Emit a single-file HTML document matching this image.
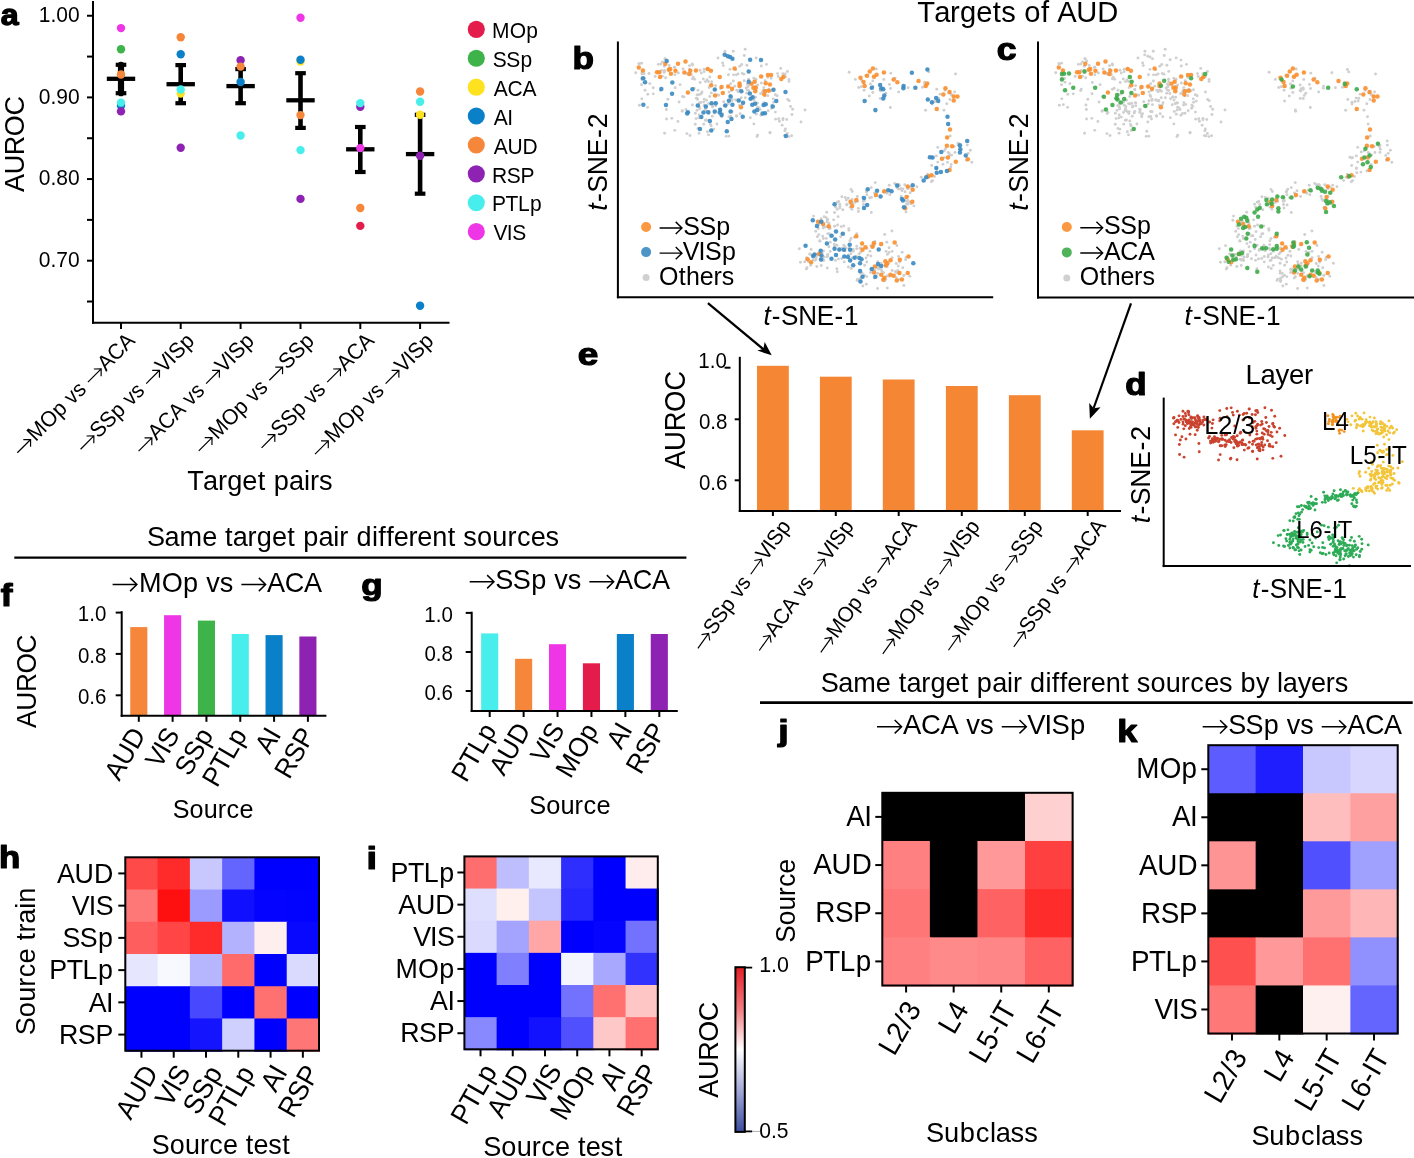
<!DOCTYPE html>
<html><head><meta charset="utf-8"><style>
html,body{margin:0;padding:0;background:#fff;}
svg{display:block;will-change:transform;}
text{font-family:"Liberation Sans",sans-serif;fill:#000;font-kerning:none;font-feature-settings:"kern" 0;}
</style></head><body>
<svg width="1414" height="1158" viewBox="0 0 1414 1158">
<rect width="1414" height="1158" fill="#fff"/>
<text transform="translate(0.70,25.16) scale(1.071,1)" font-size="30.12" font-weight="bold" stroke="#000" stroke-width="1.26" stroke-linejoin="round">a</text>
<line x1="93.00" y1="1.00" x2="93.00" y2="323.80" stroke="#000" stroke-width="2" stroke-linecap="butt"/>
<line x1="92.00" y1="322.80" x2="449.50" y2="322.80" stroke="#000" stroke-width="2" stroke-linecap="butt"/>
<line x1="87.00" y1="15.75" x2="93.00" y2="15.75" stroke="#000" stroke-width="2" stroke-linecap="butt"/>
<line x1="87.00" y1="56.58" x2="93.00" y2="56.58" stroke="#000" stroke-width="2" stroke-linecap="butt"/>
<line x1="87.00" y1="97.40" x2="93.00" y2="97.40" stroke="#000" stroke-width="2" stroke-linecap="butt"/>
<line x1="87.00" y1="138.23" x2="93.00" y2="138.23" stroke="#000" stroke-width="2" stroke-linecap="butt"/>
<line x1="87.00" y1="179.05" x2="93.00" y2="179.05" stroke="#000" stroke-width="2" stroke-linecap="butt"/>
<line x1="87.00" y1="219.88" x2="93.00" y2="219.88" stroke="#000" stroke-width="2" stroke-linecap="butt"/>
<line x1="87.00" y1="260.70" x2="93.00" y2="260.70" stroke="#000" stroke-width="2" stroke-linecap="butt"/>
<line x1="87.00" y1="301.52" x2="93.00" y2="301.52" stroke="#000" stroke-width="2" stroke-linecap="butt"/>
<g transform="translate(79.62,22.00) scale(1,1.04)">
<text y="0" font-size="21.00" fill="#000"><tspan x="-40.87">1</tspan><tspan x="-29.19">.</tspan><tspan x="-23.35">0</tspan><tspan x="-11.68">0</tspan></text>
</g>
<g transform="translate(79.62,103.65) scale(1,1.04)">
<text y="0" font-size="21.00" fill="#000"><tspan x="-40.87">0</tspan><tspan x="-29.19">.</tspan><tspan x="-23.35">9</tspan><tspan x="-11.68">0</tspan></text>
</g>
<g transform="translate(79.62,185.30) scale(1,1.04)">
<text y="0" font-size="21.00" fill="#000"><tspan x="-40.87">0</tspan><tspan x="-29.19">.</tspan><tspan x="-23.35">8</tspan><tspan x="-11.68">0</tspan></text>
</g>
<g transform="translate(79.62,266.95) scale(1,1.04)">
<text y="0" font-size="21.00" fill="#000"><tspan x="-40.87">0</tspan><tspan x="-29.19">.</tspan><tspan x="-23.35">7</tspan><tspan x="-11.68">0</tspan></text>
</g>
<g transform="translate(24.00,191.80) rotate(-90) scale(1,1.04)">
<text y="0" font-size="26.95" fill="#000"><tspan x="-0.26">A</tspan><tspan x="17.46">U</tspan><tspan x="36.68">R</tspan><tspan x="55.65">O</tspan><tspan x="76.36">C</tspan></text>
</g>
<line x1="121.00" y1="322.80" x2="121.00" y2="329.00" stroke="#000" stroke-width="2" stroke-linecap="butt"/>
<g transform="translate(136.00,342.00) rotate(-45) scale(1,1.04)">
<text y="0" font-size="21.00" fill="#000"><tspan x="-141.80">M</tspan><tspan x="-124.12">O</tspan><tspan x="-107.60">p</tspan><tspan x="-89.69">v</tspan><tspan x="-79.19">s</tspan><tspan x="-42.58">A</tspan><tspan x="-28.77">C</tspan><tspan x="-13.81">A</tspan></text>
<path d="M-162.25,-5.38H-143.45M-148.70,-10.29L-143.45,-5.38L-148.70,-0.42M-62.43,-5.38H-43.64M-48.89,-10.29L-43.64,-5.38L-48.89,-0.42" fill="none" stroke="#000" stroke-width="1.16" stroke-linejoin="miter"/>
</g>
<line x1="180.70" y1="322.80" x2="180.70" y2="329.00" stroke="#000" stroke-width="2" stroke-linecap="butt"/>
<g transform="translate(195.70,342.00) rotate(-45) scale(1,1.04)">
<text y="0" font-size="21.00" fill="#000"><tspan x="-137.35">S</tspan><tspan x="-123.74">S</tspan><tspan x="-109.55">p</tspan><tspan x="-91.64">v</tspan><tspan x="-81.14">s</tspan><tspan x="-44.92">V</tspan><tspan x="-31.70">I</tspan><tspan x="-26.26">S</tspan><tspan x="-12.07">p</tspan></text>
<path d="M-157.21,-5.38H-138.41M-143.66,-10.29L-138.41,-5.38L-143.66,-0.42M-64.39,-5.38H-45.59M-50.84,-10.29L-45.59,-5.38L-50.84,-0.42" fill="none" stroke="#000" stroke-width="1.16" stroke-linejoin="miter"/>
</g>
<line x1="240.60" y1="322.80" x2="240.60" y2="329.00" stroke="#000" stroke-width="2" stroke-linecap="butt"/>
<g transform="translate(255.60,342.00) rotate(-45) scale(1,1.04)">
<text y="0" font-size="21.00" fill="#000"><tspan x="-140.06">A</tspan><tspan x="-126.25">C</tspan><tspan x="-111.29">A</tspan><tspan x="-91.64">v</tspan><tspan x="-81.14">s</tspan><tspan x="-44.92">V</tspan><tspan x="-31.70">I</tspan><tspan x="-26.26">S</tspan><tspan x="-12.07">p</tspan></text>
<path d="M-159.92,-5.38H-141.12M-146.37,-10.29L-141.12,-5.38L-146.37,-0.42M-64.39,-5.38H-45.59M-50.84,-10.29L-45.59,-5.38L-50.84,-0.42" fill="none" stroke="#000" stroke-width="1.16" stroke-linejoin="miter"/>
</g>
<line x1="300.50" y1="322.80" x2="300.50" y2="329.00" stroke="#000" stroke-width="2" stroke-linecap="butt"/>
<g transform="translate(315.50,342.00) rotate(-45) scale(1,1.04)">
<text y="0" font-size="21.00" fill="#000"><tspan x="-139.09">M</tspan><tspan x="-121.41">O</tspan><tspan x="-104.89">p</tspan><tspan x="-86.98">v</tspan><tspan x="-76.48">s</tspan><tspan x="-39.87">S</tspan><tspan x="-26.26">S</tspan><tspan x="-12.07">p</tspan></text>
<path d="M-159.54,-5.38H-140.74M-145.99,-10.29L-140.74,-5.38L-145.99,-0.42M-59.72,-5.38H-40.93M-46.18,-10.29L-40.93,-5.38L-46.18,-0.42" fill="none" stroke="#000" stroke-width="1.16" stroke-linejoin="miter"/>
</g>
<line x1="360.30" y1="322.80" x2="360.30" y2="329.00" stroke="#000" stroke-width="2" stroke-linecap="butt"/>
<g transform="translate(375.30,342.00) rotate(-45) scale(1,1.04)">
<text y="0" font-size="21.00" fill="#000"><tspan x="-135.40">S</tspan><tspan x="-121.79">S</tspan><tspan x="-107.60">p</tspan><tspan x="-89.69">v</tspan><tspan x="-79.19">s</tspan><tspan x="-42.58">A</tspan><tspan x="-28.77">C</tspan><tspan x="-13.81">A</tspan></text>
<path d="M-155.25,-5.38H-136.46M-141.71,-10.29L-136.46,-5.38L-141.71,-0.42M-62.43,-5.38H-43.64M-48.89,-10.29L-43.64,-5.38L-48.89,-0.42" fill="none" stroke="#000" stroke-width="1.16" stroke-linejoin="miter"/>
</g>
<line x1="420.10" y1="322.80" x2="420.10" y2="329.00" stroke="#000" stroke-width="2" stroke-linecap="butt"/>
<g transform="translate(435.10,342.00) rotate(-45) scale(1,1.04)">
<text y="0" font-size="21.00" fill="#000"><tspan x="-143.76">M</tspan><tspan x="-126.07">O</tspan><tspan x="-109.55">p</tspan><tspan x="-91.64">v</tspan><tspan x="-81.14">s</tspan><tspan x="-44.92">V</tspan><tspan x="-31.70">I</tspan><tspan x="-26.26">S</tspan><tspan x="-12.07">p</tspan></text>
<path d="M-164.20,-5.38H-145.40M-150.65,-10.29L-145.40,-5.38L-150.65,-0.42M-64.39,-5.38H-45.59M-50.84,-10.29L-45.59,-5.38L-50.84,-0.42" fill="none" stroke="#000" stroke-width="1.16" stroke-linejoin="miter"/>
</g>
<g transform="translate(187.79,490.00) scale(1,1.04)">
<text y="0" font-size="27.15" fill="#000"><tspan x="-0.50">T</tspan><tspan x="15.32">a</tspan><tspan x="30.16">r</tspan><tspan x="39.45">g</tspan><tspan x="54.53">e</tspan><tspan x="69.87">t</tspan><tspan x="85.97">p</tspan><tspan x="101.31">a</tspan><tspan x="116.15">i</tspan><tspan x="122.17">r</tspan><tspan x="131.22">s</tspan></text>
</g>
<circle cx="476.30" cy="29.35" r="8.55" fill="#E31C4B"/>
<g transform="translate(491.59,38.00) scale(1,1.04)">
<text y="0" font-size="21.00" fill="#000"><tspan x="0.39">M</tspan><tspan x="18.07">O</tspan><tspan x="34.60">p</tspan></text>
</g>
<circle cx="476.30" cy="58.25" r="8.55" fill="#3DB34A"/>
<g transform="translate(492.95,66.90) scale(1,1.04)">
<text y="0" font-size="21.00" fill="#000"><tspan x="-0.20">S</tspan><tspan x="13.41">S</tspan><tspan x="27.60">p</tspan></text>
</g>
<circle cx="476.30" cy="87.15" r="8.55" fill="#FFE21F"/>
<g transform="translate(493.86,95.80) scale(1,1.04)">
<text y="0" font-size="21.00" fill="#000"><tspan x="-0.20">A</tspan><tspan x="13.61">C</tspan><tspan x="28.57">A</tspan></text>
</g>
<circle cx="476.30" cy="116.05" r="8.55" fill="#0A80C8"/>
<g transform="translate(493.86,124.70) scale(1,1.04)">
<text y="0" font-size="21.00" fill="#000"><tspan x="-0.20">A</tspan><tspan x="13.41">I</tspan></text>
</g>
<circle cx="476.30" cy="144.95" r="8.55" fill="#F5863A"/>
<g transform="translate(493.86,153.60) scale(1,1.04)">
<text y="0" font-size="21.00" fill="#000"><tspan x="-0.20">A</tspan><tspan x="13.61">U</tspan><tspan x="28.77">D</tspan></text>
</g>
<circle cx="476.30" cy="173.85" r="8.55" fill="#8D22B3"/>
<g transform="translate(492.17,182.50) scale(1,1.04)">
<text y="0" font-size="21.00" fill="#000"><tspan x="-0.19">R</tspan><tspan x="14.58">S</tspan><tspan x="28.39">P</tspan></text>
</g>
<circle cx="476.30" cy="202.75" r="8.55" fill="#48EEEC"/>
<g transform="translate(491.98,211.40) scale(1,1.04)">
<text y="0" font-size="21.00" fill="#000"><tspan x="0.00">P</tspan><tspan x="13.62">T</tspan><tspan x="26.06">L</tspan><tspan x="38.12">p</tspan></text>
</g>
<circle cx="476.30" cy="231.65" r="8.55" fill="#EF36E6"/>
<g transform="translate(494.20,240.30) scale(1,1.04)">
<text y="0" font-size="21.00" fill="#000"><tspan x="-0.59">V</tspan><tspan x="12.63">I</tspan><tspan x="18.07">S</tspan></text>
</g>
<circle cx="121.00" cy="64.80" r="3.1" fill="#000"/>
<circle cx="121.00" cy="93.20" r="3.1" fill="#000"/>
<line x1="121.00" y1="64.80" x2="121.00" y2="93.20" stroke="#000" stroke-width="6.2" stroke-linecap="butt"/>
<line x1="115.70" y1="64.80" x2="126.30" y2="64.80" stroke="#000" stroke-width="4.2" stroke-linecap="butt"/>
<line x1="115.70" y1="93.20" x2="126.30" y2="93.20" stroke="#000" stroke-width="4.2" stroke-linecap="butt"/>
<line x1="106.80" y1="78.80" x2="135.20" y2="78.80" stroke="#000" stroke-width="4.3" stroke-linecap="butt"/>
<line x1="180.70" y1="65.10" x2="180.70" y2="103.20" stroke="#000" stroke-width="4.6" stroke-linecap="butt"/>
<line x1="175.40" y1="65.10" x2="186.00" y2="65.10" stroke="#000" stroke-width="4.2" stroke-linecap="butt"/>
<line x1="175.40" y1="103.20" x2="186.00" y2="103.20" stroke="#000" stroke-width="4.2" stroke-linecap="butt"/>
<line x1="166.50" y1="84.20" x2="194.90" y2="84.20" stroke="#000" stroke-width="4.3" stroke-linecap="butt"/>
<line x1="240.60" y1="69.10" x2="240.60" y2="103.20" stroke="#000" stroke-width="4.6" stroke-linecap="butt"/>
<line x1="235.30" y1="69.10" x2="245.90" y2="69.10" stroke="#000" stroke-width="4.2" stroke-linecap="butt"/>
<line x1="235.30" y1="103.20" x2="245.90" y2="103.20" stroke="#000" stroke-width="4.2" stroke-linecap="butt"/>
<line x1="226.40" y1="86.10" x2="254.80" y2="86.10" stroke="#000" stroke-width="4.3" stroke-linecap="butt"/>
<line x1="300.50" y1="73.20" x2="300.50" y2="127.90" stroke="#000" stroke-width="4.6" stroke-linecap="butt"/>
<line x1="295.20" y1="73.20" x2="305.80" y2="73.20" stroke="#000" stroke-width="4.2" stroke-linecap="butt"/>
<line x1="295.20" y1="127.90" x2="305.80" y2="127.90" stroke="#000" stroke-width="4.2" stroke-linecap="butt"/>
<line x1="286.30" y1="100.30" x2="314.70" y2="100.30" stroke="#000" stroke-width="4.3" stroke-linecap="butt"/>
<line x1="360.30" y1="127.00" x2="360.30" y2="172.00" stroke="#000" stroke-width="4.6" stroke-linecap="butt"/>
<line x1="355.00" y1="127.00" x2="365.60" y2="127.00" stroke="#000" stroke-width="4.2" stroke-linecap="butt"/>
<line x1="355.00" y1="172.00" x2="365.60" y2="172.00" stroke="#000" stroke-width="4.2" stroke-linecap="butt"/>
<line x1="346.10" y1="149.30" x2="374.50" y2="149.30" stroke="#000" stroke-width="4.3" stroke-linecap="butt"/>
<line x1="420.10" y1="114.80" x2="420.10" y2="193.70" stroke="#000" stroke-width="4.6" stroke-linecap="butt"/>
<line x1="414.80" y1="114.80" x2="425.40" y2="114.80" stroke="#000" stroke-width="4.2" stroke-linecap="butt"/>
<line x1="414.80" y1="193.70" x2="425.40" y2="193.70" stroke="#000" stroke-width="4.2" stroke-linecap="butt"/>
<line x1="405.90" y1="154.10" x2="434.30" y2="154.10" stroke="#000" stroke-width="4.3" stroke-linecap="butt"/>
<circle cx="121.00" cy="49.20" r="4.2" fill="#3DB34A"/>
<circle cx="121.00" cy="105.70" r="4.2" fill="#0A80C8"/>
<circle cx="121.00" cy="111.40" r="4.2" fill="#8D22B3"/>
<circle cx="121.00" cy="74.50" r="4.2" fill="#F5863A"/>
<circle cx="121.00" cy="102.60" r="4.2" fill="#48EEEC"/>
<circle cx="121.00" cy="28.10" r="4.2" fill="#EF36E6"/>
<circle cx="180.70" cy="93.60" r="4.2" fill="#FFE21F"/>
<circle cx="180.70" cy="54.20" r="4.2" fill="#0A80C8"/>
<circle cx="180.70" cy="147.70" r="4.2" fill="#8D22B3"/>
<circle cx="180.70" cy="37.20" r="4.2" fill="#F5863A"/>
<circle cx="180.70" cy="89.50" r="4.2" fill="#48EEEC"/>
<circle cx="240.60" cy="82.00" r="4.2" fill="#0A80C8"/>
<circle cx="240.60" cy="60.30" r="4.2" fill="#8D22B3"/>
<circle cx="240.60" cy="66.60" r="4.2" fill="#F5863A"/>
<circle cx="240.60" cy="135.50" r="4.2" fill="#48EEEC"/>
<circle cx="300.50" cy="61.50" r="4.2" fill="#FFE21F"/>
<circle cx="300.50" cy="59.80" r="4.2" fill="#0A80C8"/>
<circle cx="300.50" cy="198.90" r="4.2" fill="#8D22B3"/>
<circle cx="300.50" cy="115.10" r="4.2" fill="#F5863A"/>
<circle cx="300.50" cy="150.10" r="4.2" fill="#48EEEC"/>
<circle cx="300.50" cy="17.70" r="4.2" fill="#EF36E6"/>
<circle cx="360.30" cy="225.90" r="4.2" fill="#E31C4B"/>
<circle cx="360.30" cy="106.80" r="4.2" fill="#8D22B3"/>
<circle cx="360.30" cy="208.00" r="4.2" fill="#F5863A"/>
<circle cx="360.30" cy="103.10" r="4.2" fill="#48EEEC"/>
<circle cx="360.30" cy="148.10" r="4.2" fill="#EF36E6"/>
<circle cx="420.10" cy="114.80" r="4.2" fill="#FFE21F"/>
<circle cx="420.10" cy="305.70" r="4.2" fill="#0A80C8"/>
<circle cx="420.10" cy="155.80" r="4.2" fill="#8D22B3"/>
<circle cx="420.10" cy="91.50" r="4.2" fill="#F5863A"/>
<circle cx="420.10" cy="101.70" r="4.2" fill="#48EEEC"/>
<g transform="translate(917.68,21.70) scale(1,1.04)">
<text y="0" font-size="29.14" fill="#000"><tspan x="-0.54">T</tspan><tspan x="16.45">a</tspan><tspan x="32.37">r</tspan><tspan x="42.34">g</tspan><tspan x="58.52">e</tspan><tspan x="74.99">t</tspan><tspan x="83.63">s</tspan><tspan x="106.56">o</tspan><tspan x="123.29">f</tspan><tspan x="139.47">A</tspan><tspan x="158.63">U</tspan><tspan x="179.67">D</tspan></text>
</g>
<text transform="translate(572.43,68.84) scale(1.107,1)" font-size="31.73" font-weight="bold" stroke="#000" stroke-width="1.23" stroke-linejoin="round">b</text>
<circle cx="757.47" cy="103.01" r="1.45" fill="#CFCFCF"/>
<circle cx="738.14" cy="91.79" r="1.45" fill="#CFCFCF"/>
<circle cx="872.80" cy="92.53" r="1.45" fill="#CFCFCF"/>
<circle cx="886.89" cy="276.06" r="1.45" fill="#CFCFCF"/>
<circle cx="766.09" cy="90.09" r="1.45" fill="#CFCFCF"/>
<circle cx="755.97" cy="79.22" r="1.45" fill="#CFCFCF"/>
<circle cx="902.76" cy="267.71" r="1.45" fill="#CFCFCF"/>
<circle cx="748.49" cy="85.23" r="1.45" fill="#CFCFCF"/>
<circle cx="909.84" cy="276.17" r="1.45" fill="#CFCFCF"/>
<circle cx="714.15" cy="113.07" r="1.45" fill="#CFCFCF"/>
<circle cx="869.27" cy="95.95" r="1.45" fill="#CFCFCF"/>
<circle cx="816.85" cy="266.57" r="1.45" fill="#CFCFCF"/>
<circle cx="860.62" cy="252.31" r="1.45" fill="#CFCFCF"/>
<circle cx="748.76" cy="84.80" r="1.45" fill="#CFCFCF"/>
<circle cx="859.04" cy="253.88" r="1.45" fill="#CFCFCF"/>
<circle cx="699.05" cy="133.20" r="1.45" fill="#CFCFCF"/>
<circle cx="880.25" cy="98.50" r="1.45" fill="#CFCFCF"/>
<circle cx="816.33" cy="256.91" r="1.45" fill="#CFCFCF"/>
<circle cx="697.04" cy="110.37" r="1.45" fill="#CFCFCF"/>
<circle cx="817.45" cy="236.81" r="1.45" fill="#CFCFCF"/>
<circle cx="940.07" cy="94.13" r="1.45" fill="#CFCFCF"/>
<circle cx="760.88" cy="115.22" r="1.45" fill="#CFCFCF"/>
<circle cx="717.20" cy="94.92" r="1.45" fill="#CFCFCF"/>
<circle cx="703.71" cy="124.14" r="1.45" fill="#CFCFCF"/>
<circle cx="708.49" cy="134.83" r="1.45" fill="#CFCFCF"/>
<circle cx="856.18" cy="256.22" r="1.45" fill="#CFCFCF"/>
<circle cx="870.47" cy="83.96" r="1.45" fill="#CFCFCF"/>
<circle cx="842.74" cy="249.63" r="1.45" fill="#CFCFCF"/>
<circle cx="699.37" cy="107.20" r="1.45" fill="#CFCFCF"/>
<circle cx="815.77" cy="231.29" r="1.45" fill="#CFCFCF"/>
<circle cx="838.48" cy="258.88" r="1.45" fill="#CFCFCF"/>
<circle cx="928.76" cy="71.90" r="1.45" fill="#CFCFCF"/>
<circle cx="755.55" cy="86.16" r="1.45" fill="#CFCFCF"/>
<circle cx="682.59" cy="96.56" r="1.45" fill="#CFCFCF"/>
<circle cx="866.76" cy="262.06" r="1.45" fill="#CFCFCF"/>
<circle cx="703.64" cy="102.06" r="1.45" fill="#CFCFCF"/>
<circle cx="866.91" cy="194.65" r="1.45" fill="#CFCFCF"/>
<circle cx="934.47" cy="176.57" r="1.45" fill="#CFCFCF"/>
<circle cx="935.00" cy="101.43" r="1.45" fill="#CFCFCF"/>
<circle cx="823.70" cy="260.52" r="1.45" fill="#CFCFCF"/>
<circle cx="661.49" cy="70.40" r="1.45" fill="#CFCFCF"/>
<circle cx="728.30" cy="103.84" r="1.45" fill="#CFCFCF"/>
<circle cx="679.09" cy="102.07" r="1.45" fill="#CFCFCF"/>
<circle cx="951.31" cy="94.43" r="1.45" fill="#CFCFCF"/>
<circle cx="841.92" cy="196.76" r="1.45" fill="#CFCFCF"/>
<circle cx="843.74" cy="225.93" r="1.45" fill="#CFCFCF"/>
<circle cx="874.94" cy="241.47" r="1.45" fill="#CFCFCF"/>
<circle cx="936.34" cy="155.89" r="1.45" fill="#CFCFCF"/>
<circle cx="931.80" cy="157.96" r="1.45" fill="#CFCFCF"/>
<circle cx="906.08" cy="257.42" r="1.45" fill="#CFCFCF"/>
<circle cx="900.99" cy="188.72" r="1.45" fill="#CFCFCF"/>
<circle cx="894.66" cy="183.55" r="1.45" fill="#CFCFCF"/>
<circle cx="863.23" cy="201.24" r="1.45" fill="#CFCFCF"/>
<circle cx="846.62" cy="204.93" r="1.45" fill="#CFCFCF"/>
<circle cx="759.99" cy="109.53" r="1.45" fill="#CFCFCF"/>
<circle cx="955.55" cy="74.05" r="1.45" fill="#CFCFCF"/>
<circle cx="839.17" cy="250.40" r="1.45" fill="#CFCFCF"/>
<circle cx="971.86" cy="162.27" r="1.45" fill="#CFCFCF"/>
<circle cx="724.08" cy="105.77" r="1.45" fill="#CFCFCF"/>
<circle cx="892.07" cy="251.36" r="1.45" fill="#CFCFCF"/>
<circle cx="647.80" cy="94.23" r="1.45" fill="#CFCFCF"/>
<circle cx="689.54" cy="69.32" r="1.45" fill="#CFCFCF"/>
<circle cx="826.64" cy="212.30" r="1.45" fill="#CFCFCF"/>
<circle cx="718.67" cy="95.19" r="1.45" fill="#CFCFCF"/>
<circle cx="872.80" cy="81.03" r="1.45" fill="#CFCFCF"/>
<circle cx="860.66" cy="280.19" r="1.45" fill="#CFCFCF"/>
<circle cx="884.70" cy="234.48" r="1.45" fill="#CFCFCF"/>
<circle cx="903.90" cy="285.55" r="1.45" fill="#CFCFCF"/>
<circle cx="699.99" cy="70.20" r="1.45" fill="#CFCFCF"/>
<circle cx="820.19" cy="259.29" r="1.45" fill="#CFCFCF"/>
<circle cx="750.35" cy="117.76" r="1.45" fill="#CFCFCF"/>
<circle cx="755.58" cy="97.24" r="1.45" fill="#CFCFCF"/>
<circle cx="898.59" cy="279.44" r="1.45" fill="#CFCFCF"/>
<circle cx="787.66" cy="99.43" r="1.45" fill="#CFCFCF"/>
<circle cx="866.34" cy="191.88" r="1.45" fill="#CFCFCF"/>
<circle cx="818.76" cy="234.61" r="1.45" fill="#CFCFCF"/>
<circle cx="830.25" cy="242.15" r="1.45" fill="#CFCFCF"/>
<circle cx="881.20" cy="263.24" r="1.45" fill="#CFCFCF"/>
<circle cx="800.46" cy="262.30" r="1.45" fill="#CFCFCF"/>
<circle cx="692.50" cy="78.68" r="1.45" fill="#CFCFCF"/>
<circle cx="958.37" cy="143.09" r="1.45" fill="#CFCFCF"/>
<circle cx="782.84" cy="73.74" r="1.45" fill="#CFCFCF"/>
<circle cx="943.98" cy="110.15" r="1.45" fill="#CFCFCF"/>
<circle cx="844.96" cy="246.92" r="1.45" fill="#CFCFCF"/>
<circle cx="898.51" cy="189.14" r="1.45" fill="#CFCFCF"/>
<circle cx="756.54" cy="103.04" r="1.45" fill="#CFCFCF"/>
<circle cx="692.56" cy="65.07" r="1.45" fill="#CFCFCF"/>
<circle cx="834.61" cy="226.31" r="1.45" fill="#CFCFCF"/>
<circle cx="937.73" cy="162.09" r="1.45" fill="#CFCFCF"/>
<circle cx="877.68" cy="273.28" r="1.45" fill="#CFCFCF"/>
<circle cx="860.49" cy="278.25" r="1.45" fill="#CFCFCF"/>
<circle cx="715.35" cy="102.62" r="1.45" fill="#CFCFCF"/>
<circle cx="757.72" cy="85.05" r="1.45" fill="#CFCFCF"/>
<circle cx="837.57" cy="225.04" r="1.45" fill="#CFCFCF"/>
<circle cx="867.91" cy="255.28" r="1.45" fill="#CFCFCF"/>
<circle cx="862.20" cy="273.27" r="1.45" fill="#CFCFCF"/>
<circle cx="887.07" cy="266.68" r="1.45" fill="#CFCFCF"/>
<circle cx="848.94" cy="230.35" r="1.45" fill="#CFCFCF"/>
<circle cx="931.37" cy="181.75" r="1.45" fill="#CFCFCF"/>
<circle cx="945.00" cy="90.19" r="1.45" fill="#CFCFCF"/>
<circle cx="635.73" cy="72.74" r="1.45" fill="#CFCFCF"/>
<circle cx="895.02" cy="78.20" r="1.45" fill="#CFCFCF"/>
<circle cx="870.89" cy="256.04" r="1.45" fill="#CFCFCF"/>
<circle cx="870.62" cy="269.27" r="1.45" fill="#CFCFCF"/>
<circle cx="748.69" cy="90.45" r="1.45" fill="#CFCFCF"/>
<circle cx="857.58" cy="279.26" r="1.45" fill="#CFCFCF"/>
<circle cx="742.23" cy="73.40" r="1.45" fill="#CFCFCF"/>
<circle cx="810.31" cy="254.18" r="1.45" fill="#CFCFCF"/>
<circle cx="658.37" cy="64.33" r="1.45" fill="#CFCFCF"/>
<circle cx="735.66" cy="100.07" r="1.45" fill="#CFCFCF"/>
<circle cx="892.12" cy="257.66" r="1.45" fill="#CFCFCF"/>
<circle cx="949.99" cy="99.45" r="1.45" fill="#CFCFCF"/>
<circle cx="853.34" cy="251.34" r="1.45" fill="#CFCFCF"/>
<circle cx="845.04" cy="250.82" r="1.45" fill="#CFCFCF"/>
<circle cx="883.35" cy="191.97" r="1.45" fill="#CFCFCF"/>
<circle cx="890.36" cy="107.43" r="1.45" fill="#CFCFCF"/>
<circle cx="852.27" cy="257.97" r="1.45" fill="#CFCFCF"/>
<circle cx="968.21" cy="153.35" r="1.45" fill="#CFCFCF"/>
<circle cx="843.84" cy="245.32" r="1.45" fill="#CFCFCF"/>
<circle cx="869.58" cy="197.80" r="1.45" fill="#CFCFCF"/>
<circle cx="889.85" cy="194.67" r="1.45" fill="#CFCFCF"/>
<circle cx="896.10" cy="277.38" r="1.45" fill="#CFCFCF"/>
<circle cx="841.87" cy="234.04" r="1.45" fill="#CFCFCF"/>
<circle cx="768.89" cy="89.28" r="1.45" fill="#CFCFCF"/>
<circle cx="765.13" cy="95.83" r="1.45" fill="#CFCFCF"/>
<circle cx="885.81" cy="279.41" r="1.45" fill="#CFCFCF"/>
<circle cx="730.81" cy="116.48" r="1.45" fill="#CFCFCF"/>
<circle cx="810.77" cy="265.13" r="1.45" fill="#CFCFCF"/>
<circle cx="896.39" cy="184.68" r="1.45" fill="#CFCFCF"/>
<circle cx="719.71" cy="109.29" r="1.45" fill="#CFCFCF"/>
<circle cx="905.60" cy="259.63" r="1.45" fill="#CFCFCF"/>
<circle cx="858.68" cy="87.50" r="1.45" fill="#CFCFCF"/>
<circle cx="854.42" cy="237.31" r="1.45" fill="#CFCFCF"/>
<circle cx="664.35" cy="66.27" r="1.45" fill="#CFCFCF"/>
<circle cx="778.21" cy="76.44" r="1.45" fill="#CFCFCF"/>
<circle cx="736.38" cy="100.05" r="1.45" fill="#CFCFCF"/>
<circle cx="791.63" cy="135.69" r="1.45" fill="#CFCFCF"/>
<circle cx="740.18" cy="90.07" r="1.45" fill="#CFCFCF"/>
<circle cx="878.69" cy="269.04" r="1.45" fill="#CFCFCF"/>
<circle cx="851.92" cy="209.35" r="1.45" fill="#CFCFCF"/>
<circle cx="695.24" cy="124.21" r="1.45" fill="#CFCFCF"/>
<circle cx="898.24" cy="266.04" r="1.45" fill="#CFCFCF"/>
<circle cx="806.34" cy="268.99" r="1.45" fill="#CFCFCF"/>
<circle cx="698.83" cy="105.73" r="1.45" fill="#CFCFCF"/>
<circle cx="857.08" cy="280.40" r="1.45" fill="#CFCFCF"/>
<circle cx="821.25" cy="265.54" r="1.45" fill="#CFCFCF"/>
<circle cx="830.18" cy="228.34" r="1.45" fill="#CFCFCF"/>
<circle cx="848.38" cy="254.83" r="1.45" fill="#CFCFCF"/>
<circle cx="870.51" cy="272.47" r="1.45" fill="#CFCFCF"/>
<circle cx="877.55" cy="288.55" r="1.45" fill="#CFCFCF"/>
<circle cx="836.85" cy="268.80" r="1.45" fill="#CFCFCF"/>
<circle cx="775.39" cy="112.08" r="1.45" fill="#CFCFCF"/>
<circle cx="678.37" cy="72.88" r="1.45" fill="#CFCFCF"/>
<circle cx="709.97" cy="104.01" r="1.45" fill="#CFCFCF"/>
<circle cx="840.59" cy="236.75" r="1.45" fill="#CFCFCF"/>
<circle cx="860.52" cy="247.85" r="1.45" fill="#CFCFCF"/>
<circle cx="807.02" cy="267.72" r="1.45" fill="#CFCFCF"/>
<circle cx="884.24" cy="191.84" r="1.45" fill="#CFCFCF"/>
<circle cx="898.63" cy="91.91" r="1.45" fill="#CFCFCF"/>
<circle cx="701.39" cy="93.35" r="1.45" fill="#CFCFCF"/>
<circle cx="710.52" cy="124.47" r="1.45" fill="#CFCFCF"/>
<circle cx="768.17" cy="110.70" r="1.45" fill="#CFCFCF"/>
<circle cx="860.23" cy="273.31" r="1.45" fill="#CFCFCF"/>
<circle cx="665.59" cy="77.73" r="1.45" fill="#CFCFCF"/>
<circle cx="966.53" cy="160.20" r="1.45" fill="#CFCFCF"/>
<circle cx="683.11" cy="68.88" r="1.45" fill="#CFCFCF"/>
<circle cx="777.57" cy="73.60" r="1.45" fill="#CFCFCF"/>
<circle cx="871.22" cy="187.60" r="1.45" fill="#CFCFCF"/>
<circle cx="886.76" cy="193.26" r="1.45" fill="#CFCFCF"/>
<circle cx="864.64" cy="265.23" r="1.45" fill="#CFCFCF"/>
<circle cx="827.39" cy="226.83" r="1.45" fill="#CFCFCF"/>
<circle cx="895.50" cy="271.49" r="1.45" fill="#CFCFCF"/>
<circle cx="820.16" cy="251.18" r="1.45" fill="#CFCFCF"/>
<circle cx="642.05" cy="72.47" r="1.45" fill="#CFCFCF"/>
<circle cx="674.28" cy="67.20" r="1.45" fill="#CFCFCF"/>
<circle cx="877.73" cy="261.79" r="1.45" fill="#CFCFCF"/>
<circle cx="884.65" cy="280.69" r="1.45" fill="#CFCFCF"/>
<circle cx="908.13" cy="204.14" r="1.45" fill="#CFCFCF"/>
<circle cx="819.68" cy="240.82" r="1.45" fill="#CFCFCF"/>
<circle cx="835.70" cy="207.14" r="1.45" fill="#CFCFCF"/>
<circle cx="742.28" cy="104.84" r="1.45" fill="#CFCFCF"/>
<circle cx="864.47" cy="275.32" r="1.45" fill="#CFCFCF"/>
<circle cx="653.26" cy="93.84" r="1.45" fill="#CFCFCF"/>
<circle cx="709.72" cy="96.56" r="1.45" fill="#CFCFCF"/>
<circle cx="644.55" cy="78.45" r="1.45" fill="#CFCFCF"/>
<circle cx="833.65" cy="219.83" r="1.45" fill="#CFCFCF"/>
<circle cx="946.82" cy="103.71" r="1.45" fill="#CFCFCF"/>
<circle cx="733.26" cy="51.24" r="1.45" fill="#CFCFCF"/>
<circle cx="823.46" cy="225.78" r="1.45" fill="#CFCFCF"/>
<circle cx="773.24" cy="98.85" r="1.45" fill="#CFCFCF"/>
<circle cx="699.20" cy="115.06" r="1.45" fill="#CFCFCF"/>
<circle cx="835.49" cy="260.35" r="1.45" fill="#CFCFCF"/>
<circle cx="859.86" cy="248.34" r="1.45" fill="#CFCFCF"/>
<circle cx="848.42" cy="267.01" r="1.45" fill="#CFCFCF"/>
<circle cx="830.15" cy="251.40" r="1.45" fill="#CFCFCF"/>
<circle cx="708.93" cy="113.56" r="1.45" fill="#CFCFCF"/>
<circle cx="827.56" cy="256.29" r="1.45" fill="#CFCFCF"/>
<circle cx="877.75" cy="267.69" r="1.45" fill="#CFCFCF"/>
<circle cx="732.07" cy="99.20" r="1.45" fill="#CFCFCF"/>
<circle cx="877.11" cy="267.48" r="1.45" fill="#CFCFCF"/>
<circle cx="641.54" cy="84.78" r="1.45" fill="#CFCFCF"/>
<circle cx="904.72" cy="184.82" r="1.45" fill="#CFCFCF"/>
<circle cx="924.60" cy="82.27" r="1.45" fill="#CFCFCF"/>
<circle cx="841.75" cy="258.45" r="1.45" fill="#CFCFCF"/>
<circle cx="850.88" cy="260.26" r="1.45" fill="#CFCFCF"/>
<circle cx="951.18" cy="164.42" r="1.45" fill="#CFCFCF"/>
<circle cx="949.76" cy="91.62" r="1.45" fill="#CFCFCF"/>
<circle cx="787.39" cy="133.54" r="1.45" fill="#CFCFCF"/>
<circle cx="891.94" cy="231.04" r="1.45" fill="#CFCFCF"/>
<circle cx="720.10" cy="111.75" r="1.45" fill="#CFCFCF"/>
<circle cx="967.28" cy="145.10" r="1.45" fill="#CFCFCF"/>
<circle cx="889.43" cy="84.40" r="1.45" fill="#CFCFCF"/>
<circle cx="731.68" cy="90.56" r="1.45" fill="#CFCFCF"/>
<circle cx="823.41" cy="250.98" r="1.45" fill="#CFCFCF"/>
<circle cx="720.56" cy="88.44" r="1.45" fill="#CFCFCF"/>
<circle cx="728.75" cy="136.17" r="1.45" fill="#CFCFCF"/>
<circle cx="875.23" cy="182.62" r="1.45" fill="#CFCFCF"/>
<circle cx="828.99" cy="223.26" r="1.45" fill="#CFCFCF"/>
<circle cx="703.30" cy="79.06" r="1.45" fill="#CFCFCF"/>
<circle cx="739.74" cy="66.27" r="1.45" fill="#CFCFCF"/>
<circle cx="852.31" cy="191.55" r="1.45" fill="#CFCFCF"/>
<circle cx="717.97" cy="58.07" r="1.45" fill="#CFCFCF"/>
<circle cx="708.49" cy="103.58" r="1.45" fill="#CFCFCF"/>
<circle cx="756.36" cy="114.16" r="1.45" fill="#CFCFCF"/>
<circle cx="822.65" cy="236.08" r="1.45" fill="#CFCFCF"/>
<circle cx="695.32" cy="113.28" r="1.45" fill="#CFCFCF"/>
<circle cx="951.21" cy="94.73" r="1.45" fill="#CFCFCF"/>
<circle cx="898.50" cy="256.41" r="1.45" fill="#CFCFCF"/>
<circle cx="706.40" cy="110.88" r="1.45" fill="#CFCFCF"/>
<circle cx="799.32" cy="248.72" r="1.45" fill="#CFCFCF"/>
<circle cx="647.57" cy="107.35" r="1.45" fill="#CFCFCF"/>
<circle cx="861.35" cy="86.72" r="1.45" fill="#CFCFCF"/>
<circle cx="861.83" cy="80.51" r="1.45" fill="#CFCFCF"/>
<circle cx="916.93" cy="186.71" r="1.45" fill="#CFCFCF"/>
<circle cx="871.40" cy="269.89" r="1.45" fill="#CFCFCF"/>
<circle cx="746.19" cy="87.89" r="1.45" fill="#CFCFCF"/>
<circle cx="885.77" cy="93.20" r="1.45" fill="#CFCFCF"/>
<circle cx="837.24" cy="202.17" r="1.45" fill="#CFCFCF"/>
<circle cx="864.06" cy="90.21" r="1.45" fill="#CFCFCF"/>
<circle cx="937.73" cy="147.36" r="1.45" fill="#CFCFCF"/>
<circle cx="706.41" cy="120.02" r="1.45" fill="#CFCFCF"/>
<circle cx="689.52" cy="65.65" r="1.45" fill="#CFCFCF"/>
<circle cx="827.76" cy="254.36" r="1.45" fill="#CFCFCF"/>
<circle cx="761.29" cy="83.00" r="1.45" fill="#CFCFCF"/>
<circle cx="662.30" cy="76.20" r="1.45" fill="#CFCFCF"/>
<circle cx="715.58" cy="85.67" r="1.45" fill="#CFCFCF"/>
<circle cx="899.48" cy="185.44" r="1.45" fill="#CFCFCF"/>
<circle cx="896.20" cy="263.51" r="1.45" fill="#CFCFCF"/>
<circle cx="851.05" cy="238.50" r="1.45" fill="#CFCFCF"/>
<circle cx="639.62" cy="63.66" r="1.45" fill="#CFCFCF"/>
<circle cx="708.37" cy="81.55" r="1.45" fill="#CFCFCF"/>
<circle cx="932.01" cy="104.07" r="1.45" fill="#CFCFCF"/>
<circle cx="901.07" cy="196.50" r="1.45" fill="#CFCFCF"/>
<circle cx="763.85" cy="87.61" r="1.45" fill="#CFCFCF"/>
<circle cx="870.95" cy="245.72" r="1.45" fill="#CFCFCF"/>
<circle cx="907.71" cy="188.73" r="1.45" fill="#CFCFCF"/>
<circle cx="834.32" cy="244.18" r="1.45" fill="#CFCFCF"/>
<circle cx="639.36" cy="105.26" r="1.45" fill="#CFCFCF"/>
<circle cx="697.99" cy="90.26" r="1.45" fill="#CFCFCF"/>
<circle cx="826.90" cy="221.88" r="1.45" fill="#CFCFCF"/>
<circle cx="866.00" cy="258.03" r="1.45" fill="#CFCFCF"/>
<circle cx="763.90" cy="102.61" r="1.45" fill="#CFCFCF"/>
<circle cx="875.60" cy="111.36" r="1.45" fill="#CFCFCF"/>
<circle cx="784.88" cy="130.78" r="1.45" fill="#CFCFCF"/>
<circle cx="970.35" cy="150.32" r="1.45" fill="#CFCFCF"/>
<circle cx="866.33" cy="284.17" r="1.45" fill="#CFCFCF"/>
<circle cx="883.56" cy="272.72" r="1.45" fill="#CFCFCF"/>
<circle cx="662.46" cy="61.87" r="1.45" fill="#CFCFCF"/>
<circle cx="736.56" cy="116.29" r="1.45" fill="#CFCFCF"/>
<circle cx="864.45" cy="200.79" r="1.45" fill="#CFCFCF"/>
<circle cx="898.74" cy="184.57" r="1.45" fill="#CFCFCF"/>
<circle cx="932.61" cy="180.62" r="1.45" fill="#CFCFCF"/>
<circle cx="888.52" cy="275.78" r="1.45" fill="#CFCFCF"/>
<circle cx="928.00" cy="177.90" r="1.45" fill="#CFCFCF"/>
<circle cx="951.70" cy="155.11" r="1.45" fill="#CFCFCF"/>
<circle cx="709.17" cy="111.58" r="1.45" fill="#CFCFCF"/>
<circle cx="904.79" cy="200.06" r="1.45" fill="#CFCFCF"/>
<circle cx="641.89" cy="78.20" r="1.45" fill="#CFCFCF"/>
<circle cx="832.94" cy="235.70" r="1.45" fill="#CFCFCF"/>
<circle cx="770.99" cy="90.72" r="1.45" fill="#CFCFCF"/>
<circle cx="767.84" cy="95.67" r="1.45" fill="#CFCFCF"/>
<circle cx="948.86" cy="92.98" r="1.45" fill="#CFCFCF"/>
<circle cx="925.63" cy="110.26" r="1.45" fill="#CFCFCF"/>
<circle cx="871.31" cy="212.46" r="1.45" fill="#CFCFCF"/>
<circle cx="886.06" cy="251.42" r="1.45" fill="#CFCFCF"/>
<circle cx="869.94" cy="251.24" r="1.45" fill="#CFCFCF"/>
<circle cx="827.06" cy="256.69" r="1.45" fill="#CFCFCF"/>
<circle cx="839.91" cy="206.38" r="1.45" fill="#CFCFCF"/>
<circle cx="701.28" cy="73.06" r="1.45" fill="#CFCFCF"/>
<circle cx="752.98" cy="96.92" r="1.45" fill="#CFCFCF"/>
<circle cx="907.88" cy="196.54" r="1.45" fill="#CFCFCF"/>
<circle cx="855.14" cy="202.54" r="1.45" fill="#CFCFCF"/>
<circle cx="804.79" cy="261.73" r="1.45" fill="#CFCFCF"/>
<circle cx="641.60" cy="63.13" r="1.45" fill="#CFCFCF"/>
<circle cx="907.97" cy="200.45" r="1.45" fill="#CFCFCF"/>
<circle cx="649.87" cy="83.63" r="1.45" fill="#CFCFCF"/>
<circle cx="849.10" cy="248.27" r="1.45" fill="#CFCFCF"/>
<circle cx="706.44" cy="100.27" r="1.45" fill="#CFCFCF"/>
<circle cx="950.24" cy="135.96" r="1.45" fill="#CFCFCF"/>
<circle cx="705.51" cy="108.59" r="1.45" fill="#CFCFCF"/>
<circle cx="911.16" cy="203.71" r="1.45" fill="#CFCFCF"/>
<circle cx="828.97" cy="246.78" r="1.45" fill="#CFCFCF"/>
<circle cx="763.33" cy="90.23" r="1.45" fill="#CFCFCF"/>
<circle cx="850.55" cy="203.75" r="1.45" fill="#CFCFCF"/>
<circle cx="704.09" cy="71.63" r="1.45" fill="#CFCFCF"/>
<circle cx="863.49" cy="204.47" r="1.45" fill="#CFCFCF"/>
<circle cx="767.73" cy="77.37" r="1.45" fill="#CFCFCF"/>
<circle cx="855.35" cy="79.40" r="1.45" fill="#CFCFCF"/>
<circle cx="818.31" cy="228.59" r="1.45" fill="#CFCFCF"/>
<circle cx="829.19" cy="233.81" r="1.45" fill="#CFCFCF"/>
<circle cx="697.07" cy="98.40" r="1.45" fill="#CFCFCF"/>
<circle cx="954.58" cy="91.94" r="1.45" fill="#CFCFCF"/>
<circle cx="756.17" cy="57.92" r="1.45" fill="#CFCFCF"/>
<circle cx="731.91" cy="100.51" r="1.45" fill="#CFCFCF"/>
<circle cx="666.38" cy="109.52" r="1.45" fill="#CFCFCF"/>
<circle cx="958.64" cy="145.57" r="1.45" fill="#CFCFCF"/>
<circle cx="704.33" cy="105.18" r="1.45" fill="#CFCFCF"/>
<circle cx="665.18" cy="58.89" r="1.45" fill="#CFCFCF"/>
<circle cx="841.88" cy="249.26" r="1.45" fill="#CFCFCF"/>
<circle cx="824.04" cy="256.88" r="1.45" fill="#CFCFCF"/>
<circle cx="822.44" cy="221.03" r="1.45" fill="#CFCFCF"/>
<circle cx="721.75" cy="116.72" r="1.45" fill="#CFCFCF"/>
<circle cx="908.05" cy="187.45" r="1.45" fill="#CFCFCF"/>
<circle cx="762.27" cy="92.49" r="1.45" fill="#CFCFCF"/>
<circle cx="813.51" cy="216.11" r="1.45" fill="#CFCFCF"/>
<circle cx="837.01" cy="245.22" r="1.45" fill="#CFCFCF"/>
<circle cx="889.24" cy="185.19" r="1.45" fill="#CFCFCF"/>
<circle cx="709.17" cy="87.49" r="1.45" fill="#CFCFCF"/>
<circle cx="887.29" cy="265.36" r="1.45" fill="#CFCFCF"/>
<circle cx="827.67" cy="219.34" r="1.45" fill="#CFCFCF"/>
<circle cx="759.10" cy="107.93" r="1.45" fill="#CFCFCF"/>
<circle cx="850.14" cy="207.24" r="1.45" fill="#CFCFCF"/>
<circle cx="857.53" cy="257.52" r="1.45" fill="#CFCFCF"/>
<circle cx="876.25" cy="68.97" r="1.45" fill="#CFCFCF"/>
<circle cx="874.47" cy="193.05" r="1.45" fill="#CFCFCF"/>
<circle cx="852.82" cy="202.70" r="1.45" fill="#CFCFCF"/>
<circle cx="724.95" cy="51.29" r="1.45" fill="#CFCFCF"/>
<circle cx="736.80" cy="90.14" r="1.45" fill="#CFCFCF"/>
<circle cx="870.96" cy="88.29" r="1.45" fill="#CFCFCF"/>
<circle cx="880.93" cy="91.10" r="1.45" fill="#CFCFCF"/>
<circle cx="936.49" cy="168.53" r="1.45" fill="#CFCFCF"/>
<circle cx="875.26" cy="196.07" r="1.45" fill="#CFCFCF"/>
<circle cx="931.70" cy="165.49" r="1.45" fill="#CFCFCF"/>
<circle cx="857.55" cy="201.38" r="1.45" fill="#CFCFCF"/>
<circle cx="948.15" cy="152.41" r="1.45" fill="#CFCFCF"/>
<circle cx="849.17" cy="72.23" r="1.45" fill="#CFCFCF"/>
<circle cx="862.87" cy="286.01" r="1.45" fill="#CFCFCF"/>
<circle cx="839.75" cy="204.22" r="1.45" fill="#CFCFCF"/>
<circle cx="890.50" cy="88.50" r="1.45" fill="#CFCFCF"/>
<circle cx="882.00" cy="271.15" r="1.45" fill="#CFCFCF"/>
<circle cx="729.07" cy="92.07" r="1.45" fill="#CFCFCF"/>
<circle cx="733.42" cy="81.07" r="1.45" fill="#CFCFCF"/>
<circle cx="694.20" cy="88.28" r="1.45" fill="#CFCFCF"/>
<circle cx="845.28" cy="197.51" r="1.45" fill="#CFCFCF"/>
<circle cx="842.77" cy="209.82" r="1.45" fill="#CFCFCF"/>
<circle cx="823.08" cy="259.14" r="1.45" fill="#CFCFCF"/>
<circle cx="944.27" cy="150.79" r="1.45" fill="#CFCFCF"/>
<circle cx="883.12" cy="87.95" r="1.45" fill="#CFCFCF"/>
<circle cx="880.77" cy="244.99" r="1.45" fill="#CFCFCF"/>
<circle cx="866.93" cy="248.58" r="1.45" fill="#CFCFCF"/>
<circle cx="938.70" cy="98.25" r="1.45" fill="#CFCFCF"/>
<circle cx="838.65" cy="201.57" r="1.45" fill="#CFCFCF"/>
<circle cx="682.16" cy="110.68" r="1.45" fill="#CFCFCF"/>
<circle cx="823.34" cy="238.47" r="1.45" fill="#CFCFCF"/>
<circle cx="815.17" cy="260.26" r="1.45" fill="#CFCFCF"/>
<circle cx="844.26" cy="261.89" r="1.45" fill="#CFCFCF"/>
<circle cx="848.14" cy="198.24" r="1.45" fill="#CFCFCF"/>
<circle cx="809.68" cy="253.98" r="1.45" fill="#CFCFCF"/>
<circle cx="765.20" cy="80.71" r="1.45" fill="#CFCFCF"/>
<circle cx="865.68" cy="75.78" r="1.45" fill="#CFCFCF"/>
<circle cx="848.76" cy="228.59" r="1.45" fill="#CFCFCF"/>
<circle cx="785.46" cy="76.65" r="1.45" fill="#CFCFCF"/>
<circle cx="895.94" cy="272.48" r="1.45" fill="#CFCFCF"/>
<circle cx="866.78" cy="276.62" r="1.45" fill="#CFCFCF"/>
<circle cx="954.08" cy="146.52" r="1.45" fill="#CFCFCF"/>
<circle cx="851.04" cy="189.42" r="1.45" fill="#CFCFCF"/>
<circle cx="888.95" cy="252.45" r="1.45" fill="#CFCFCF"/>
<circle cx="744.24" cy="55.52" r="1.45" fill="#CFCFCF"/>
<circle cx="903.04" cy="188.88" r="1.45" fill="#CFCFCF"/>
<circle cx="904.12" cy="275.08" r="1.45" fill="#CFCFCF"/>
<circle cx="712.21" cy="116.32" r="1.45" fill="#CFCFCF"/>
<circle cx="753.74" cy="78.31" r="1.45" fill="#CFCFCF"/>
<circle cx="699.30" cy="103.05" r="1.45" fill="#CFCFCF"/>
<circle cx="902.17" cy="252.30" r="1.45" fill="#CFCFCF"/>
<circle cx="660.67" cy="90.45" r="1.45" fill="#CFCFCF"/>
<circle cx="849.89" cy="240.81" r="1.45" fill="#CFCFCF"/>
<circle cx="745.13" cy="49.24" r="1.45" fill="#CFCFCF"/>
<circle cx="906.36" cy="204.21" r="1.45" fill="#CFCFCF"/>
<circle cx="674.92" cy="74.67" r="1.45" fill="#CFCFCF"/>
<circle cx="820.08" cy="241.14" r="1.45" fill="#CFCFCF"/>
<circle cx="883.80" cy="79.43" r="1.45" fill="#CFCFCF"/>
<circle cx="959.55" cy="147.12" r="1.45" fill="#CFCFCF"/>
<circle cx="922.59" cy="87.32" r="1.45" fill="#CFCFCF"/>
<circle cx="880.09" cy="90.56" r="1.45" fill="#CFCFCF"/>
<circle cx="887.29" cy="288.00" r="1.45" fill="#CFCFCF"/>
<circle cx="730.12" cy="95.15" r="1.45" fill="#CFCFCF"/>
<circle cx="699.67" cy="108.90" r="1.45" fill="#CFCFCF"/>
<circle cx="954.94" cy="152.51" r="1.45" fill="#CFCFCF"/>
<circle cx="638.74" cy="63.69" r="1.45" fill="#CFCFCF"/>
<circle cx="715.78" cy="105.83" r="1.45" fill="#CFCFCF"/>
<circle cx="874.26" cy="278.06" r="1.45" fill="#CFCFCF"/>
<circle cx="851.24" cy="268.52" r="1.45" fill="#CFCFCF"/>
<circle cx="692.19" cy="63.88" r="1.45" fill="#CFCFCF"/>
<circle cx="705.39" cy="120.29" r="1.45" fill="#CFCFCF"/>
<circle cx="903.74" cy="275.45" r="1.45" fill="#CFCFCF"/>
<circle cx="949.08" cy="153.15" r="1.45" fill="#CFCFCF"/>
<circle cx="821.59" cy="260.34" r="1.45" fill="#CFCFCF"/>
<circle cx="641.75" cy="98.83" r="1.45" fill="#CFCFCF"/>
<circle cx="748.59" cy="79.31" r="1.45" fill="#CFCFCF"/>
<circle cx="739.54" cy="105.15" r="1.45" fill="#CFCFCF"/>
<circle cx="674.83" cy="67.29" r="1.45" fill="#CFCFCF"/>
<circle cx="746.69" cy="93.23" r="1.45" fill="#CFCFCF"/>
<circle cx="910.17" cy="187.31" r="1.45" fill="#CFCFCF"/>
<circle cx="714.85" cy="89.64" r="1.45" fill="#CFCFCF"/>
<circle cx="747.88" cy="86.70" r="1.45" fill="#CFCFCF"/>
<circle cx="667.85" cy="99.28" r="1.45" fill="#CFCFCF"/>
<circle cx="890.82" cy="73.16" r="1.45" fill="#CFCFCF"/>
<circle cx="896.96" cy="245.43" r="1.45" fill="#CFCFCF"/>
<circle cx="866.49" cy="191.18" r="1.45" fill="#CFCFCF"/>
<circle cx="927.49" cy="174.14" r="1.45" fill="#CFCFCF"/>
<circle cx="716.92" cy="124.06" r="1.45" fill="#CFCFCF"/>
<circle cx="899.57" cy="262.01" r="1.45" fill="#CFCFCF"/>
<circle cx="655.15" cy="76.41" r="1.45" fill="#CFCFCF"/>
<circle cx="850.91" cy="253.71" r="1.45" fill="#CFCFCF"/>
<circle cx="829.15" cy="228.76" r="1.45" fill="#CFCFCF"/>
<circle cx="664.93" cy="58.72" r="1.45" fill="#CFCFCF"/>
<circle cx="816.41" cy="254.11" r="1.45" fill="#CFCFCF"/>
<circle cx="738.82" cy="90.52" r="1.45" fill="#CFCFCF"/>
<circle cx="897.09" cy="187.75" r="1.45" fill="#CFCFCF"/>
<circle cx="728.87" cy="116.76" r="1.45" fill="#CFCFCF"/>
<circle cx="780.71" cy="68.41" r="1.45" fill="#CFCFCF"/>
<circle cx="728.50" cy="74.73" r="1.45" fill="#CFCFCF"/>
<circle cx="782.13" cy="125.13" r="1.45" fill="#CFCFCF"/>
<circle cx="687.37" cy="73.94" r="1.45" fill="#CFCFCF"/>
<circle cx="783.52" cy="76.40" r="1.45" fill="#CFCFCF"/>
<circle cx="712.48" cy="107.09" r="1.45" fill="#CFCFCF"/>
<circle cx="711.23" cy="125.89" r="1.45" fill="#CFCFCF"/>
<circle cx="784.43" cy="135.62" r="1.45" fill="#CFCFCF"/>
<circle cx="773.61" cy="102.23" r="1.45" fill="#CFCFCF"/>
<circle cx="723.74" cy="101.80" r="1.45" fill="#CFCFCF"/>
<circle cx="660.86" cy="63.99" r="1.45" fill="#CFCFCF"/>
<circle cx="789.02" cy="79.54" r="1.45" fill="#CFCFCF"/>
<circle cx="779.44" cy="121.19" r="1.45" fill="#CFCFCF"/>
<circle cx="712.86" cy="105.90" r="1.45" fill="#CFCFCF"/>
<circle cx="736.30" cy="74.87" r="1.45" fill="#CFCFCF"/>
<circle cx="664.44" cy="70.39" r="1.45" fill="#CFCFCF"/>
<circle cx="743.97" cy="74.14" r="1.45" fill="#CFCFCF"/>
<circle cx="791.95" cy="114.56" r="1.45" fill="#CFCFCF"/>
<circle cx="664.17" cy="72.38" r="1.45" fill="#CFCFCF"/>
<circle cx="746.88" cy="65.20" r="1.45" fill="#CFCFCF"/>
<circle cx="669.16" cy="65.50" r="1.45" fill="#CFCFCF"/>
<circle cx="775.63" cy="119.13" r="1.45" fill="#CFCFCF"/>
<circle cx="686.91" cy="133.59" r="1.45" fill="#CFCFCF"/>
<circle cx="732.08" cy="111.81" r="1.45" fill="#CFCFCF"/>
<circle cx="778.76" cy="118.68" r="1.45" fill="#CFCFCF"/>
<circle cx="756.02" cy="90.79" r="1.45" fill="#CFCFCF"/>
<circle cx="693.29" cy="77.24" r="1.45" fill="#CFCFCF"/>
<circle cx="664.57" cy="133.19" r="1.45" fill="#CFCFCF"/>
<circle cx="783.00" cy="118.53" r="1.45" fill="#CFCFCF"/>
<circle cx="671.81" cy="118.36" r="1.45" fill="#CFCFCF"/>
<circle cx="745.35" cy="97.78" r="1.45" fill="#CFCFCF"/>
<circle cx="677.91" cy="121.40" r="1.45" fill="#CFCFCF"/>
<circle cx="747.25" cy="84.08" r="1.45" fill="#CFCFCF"/>
<circle cx="705.43" cy="81.59" r="1.45" fill="#CFCFCF"/>
<circle cx="707.37" cy="131.76" r="1.45" fill="#CFCFCF"/>
<circle cx="666.54" cy="118.99" r="1.45" fill="#CFCFCF"/>
<circle cx="782.90" cy="119.69" r="1.45" fill="#CFCFCF"/>
<circle cx="741.27" cy="97.71" r="1.45" fill="#CFCFCF"/>
<circle cx="698.83" cy="117.92" r="1.45" fill="#CFCFCF"/>
<circle cx="766.52" cy="64.34" r="1.45" fill="#CFCFCF"/>
<circle cx="730.01" cy="69.37" r="1.45" fill="#CFCFCF"/>
<circle cx="723.31" cy="65.61" r="1.45" fill="#CFCFCF"/>
<circle cx="736.42" cy="115.58" r="1.45" fill="#CFCFCF"/>
<circle cx="771.76" cy="105.09" r="1.45" fill="#CFCFCF"/>
<circle cx="698.76" cy="94.70" r="1.45" fill="#CFCFCF"/>
<circle cx="730.68" cy="83.63" r="1.45" fill="#CFCFCF"/>
<circle cx="761.32" cy="66.05" r="1.45" fill="#CFCFCF"/>
<circle cx="706.95" cy="69.18" r="1.45" fill="#CFCFCF"/>
<circle cx="753.85" cy="123.90" r="1.45" fill="#CFCFCF"/>
<circle cx="790.57" cy="106.44" r="1.45" fill="#CFCFCF"/>
<circle cx="789.22" cy="100.64" r="1.45" fill="#CFCFCF"/>
<circle cx="738.03" cy="73.92" r="1.45" fill="#CFCFCF"/>
<circle cx="770.06" cy="132.37" r="1.45" fill="#CFCFCF"/>
<circle cx="691.26" cy="74.43" r="1.45" fill="#CFCFCF"/>
<circle cx="786.73" cy="119.51" r="1.45" fill="#CFCFCF"/>
<circle cx="726.19" cy="136.33" r="1.45" fill="#CFCFCF"/>
<circle cx="735.77" cy="69.84" r="1.45" fill="#CFCFCF"/>
<circle cx="704.10" cy="69.14" r="1.45" fill="#CFCFCF"/>
<circle cx="785.35" cy="128.89" r="1.45" fill="#CFCFCF"/>
<circle cx="760.60" cy="93.66" r="1.45" fill="#CFCFCF"/>
<circle cx="747.19" cy="89.90" r="1.45" fill="#CFCFCF"/>
<circle cx="700.92" cy="94.10" r="1.45" fill="#CFCFCF"/>
<circle cx="733.57" cy="74.83" r="1.45" fill="#CFCFCF"/>
<circle cx="792.63" cy="109.31" r="1.45" fill="#CFCFCF"/>
<circle cx="787.43" cy="71.52" r="1.45" fill="#CFCFCF"/>
<circle cx="740.20" cy="113.69" r="1.45" fill="#CFCFCF"/>
<circle cx="741.72" cy="64.54" r="1.45" fill="#CFCFCF"/>
<circle cx="738.51" cy="101.13" r="1.45" fill="#CFCFCF"/>
<circle cx="777.18" cy="95.77" r="1.45" fill="#CFCFCF"/>
<circle cx="734.75" cy="86.25" r="1.45" fill="#CFCFCF"/>
<circle cx="722.53" cy="113.68" r="1.45" fill="#CFCFCF"/>
<circle cx="694.72" cy="79.33" r="1.45" fill="#CFCFCF"/>
<circle cx="705.10" cy="110.20" r="1.45" fill="#CFCFCF"/>
<circle cx="754.04" cy="100.08" r="1.45" fill="#CFCFCF"/>
<circle cx="696.11" cy="118.61" r="1.45" fill="#CFCFCF"/>
<circle cx="771.58" cy="108.30" r="1.45" fill="#CFCFCF"/>
<circle cx="757.65" cy="135.11" r="1.45" fill="#CFCFCF"/>
<circle cx="757.63" cy="107.22" r="1.45" fill="#CFCFCF"/>
<circle cx="707.07" cy="79.72" r="1.45" fill="#CFCFCF"/>
<circle cx="789.03" cy="81.40" r="1.45" fill="#CFCFCF"/>
<circle cx="788.92" cy="136.62" r="1.45" fill="#CFCFCF"/>
<circle cx="682.22" cy="111.34" r="1.45" fill="#CFCFCF"/>
<circle cx="686.38" cy="73.32" r="1.45" fill="#CFCFCF"/>
<circle cx="680.02" cy="84.66" r="1.45" fill="#CFCFCF"/>
<circle cx="700.15" cy="82.54" r="1.45" fill="#CFCFCF"/>
<circle cx="674.75" cy="130.36" r="1.45" fill="#CFCFCF"/>
<circle cx="697.91" cy="128.39" r="1.45" fill="#CFCFCF"/>
<circle cx="722.63" cy="62.95" r="1.45" fill="#CFCFCF"/>
<circle cx="775.33" cy="94.74" r="1.45" fill="#CFCFCF"/>
<circle cx="690.03" cy="135.57" r="1.45" fill="#CFCFCF"/>
<circle cx="801.00" cy="122.00" r="1.45" fill="#CFCFCF"/>
<circle cx="757.00" cy="136.50" r="1.45" fill="#CFCFCF"/>
<circle cx="770.00" cy="133.00" r="1.45" fill="#CFCFCF"/>
<circle cx="805.00" cy="110.00" r="1.45" fill="#CFCFCF"/>
<circle cx="641.92" cy="73.95" r="1.45" fill="#CFCFCF"/>
<circle cx="644.05" cy="73.66" r="1.45" fill="#CFCFCF"/>
<circle cx="649.00" cy="73.52" r="1.45" fill="#CFCFCF"/>
<circle cx="641.92" cy="79.60" r="1.45" fill="#CFCFCF"/>
<circle cx="645.04" cy="90.21" r="1.45" fill="#CFCFCF"/>
<circle cx="653.24" cy="87.81" r="1.45" fill="#CFCFCF"/>
<circle cx="664.55" cy="71.40" r="1.45" fill="#CFCFCF"/>
<circle cx="675.16" cy="87.67" r="1.45" fill="#CFCFCF"/>
<circle cx="683.93" cy="96.86" r="1.45" fill="#CFCFCF"/>
<circle cx="685.91" cy="109.45" r="1.45" fill="#CFCFCF"/>
<circle cx="692.42" cy="105.06" r="1.45" fill="#CFCFCF"/>
<circle cx="697.09" cy="94.88" r="1.45" fill="#CFCFCF"/>
<circle cx="696.38" cy="98.27" r="1.45" fill="#CFCFCF"/>
<circle cx="697.51" cy="99.41" r="1.45" fill="#CFCFCF"/>
<circle cx="700.91" cy="102.52" r="1.45" fill="#CFCFCF"/>
<circle cx="702.04" cy="92.05" r="1.45" fill="#CFCFCF"/>
<circle cx="704.16" cy="99.12" r="1.45" fill="#CFCFCF"/>
<circle cx="709.82" cy="77.06" r="1.45" fill="#CFCFCF"/>
<circle cx="711.65" cy="81.73" r="1.45" fill="#CFCFCF"/>
<circle cx="711.37" cy="93.04" r="1.45" fill="#CFCFCF"/>
<circle cx="713.78" cy="129.11" r="1.45" fill="#CFCFCF"/>
<circle cx="725.37" cy="106.05" r="1.45" fill="#CFCFCF"/>
<circle cx="740.93" cy="85.69" r="1.45" fill="#CFCFCF"/>
<circle cx="744.19" cy="80.74" r="1.45" fill="#CFCFCF"/>
<circle cx="771.06" cy="78.19" r="1.45" fill="#CFCFCF"/>
<circle cx="785.21" cy="73.95" r="1.45" fill="#CFCFCF"/>
<circle cx="861.50" cy="79.46" r="1.45" fill="#CFCFCF"/>
<circle cx="872.90" cy="86.50" r="1.45" fill="#CFCFCF"/>
<circle cx="908.13" cy="87.75" r="1.45" fill="#CFCFCF"/>
<circle cx="924.72" cy="84.02" r="1.45" fill="#CFCFCF"/>
<circle cx="936.74" cy="89.20" r="1.45" fill="#CFCFCF"/>
<circle cx="957.88" cy="143.70" r="1.45" fill="#CFCFCF"/>
<circle cx="945.44" cy="148.68" r="1.45" fill="#CFCFCF"/>
<circle cx="949.59" cy="155.52" r="1.45" fill="#CFCFCF"/>
<circle cx="944.40" cy="157.59" r="1.45" fill="#CFCFCF"/>
<circle cx="942.95" cy="164.22" r="1.45" fill="#CFCFCF"/>
<circle cx="947.51" cy="162.36" r="1.45" fill="#CFCFCF"/>
<circle cx="950.83" cy="166.92" r="1.45" fill="#CFCFCF"/>
<circle cx="921.19" cy="177.28" r="1.45" fill="#CFCFCF"/>
<circle cx="929.27" cy="176.24" r="1.45" fill="#CFCFCF"/>
<circle cx="890.52" cy="190.13" r="1.45" fill="#CFCFCF"/>
<circle cx="897.77" cy="187.64" r="1.45" fill="#CFCFCF"/>
<circle cx="900.88" cy="188.68" r="1.45" fill="#CFCFCF"/>
<circle cx="901.92" cy="190.75" r="1.45" fill="#CFCFCF"/>
<circle cx="905.03" cy="191.79" r="1.45" fill="#CFCFCF"/>
<circle cx="910.21" cy="192.82" r="1.45" fill="#CFCFCF"/>
<circle cx="871.45" cy="197.38" r="1.45" fill="#CFCFCF"/>
<circle cx="862.95" cy="197.18" r="1.45" fill="#CFCFCF"/>
<circle cx="857.36" cy="196.55" r="1.45" fill="#CFCFCF"/>
<circle cx="852.18" cy="199.46" r="1.45" fill="#CFCFCF"/>
<circle cx="846.37" cy="200.08" r="1.45" fill="#CFCFCF"/>
<circle cx="846.99" cy="204.22" r="1.45" fill="#CFCFCF"/>
<circle cx="851.55" cy="203.81" r="1.45" fill="#CFCFCF"/>
<circle cx="858.39" cy="208.37" r="1.45" fill="#CFCFCF"/>
<circle cx="858.39" cy="211.48" r="1.45" fill="#CFCFCF"/>
<circle cx="839.74" cy="207.95" r="1.45" fill="#CFCFCF"/>
<circle cx="837.25" cy="209.40" r="1.45" fill="#CFCFCF"/>
<circle cx="834.56" cy="212.51" r="1.45" fill="#CFCFCF"/>
<circle cx="838.08" cy="216.66" r="1.45" fill="#CFCFCF"/>
<circle cx="906.06" cy="201.11" r="1.45" fill="#CFCFCF"/>
<circle cx="907.72" cy="203.19" r="1.45" fill="#CFCFCF"/>
<circle cx="909.79" cy="202.15" r="1.45" fill="#CFCFCF"/>
<circle cx="913.94" cy="205.88" r="1.45" fill="#CFCFCF"/>
<circle cx="906.06" cy="211.89" r="1.45" fill="#CFCFCF"/>
<circle cx="821.09" cy="218.73" r="1.45" fill="#CFCFCF"/>
<circle cx="824.20" cy="216.66" r="1.45" fill="#CFCFCF"/>
<circle cx="826.27" cy="217.69" r="1.45" fill="#CFCFCF"/>
<circle cx="827.31" cy="220.80" r="1.45" fill="#CFCFCF"/>
<circle cx="819.02" cy="224.53" r="1.45" fill="#CFCFCF"/>
<circle cx="823.16" cy="228.06" r="1.45" fill="#CFCFCF"/>
<circle cx="825.23" cy="227.02" r="1.45" fill="#CFCFCF"/>
<circle cx="841.19" cy="226.61" r="1.45" fill="#CFCFCF"/>
<circle cx="827.72" cy="233.65" r="1.45" fill="#CFCFCF"/>
<circle cx="826.27" cy="238.42" r="1.45" fill="#CFCFCF"/>
<circle cx="856.74" cy="233.65" r="1.45" fill="#CFCFCF"/>
<circle cx="834.56" cy="246.09" r="1.45" fill="#CFCFCF"/>
<circle cx="842.23" cy="248.16" r="1.45" fill="#CFCFCF"/>
<circle cx="845.96" cy="248.16" r="1.45" fill="#CFCFCF"/>
<circle cx="853.21" cy="249.20" r="1.45" fill="#CFCFCF"/>
<circle cx="856.74" cy="246.09" r="1.45" fill="#CFCFCF"/>
<circle cx="856.74" cy="248.78" r="1.45" fill="#CFCFCF"/>
<circle cx="873.32" cy="242.56" r="1.45" fill="#CFCFCF"/>
<circle cx="873.94" cy="245.67" r="1.45" fill="#CFCFCF"/>
<circle cx="873.32" cy="246.71" r="1.45" fill="#CFCFCF"/>
<circle cx="886.79" cy="242.15" r="1.45" fill="#CFCFCF"/>
<circle cx="889.07" cy="247.75" r="1.45" fill="#CFCFCF"/>
<circle cx="887.41" cy="254.38" r="1.45" fill="#CFCFCF"/>
<circle cx="811.14" cy="249.40" r="1.45" fill="#CFCFCF"/>
<circle cx="806.58" cy="257.69" r="1.45" fill="#CFCFCF"/>
<circle cx="808.65" cy="261.84" r="1.45" fill="#CFCFCF"/>
<circle cx="812.38" cy="255.62" r="1.45" fill="#CFCFCF"/>
<circle cx="813.21" cy="259.77" r="1.45" fill="#CFCFCF"/>
<circle cx="815.91" cy="259.15" r="1.45" fill="#CFCFCF"/>
<circle cx="819.02" cy="253.96" r="1.45" fill="#CFCFCF"/>
<circle cx="822.12" cy="252.93" r="1.45" fill="#CFCFCF"/>
<circle cx="827.31" cy="268.06" r="1.45" fill="#CFCFCF"/>
<circle cx="837.25" cy="271.79" r="1.45" fill="#CFCFCF"/>
<circle cx="874.97" cy="270.54" r="1.45" fill="#CFCFCF"/>
<circle cx="878.50" cy="266.40" r="1.45" fill="#CFCFCF"/>
<circle cx="881.19" cy="269.51" r="1.45" fill="#CFCFCF"/>
<circle cx="885.75" cy="266.40" r="1.45" fill="#CFCFCF"/>
<circle cx="889.48" cy="276.35" r="1.45" fill="#CFCFCF"/>
<circle cx="892.18" cy="270.54" r="1.45" fill="#CFCFCF"/>
<circle cx="897.77" cy="272.62" r="1.45" fill="#CFCFCF"/>
<circle cx="899.43" cy="273.65" r="1.45" fill="#CFCFCF"/>
<circle cx="897.77" cy="270.54" r="1.45" fill="#CFCFCF"/>
<circle cx="638.81" cy="67.58" r="2.25" fill="#FA8E2D" fill-opacity="0.9"/>
<circle cx="642.91" cy="70.41" r="2.25" fill="#FA8E2D" fill-opacity="0.9"/>
<circle cx="657.06" cy="72.25" r="2.25" fill="#FA8E2D" fill-opacity="0.9"/>
<circle cx="659.32" cy="72.25" r="2.25" fill="#FA8E2D" fill-opacity="0.9"/>
<circle cx="660.03" cy="77.06" r="2.25" fill="#FA8E2D" fill-opacity="0.9"/>
<circle cx="665.26" cy="63.76" r="2.25" fill="#FA8E2D" fill-opacity="0.9"/>
<circle cx="668.80" cy="69.70" r="2.25" fill="#FA8E2D" fill-opacity="0.9"/>
<circle cx="670.21" cy="69.00" r="2.25" fill="#FA8E2D" fill-opacity="0.9"/>
<circle cx="670.92" cy="73.66" r="2.25" fill="#FA8E2D" fill-opacity="0.9"/>
<circle cx="675.45" cy="70.83" r="2.25" fill="#FA8E2D" fill-opacity="0.9"/>
<circle cx="677.99" cy="63.76" r="2.25" fill="#FA8E2D" fill-opacity="0.9"/>
<circle cx="685.49" cy="61.50" r="2.25" fill="#FA8E2D" fill-opacity="0.9"/>
<circle cx="684.36" cy="72.53" r="2.25" fill="#FA8E2D" fill-opacity="0.9"/>
<circle cx="689.31" cy="73.95" r="2.25" fill="#FA8E2D" fill-opacity="0.9"/>
<circle cx="690.30" cy="70.83" r="2.25" fill="#FA8E2D" fill-opacity="0.9"/>
<circle cx="695.95" cy="70.41" r="2.25" fill="#FA8E2D" fill-opacity="0.9"/>
<circle cx="707.69" cy="69.00" r="2.25" fill="#FA8E2D" fill-opacity="0.9"/>
<circle cx="710.95" cy="70.83" r="2.25" fill="#FA8E2D" fill-opacity="0.9"/>
<circle cx="719.72" cy="77.06" r="2.25" fill="#FA8E2D" fill-opacity="0.9"/>
<circle cx="711.23" cy="85.26" r="2.25" fill="#FA8E2D" fill-opacity="0.9"/>
<circle cx="715.05" cy="95.45" r="2.25" fill="#FA8E2D" fill-opacity="0.9"/>
<circle cx="721.56" cy="86.96" r="2.25" fill="#FA8E2D" fill-opacity="0.9"/>
<circle cx="722.83" cy="93.04" r="2.25" fill="#FA8E2D" fill-opacity="0.9"/>
<circle cx="728.20" cy="86.39" r="2.25" fill="#FA8E2D" fill-opacity="0.9"/>
<circle cx="732.02" cy="88.80" r="2.25" fill="#FA8E2D" fill-opacity="0.9"/>
<circle cx="734.57" cy="68.57" r="2.25" fill="#FA8E2D" fill-opacity="0.9"/>
<circle cx="739.52" cy="83.56" r="2.25" fill="#FA8E2D" fill-opacity="0.9"/>
<circle cx="739.52" cy="85.97" r="2.25" fill="#FA8E2D" fill-opacity="0.9"/>
<circle cx="740.93" cy="107.19" r="2.25" fill="#FA8E2D" fill-opacity="0.9"/>
<circle cx="751.54" cy="83.85" r="2.25" fill="#FA8E2D" fill-opacity="0.9"/>
<circle cx="754.65" cy="81.73" r="2.25" fill="#FA8E2D" fill-opacity="0.9"/>
<circle cx="753.38" cy="87.81" r="2.25" fill="#FA8E2D" fill-opacity="0.9"/>
<circle cx="755.79" cy="87.81" r="2.25" fill="#FA8E2D" fill-opacity="0.9"/>
<circle cx="755.22" cy="91.20" r="2.25" fill="#FA8E2D" fill-opacity="0.9"/>
<circle cx="761.16" cy="76.49" r="2.25" fill="#FA8E2D" fill-opacity="0.9"/>
<circle cx="765.69" cy="83.14" r="2.25" fill="#FA8E2D" fill-opacity="0.9"/>
<circle cx="767.95" cy="75.08" r="2.25" fill="#FA8E2D" fill-opacity="0.9"/>
<circle cx="771.06" cy="75.08" r="2.25" fill="#FA8E2D" fill-opacity="0.9"/>
<circle cx="769.93" cy="84.55" r="2.25" fill="#FA8E2D" fill-opacity="0.9"/>
<circle cx="764.98" cy="91.20" r="2.25" fill="#FA8E2D" fill-opacity="0.9"/>
<circle cx="768.80" cy="90.64" r="2.25" fill="#FA8E2D" fill-opacity="0.9"/>
<circle cx="764.27" cy="94.46" r="2.25" fill="#FA8E2D" fill-opacity="0.9"/>
<circle cx="781.24" cy="78.90" r="2.25" fill="#FA8E2D" fill-opacity="0.9"/>
<circle cx="783.37" cy="77.06" r="2.25" fill="#FA8E2D" fill-opacity="0.9"/>
<circle cx="687.89" cy="92.62" r="2.25" fill="#FA8E2D" fill-opacity="0.9"/>
<circle cx="860.47" cy="77.80" r="2.25" fill="#FA8E2D" fill-opacity="0.9"/>
<circle cx="863.58" cy="81.94" r="2.25" fill="#FA8E2D" fill-opacity="0.9"/>
<circle cx="864.61" cy="86.09" r="2.25" fill="#FA8E2D" fill-opacity="0.9"/>
<circle cx="867.10" cy="75.73" r="2.25" fill="#FA8E2D" fill-opacity="0.9"/>
<circle cx="869.79" cy="71.58" r="2.25" fill="#FA8E2D" fill-opacity="0.9"/>
<circle cx="872.90" cy="68.47" r="2.25" fill="#FA8E2D" fill-opacity="0.9"/>
<circle cx="873.94" cy="76.76" r="2.25" fill="#FA8E2D" fill-opacity="0.9"/>
<circle cx="876.63" cy="74.69" r="2.25" fill="#FA8E2D" fill-opacity="0.9"/>
<circle cx="883.89" cy="72.62" r="2.25" fill="#FA8E2D" fill-opacity="0.9"/>
<circle cx="893.63" cy="79.46" r="2.25" fill="#FA8E2D" fill-opacity="0.9"/>
<circle cx="897.36" cy="82.36" r="2.25" fill="#FA8E2D" fill-opacity="0.9"/>
<circle cx="918.50" cy="80.91" r="2.25" fill="#FA8E2D" fill-opacity="0.9"/>
<circle cx="925.75" cy="86.09" r="2.25" fill="#FA8E2D" fill-opacity="0.9"/>
<circle cx="927.20" cy="83.39" r="2.25" fill="#FA8E2D" fill-opacity="0.9"/>
<circle cx="945.44" cy="88.16" r="2.25" fill="#FA8E2D" fill-opacity="0.9"/>
<circle cx="943.37" cy="94.38" r="2.25" fill="#FA8E2D" fill-opacity="0.9"/>
<circle cx="949.59" cy="91.89" r="2.25" fill="#FA8E2D" fill-opacity="0.9"/>
<circle cx="953.73" cy="96.45" r="2.25" fill="#FA8E2D" fill-opacity="0.9"/>
<circle cx="957.46" cy="96.45" r="2.25" fill="#FA8E2D" fill-opacity="0.9"/>
<circle cx="953.73" cy="100.60" r="2.25" fill="#FA8E2D" fill-opacity="0.9"/>
<circle cx="936.74" cy="108.89" r="2.25" fill="#FA8E2D" fill-opacity="0.9"/>
<circle cx="950.00" cy="129.61" r="2.25" fill="#FA8E2D" fill-opacity="0.9"/>
<circle cx="947.10" cy="137.49" r="2.25" fill="#FA8E2D" fill-opacity="0.9"/>
<circle cx="946.89" cy="145.78" r="2.25" fill="#FA8E2D" fill-opacity="0.9"/>
<circle cx="952.07" cy="146.19" r="2.25" fill="#FA8E2D" fill-opacity="0.9"/>
<circle cx="941.92" cy="158.63" r="2.25" fill="#FA8E2D" fill-opacity="0.9"/>
<circle cx="947.93" cy="157.59" r="2.25" fill="#FA8E2D" fill-opacity="0.9"/>
<circle cx="955.80" cy="161.74" r="2.25" fill="#FA8E2D" fill-opacity="0.9"/>
<circle cx="967.82" cy="159.25" r="2.25" fill="#FA8E2D" fill-opacity="0.9"/>
<circle cx="949.59" cy="170.03" r="2.25" fill="#FA8E2D" fill-opacity="0.9"/>
<circle cx="931.55" cy="175.21" r="2.25" fill="#FA8E2D" fill-opacity="0.9"/>
<circle cx="928.45" cy="176.24" r="2.25" fill="#FA8E2D" fill-opacity="0.9"/>
<circle cx="907.72" cy="186.61" r="2.25" fill="#FA8E2D" fill-opacity="0.9"/>
<circle cx="912.69" cy="189.72" r="2.25" fill="#FA8E2D" fill-opacity="0.9"/>
<circle cx="876.01" cy="194.90" r="2.25" fill="#FA8E2D" fill-opacity="0.9"/>
<circle cx="884.30" cy="191.37" r="2.25" fill="#FA8E2D" fill-opacity="0.9"/>
<circle cx="850.52" cy="201.74" r="2.25" fill="#FA8E2D" fill-opacity="0.9"/>
<circle cx="852.18" cy="205.88" r="2.25" fill="#FA8E2D" fill-opacity="0.9"/>
<circle cx="856.32" cy="200.08" r="2.25" fill="#FA8E2D" fill-opacity="0.9"/>
<circle cx="906.48" cy="196.97" r="2.25" fill="#FA8E2D" fill-opacity="0.9"/>
<circle cx="912.28" cy="201.74" r="2.25" fill="#FA8E2D" fill-opacity="0.9"/>
<circle cx="905.23" cy="208.37" r="2.25" fill="#FA8E2D" fill-opacity="0.9"/>
<circle cx="817.98" cy="221.84" r="2.25" fill="#FA8E2D" fill-opacity="0.9"/>
<circle cx="823.16" cy="223.91" r="2.25" fill="#FA8E2D" fill-opacity="0.9"/>
<circle cx="828.76" cy="226.19" r="2.25" fill="#FA8E2D" fill-opacity="0.9"/>
<circle cx="819.02" cy="253.96" r="2.25" fill="#FA8E2D" fill-opacity="0.9"/>
<circle cx="807.62" cy="259.15" r="2.25" fill="#FA8E2D" fill-opacity="0.9"/>
<circle cx="811.14" cy="262.25" r="2.25" fill="#FA8E2D" fill-opacity="0.9"/>
<circle cx="856.32" cy="236.35" r="2.25" fill="#FA8E2D" fill-opacity="0.9"/>
<circle cx="862.12" cy="243.60" r="2.25" fill="#FA8E2D" fill-opacity="0.9"/>
<circle cx="862.54" cy="249.82" r="2.25" fill="#FA8E2D" fill-opacity="0.9"/>
<circle cx="865.44" cy="247.33" r="2.25" fill="#FA8E2D" fill-opacity="0.9"/>
<circle cx="872.49" cy="246.71" r="2.25" fill="#FA8E2D" fill-opacity="0.9"/>
<circle cx="873.94" cy="243.19" r="2.25" fill="#FA8E2D" fill-opacity="0.9"/>
<circle cx="881.19" cy="244.02" r="2.25" fill="#FA8E2D" fill-opacity="0.9"/>
<circle cx="894.66" cy="242.56" r="2.25" fill="#FA8E2D" fill-opacity="0.9"/>
<circle cx="885.34" cy="261.22" r="2.25" fill="#FA8E2D" fill-opacity="0.9"/>
<circle cx="887.41" cy="263.29" r="2.25" fill="#FA8E2D" fill-opacity="0.9"/>
<circle cx="890.52" cy="260.18" r="2.25" fill="#FA8E2D" fill-opacity="0.9"/>
<circle cx="885.75" cy="265.36" r="2.25" fill="#FA8E2D" fill-opacity="0.9"/>
<circle cx="899.84" cy="259.77" r="2.25" fill="#FA8E2D" fill-opacity="0.9"/>
<circle cx="908.55" cy="256.45" r="2.25" fill="#FA8E2D" fill-opacity="0.9"/>
<circle cx="874.97" cy="266.40" r="2.25" fill="#FA8E2D" fill-opacity="0.9"/>
<circle cx="873.94" cy="272.62" r="2.25" fill="#FA8E2D" fill-opacity="0.9"/>
<circle cx="881.19" cy="274.69" r="2.25" fill="#FA8E2D" fill-opacity="0.9"/>
<circle cx="884.30" cy="277.80" r="2.25" fill="#FA8E2D" fill-opacity="0.9"/>
<circle cx="890.52" cy="274.69" r="2.25" fill="#FA8E2D" fill-opacity="0.9"/>
<circle cx="893.63" cy="275.73" r="2.25" fill="#FA8E2D" fill-opacity="0.9"/>
<circle cx="899.43" cy="273.03" r="2.25" fill="#FA8E2D" fill-opacity="0.9"/>
<circle cx="907.72" cy="273.03" r="2.25" fill="#FA8E2D" fill-opacity="0.9"/>
<circle cx="896.74" cy="280.49" r="2.25" fill="#FA8E2D" fill-opacity="0.9"/>
<circle cx="901.92" cy="279.46" r="2.25" fill="#FA8E2D" fill-opacity="0.9"/>
<circle cx="883.26" cy="279.87" r="2.25" fill="#FA8E2D" fill-opacity="0.9"/>
<circle cx="666.68" cy="60.93" r="2.25" fill="#3A88C1" fill-opacity="0.9"/>
<circle cx="643.06" cy="78.19" r="2.25" fill="#3A88C1" fill-opacity="0.9"/>
<circle cx="645.04" cy="82.15" r="2.25" fill="#3A88C1" fill-opacity="0.9"/>
<circle cx="661.30" cy="89.08" r="2.25" fill="#3A88C1" fill-opacity="0.9"/>
<circle cx="672.33" cy="82.43" r="2.25" fill="#3A88C1" fill-opacity="0.9"/>
<circle cx="672.05" cy="93.75" r="2.25" fill="#3A88C1" fill-opacity="0.9"/>
<circle cx="643.34" cy="104.64" r="2.25" fill="#3A88C1" fill-opacity="0.9"/>
<circle cx="665.97" cy="105.06" r="2.25" fill="#3A88C1" fill-opacity="0.9"/>
<circle cx="692.42" cy="89.22" r="2.25" fill="#3A88C1" fill-opacity="0.9"/>
<circle cx="714.77" cy="89.50" r="2.25" fill="#3A88C1" fill-opacity="0.9"/>
<circle cx="697.79" cy="105.49" r="2.25" fill="#3A88C1" fill-opacity="0.9"/>
<circle cx="705.86" cy="106.48" r="2.25" fill="#3A88C1" fill-opacity="0.9"/>
<circle cx="711.65" cy="103.22" r="2.25" fill="#3A88C1" fill-opacity="0.9"/>
<circle cx="715.76" cy="103.22" r="2.25" fill="#3A88C1" fill-opacity="0.9"/>
<circle cx="725.37" cy="105.49" r="2.25" fill="#3A88C1" fill-opacity="0.9"/>
<circle cx="730.61" cy="96.58" r="2.25" fill="#3A88C1" fill-opacity="0.9"/>
<circle cx="728.91" cy="100.82" r="2.25" fill="#3A88C1" fill-opacity="0.9"/>
<circle cx="732.45" cy="104.64" r="2.25" fill="#3A88C1" fill-opacity="0.9"/>
<circle cx="738.81" cy="100.54" r="2.25" fill="#3A88C1" fill-opacity="0.9"/>
<circle cx="741.36" cy="91.20" r="2.25" fill="#3A88C1" fill-opacity="0.9"/>
<circle cx="743.06" cy="102.66" r="2.25" fill="#3A88C1" fill-opacity="0.9"/>
<circle cx="749.84" cy="93.47" r="2.25" fill="#3A88C1" fill-opacity="0.9"/>
<circle cx="748.71" cy="81.73" r="2.25" fill="#3A88C1" fill-opacity="0.9"/>
<circle cx="748.71" cy="71.40" r="2.25" fill="#3A88C1" fill-opacity="0.9"/>
<circle cx="750.13" cy="59.80" r="2.25" fill="#3A88C1" fill-opacity="0.9"/>
<circle cx="761.02" cy="60.08" r="2.25" fill="#3A88C1" fill-opacity="0.9"/>
<circle cx="724.67" cy="54.85" r="2.25" fill="#3A88C1" fill-opacity="0.9"/>
<circle cx="727.78" cy="56.27" r="2.25" fill="#3A88C1" fill-opacity="0.9"/>
<circle cx="730.04" cy="56.97" r="2.25" fill="#3A88C1" fill-opacity="0.9"/>
<circle cx="732.45" cy="58.81" r="2.25" fill="#3A88C1" fill-opacity="0.9"/>
<circle cx="720.14" cy="109.73" r="2.25" fill="#3A88C1" fill-opacity="0.9"/>
<circle cx="719.72" cy="112.42" r="2.25" fill="#3A88C1" fill-opacity="0.9"/>
<circle cx="721.56" cy="114.96" r="2.25" fill="#3A88C1" fill-opacity="0.9"/>
<circle cx="730.61" cy="111.43" r="2.25" fill="#3A88C1" fill-opacity="0.9"/>
<circle cx="714.77" cy="111.43" r="2.25" fill="#3A88C1" fill-opacity="0.9"/>
<circle cx="708.12" cy="112.14" r="2.25" fill="#3A88C1" fill-opacity="0.9"/>
<circle cx="703.45" cy="112.42" r="2.25" fill="#3A88C1" fill-opacity="0.9"/>
<circle cx="701.33" cy="117.09" r="2.25" fill="#3A88C1" fill-opacity="0.9"/>
<circle cx="687.89" cy="112.14" r="2.25" fill="#3A88C1" fill-opacity="0.9"/>
<circle cx="687.19" cy="113.55" r="2.25" fill="#3A88C1" fill-opacity="0.9"/>
<circle cx="709.82" cy="121.05" r="2.25" fill="#3A88C1" fill-opacity="0.9"/>
<circle cx="699.92" cy="129.11" r="2.25" fill="#3A88C1" fill-opacity="0.9"/>
<circle cx="711.23" cy="130.52" r="2.25" fill="#3A88C1" fill-opacity="0.9"/>
<circle cx="726.79" cy="131.23" r="2.25" fill="#3A88C1" fill-opacity="0.9"/>
<circle cx="727.78" cy="122.04" r="2.25" fill="#3A88C1" fill-opacity="0.9"/>
<circle cx="731.46" cy="118.93" r="2.25" fill="#3A88C1" fill-opacity="0.9"/>
<circle cx="742.77" cy="116.80" r="2.25" fill="#3A88C1" fill-opacity="0.9"/>
<circle cx="752.25" cy="104.78" r="2.25" fill="#3A88C1" fill-opacity="0.9"/>
<circle cx="755.08" cy="103.65" r="2.25" fill="#3A88C1" fill-opacity="0.9"/>
<circle cx="763.56" cy="105.06" r="2.25" fill="#3A88C1" fill-opacity="0.9"/>
<circle cx="765.69" cy="104.36" r="2.25" fill="#3A88C1" fill-opacity="0.9"/>
<circle cx="773.47" cy="89.79" r="2.25" fill="#3A88C1" fill-opacity="0.9"/>
<circle cx="776.29" cy="101.10" r="2.25" fill="#3A88C1" fill-opacity="0.9"/>
<circle cx="772.76" cy="106.48" r="2.25" fill="#3A88C1" fill-opacity="0.9"/>
<circle cx="785.49" cy="92.05" r="2.25" fill="#3A88C1" fill-opacity="0.9"/>
<circle cx="785.91" cy="135.90" r="2.25" fill="#3A88C1" fill-opacity="0.9"/>
<circle cx="754.37" cy="111.43" r="2.25" fill="#3A88C1" fill-opacity="0.9"/>
<circle cx="757.20" cy="110.01" r="2.25" fill="#3A88C1" fill-opacity="0.9"/>
<circle cx="762.57" cy="113.55" r="2.25" fill="#3A88C1" fill-opacity="0.9"/>
<circle cx="764.98" cy="113.27" r="2.25" fill="#3A88C1" fill-opacity="0.9"/>
<circle cx="750.55" cy="98.70" r="2.25" fill="#3A88C1" fill-opacity="0.9"/>
<circle cx="752.67" cy="97.28" r="2.25" fill="#3A88C1" fill-opacity="0.9"/>
<circle cx="911.87" cy="72.82" r="2.25" fill="#3A88C1" fill-opacity="0.9"/>
<circle cx="927.41" cy="69.51" r="2.25" fill="#3A88C1" fill-opacity="0.9"/>
<circle cx="871.87" cy="87.75" r="2.25" fill="#3A88C1" fill-opacity="0.9"/>
<circle cx="880.16" cy="85.05" r="2.25" fill="#3A88C1" fill-opacity="0.9"/>
<circle cx="881.19" cy="88.58" r="2.25" fill="#3A88C1" fill-opacity="0.9"/>
<circle cx="883.26" cy="89.20" r="2.25" fill="#3A88C1" fill-opacity="0.9"/>
<circle cx="884.30" cy="95.41" r="2.25" fill="#3A88C1" fill-opacity="0.9"/>
<circle cx="883.26" cy="98.52" r="2.25" fill="#3A88C1" fill-opacity="0.9"/>
<circle cx="864.61" cy="101.01" r="2.25" fill="#3A88C1" fill-opacity="0.9"/>
<circle cx="875.39" cy="109.92" r="2.25" fill="#3A88C1" fill-opacity="0.9"/>
<circle cx="903.58" cy="86.09" r="2.25" fill="#3A88C1" fill-opacity="0.9"/>
<circle cx="903.37" cy="88.16" r="2.25" fill="#3A88C1" fill-opacity="0.9"/>
<circle cx="915.39" cy="87.75" r="2.25" fill="#3A88C1" fill-opacity="0.9"/>
<circle cx="927.82" cy="99.56" r="2.25" fill="#3A88C1" fill-opacity="0.9"/>
<circle cx="931.97" cy="102.25" r="2.25" fill="#3A88C1" fill-opacity="0.9"/>
<circle cx="936.11" cy="98.11" r="2.25" fill="#3A88C1" fill-opacity="0.9"/>
<circle cx="938.19" cy="101.01" r="2.25" fill="#3A88C1" fill-opacity="0.9"/>
<circle cx="947.51" cy="116.76" r="2.25" fill="#3A88C1" fill-opacity="0.9"/>
<circle cx="948.13" cy="124.02" r="2.25" fill="#3A88C1" fill-opacity="0.9"/>
<circle cx="959.95" cy="145.16" r="2.25" fill="#3A88C1" fill-opacity="0.9"/>
<circle cx="960.36" cy="149.30" r="2.25" fill="#3A88C1" fill-opacity="0.9"/>
<circle cx="959.95" cy="152.41" r="2.25" fill="#3A88C1" fill-opacity="0.9"/>
<circle cx="967.20" cy="141.01" r="2.25" fill="#3A88C1" fill-opacity="0.9"/>
<circle cx="965.75" cy="155.52" r="2.25" fill="#3A88C1" fill-opacity="0.9"/>
<circle cx="941.30" cy="151.99" r="2.25" fill="#3A88C1" fill-opacity="0.9"/>
<circle cx="929.90" cy="157.18" r="2.25" fill="#3A88C1" fill-opacity="0.9"/>
<circle cx="932.59" cy="157.59" r="2.25" fill="#3A88C1" fill-opacity="0.9"/>
<circle cx="936.32" cy="167.95" r="2.25" fill="#3A88C1" fill-opacity="0.9"/>
<circle cx="936.74" cy="172.72" r="2.25" fill="#3A88C1" fill-opacity="0.9"/>
<circle cx="940.88" cy="172.10" r="2.25" fill="#3A88C1" fill-opacity="0.9"/>
<circle cx="946.89" cy="171.06" r="2.25" fill="#3A88C1" fill-opacity="0.9"/>
<circle cx="923.68" cy="180.60" r="2.25" fill="#3A88C1" fill-opacity="0.9"/>
<circle cx="926.17" cy="177.28" r="2.25" fill="#3A88C1" fill-opacity="0.9"/>
<circle cx="897.15" cy="185.57" r="2.25" fill="#3A88C1" fill-opacity="0.9"/>
<circle cx="912.69" cy="185.16" r="2.25" fill="#3A88C1" fill-opacity="0.9"/>
<circle cx="888.24" cy="190.13" r="2.25" fill="#3A88C1" fill-opacity="0.9"/>
<circle cx="891.55" cy="191.37" r="2.25" fill="#3A88C1" fill-opacity="0.9"/>
<circle cx="877.05" cy="190.75" r="2.25" fill="#3A88C1" fill-opacity="0.9"/>
<circle cx="880.57" cy="196.55" r="2.25" fill="#3A88C1" fill-opacity="0.9"/>
<circle cx="867.72" cy="189.30" r="2.25" fill="#3A88C1" fill-opacity="0.9"/>
<circle cx="863.99" cy="198.01" r="2.25" fill="#3A88C1" fill-opacity="0.9"/>
<circle cx="863.99" cy="207.95" r="2.25" fill="#3A88C1" fill-opacity="0.9"/>
<circle cx="867.10" cy="205.05" r="2.25" fill="#3A88C1" fill-opacity="0.9"/>
<circle cx="901.92" cy="199.04" r="2.25" fill="#3A88C1" fill-opacity="0.9"/>
<circle cx="902.95" cy="200.49" r="2.25" fill="#3A88C1" fill-opacity="0.9"/>
<circle cx="903.99" cy="207.33" r="2.25" fill="#3A88C1" fill-opacity="0.9"/>
<circle cx="834.56" cy="204.22" r="2.25" fill="#3A88C1" fill-opacity="0.9"/>
<circle cx="812.80" cy="220.18" r="2.25" fill="#3A88C1" fill-opacity="0.9"/>
<circle cx="816.94" cy="225.98" r="2.25" fill="#3A88C1" fill-opacity="0.9"/>
<circle cx="821.09" cy="221.84" r="2.25" fill="#3A88C1" fill-opacity="0.9"/>
<circle cx="805.54" cy="245.67" r="2.25" fill="#3A88C1" fill-opacity="0.9"/>
<circle cx="826.89" cy="243.60" r="2.25" fill="#3A88C1" fill-opacity="0.9"/>
<circle cx="831.45" cy="235.73" r="2.25" fill="#3A88C1" fill-opacity="0.9"/>
<circle cx="836.01" cy="231.58" r="2.25" fill="#3A88C1" fill-opacity="0.9"/>
<circle cx="842.85" cy="233.65" r="2.25" fill="#3A88C1" fill-opacity="0.9"/>
<circle cx="835.18" cy="239.46" r="2.25" fill="#3A88C1" fill-opacity="0.9"/>
<circle cx="834.56" cy="248.78" r="2.25" fill="#3A88C1" fill-opacity="0.9"/>
<circle cx="839.33" cy="249.40" r="2.25" fill="#3A88C1" fill-opacity="0.9"/>
<circle cx="843.89" cy="249.82" r="2.25" fill="#3A88C1" fill-opacity="0.9"/>
<circle cx="849.69" cy="244.64" r="2.25" fill="#3A88C1" fill-opacity="0.9"/>
<circle cx="850.10" cy="249.82" r="2.25" fill="#3A88C1" fill-opacity="0.9"/>
<circle cx="820.67" cy="250.85" r="2.25" fill="#3A88C1" fill-opacity="0.9"/>
<circle cx="821.50" cy="255.62" r="2.25" fill="#3A88C1" fill-opacity="0.9"/>
<circle cx="821.09" cy="259.56" r="2.25" fill="#3A88C1" fill-opacity="0.9"/>
<circle cx="814.46" cy="254.38" r="2.25" fill="#3A88C1" fill-opacity="0.9"/>
<circle cx="813.21" cy="256.04" r="2.25" fill="#3A88C1" fill-opacity="0.9"/>
<circle cx="831.45" cy="258.73" r="2.25" fill="#3A88C1" fill-opacity="0.9"/>
<circle cx="836.01" cy="255.00" r="2.25" fill="#3A88C1" fill-opacity="0.9"/>
<circle cx="844.30" cy="256.45" r="2.25" fill="#3A88C1" fill-opacity="0.9"/>
<circle cx="848.03" cy="257.07" r="2.25" fill="#3A88C1" fill-opacity="0.9"/>
<circle cx="850.10" cy="260.60" r="2.25" fill="#3A88C1" fill-opacity="0.9"/>
<circle cx="853.21" cy="265.36" r="2.25" fill="#3A88C1" fill-opacity="0.9"/>
<circle cx="854.66" cy="257.69" r="2.25" fill="#3A88C1" fill-opacity="0.9"/>
<circle cx="859.43" cy="258.11" r="2.25" fill="#3A88C1" fill-opacity="0.9"/>
<circle cx="861.50" cy="259.15" r="2.25" fill="#3A88C1" fill-opacity="0.9"/>
<circle cx="860.05" cy="263.29" r="2.25" fill="#3A88C1" fill-opacity="0.9"/>
<circle cx="860.05" cy="270.96" r="2.25" fill="#3A88C1" fill-opacity="0.9"/>
<circle cx="862.54" cy="276.76" r="2.25" fill="#3A88C1" fill-opacity="0.9"/>
<circle cx="860.47" cy="281.53" r="2.25" fill="#3A88C1" fill-opacity="0.9"/>
<circle cx="871.87" cy="268.89" r="2.25" fill="#3A88C1" fill-opacity="0.9"/>
<circle cx="878.08" cy="263.91" r="2.25" fill="#3A88C1" fill-opacity="0.9"/>
<circle cx="881.19" cy="265.98" r="2.25" fill="#3A88C1" fill-opacity="0.9"/>
<circle cx="875.39" cy="276.76" r="2.25" fill="#3A88C1" fill-opacity="0.9"/>
<circle cx="913.32" cy="263.29" r="2.25" fill="#3A88C1" fill-opacity="0.9"/>
<circle cx="878.70" cy="249.40" r="2.25" fill="#3A88C1" fill-opacity="0.9"/>
<line x1="617.90" y1="41.40" x2="617.90" y2="298.20" stroke="#000" stroke-width="2" stroke-linecap="butt"/>
<line x1="616.90" y1="297.20" x2="993.20" y2="297.20" stroke="#000" stroke-width="2" stroke-linecap="butt"/>
<circle cx="646.10" cy="227.00" r="5" fill="#FA8E2D" fill-opacity="0.9"/>
<circle cx="646.10" cy="252.10" r="5" fill="#3A88C1" fill-opacity="0.9"/>
<circle cx="646.10" cy="277.40" r="3.5" fill="#D0D0D0"/>
<g transform="translate(659.10,234.60) scale(1,1.04)">
<text y="0" font-size="25.00" fill="#000"><tspan x="24.14">S</tspan><tspan x="40.34">S</tspan><tspan x="57.24">p</tspan></text>
<path d="M0.50,-6.40H22.88M16.62,-12.25L22.88,-6.40L16.62,-0.50" fill="none" stroke="#000" stroke-width="1.38" stroke-linejoin="miter"/>
</g>
<g transform="translate(659.10,259.80) scale(1,1.04)">
<text y="0" font-size="25.00" fill="#000"><tspan x="23.68">V</tspan><tspan x="39.41">I</tspan><tspan x="45.89">S</tspan><tspan x="62.79">p</tspan></text>
<path d="M0.50,-6.40H22.88M16.62,-12.25L22.88,-6.40L16.62,-0.50" fill="none" stroke="#000" stroke-width="1.38" stroke-linejoin="miter"/>
</g>
<g transform="translate(659.25,285.00) scale(1,1.04)">
<text y="0" font-size="25.00" fill="#000"><tspan x="-0.24">O</tspan><tspan x="19.44">t</tspan><tspan x="26.85">h</tspan><tspan x="40.51">e</tspan><tspan x="54.17">r</tspan><tspan x="62.50">s</tspan></text>
</g>
<g transform="translate(762.92,324.60) scale(1,1.04)">
<text y="0" font-size="26.06" fill="#000"><tspan x="0.48" font-style="italic">t</tspan><tspan x="8.94">-</tspan><tspan x="18.10">S</tspan><tspan x="35.23">N</tspan><tspan x="53.79">E</tspan><tspan x="71.66">-</tspan><tspan x="81.06">1</tspan></text>
</g>
<g transform="translate(607.30,211.10) rotate(-90) scale(1,1.04)">
<text y="0" font-size="26.60" fill="#000"><tspan x="0.49" font-style="italic">t</tspan><tspan x="9.12">-</tspan><tspan x="18.47">S</tspan><tspan x="35.96">N</tspan><tspan x="54.91">E</tspan><tspan x="73.14">-</tspan><tspan x="82.74">2</tspan></text>
</g>
<text transform="translate(996.66,59.85) scale(1.150,1)" font-size="30.85" font-weight="bold" stroke="#000" stroke-width="1.21" stroke-linejoin="round">c</text>
<circle cx="1177.47" cy="103.01" r="1.45" fill="#CFCFCF"/>
<circle cx="1158.14" cy="91.79" r="1.45" fill="#CFCFCF"/>
<circle cx="1292.80" cy="92.53" r="1.45" fill="#CFCFCF"/>
<circle cx="1306.89" cy="276.06" r="1.45" fill="#CFCFCF"/>
<circle cx="1186.09" cy="90.09" r="1.45" fill="#CFCFCF"/>
<circle cx="1175.97" cy="79.22" r="1.45" fill="#CFCFCF"/>
<circle cx="1322.76" cy="267.71" r="1.45" fill="#CFCFCF"/>
<circle cx="1168.49" cy="85.23" r="1.45" fill="#CFCFCF"/>
<circle cx="1329.84" cy="276.17" r="1.45" fill="#CFCFCF"/>
<circle cx="1134.15" cy="113.07" r="1.45" fill="#CFCFCF"/>
<circle cx="1289.27" cy="95.95" r="1.45" fill="#CFCFCF"/>
<circle cx="1236.85" cy="266.57" r="1.45" fill="#CFCFCF"/>
<circle cx="1280.62" cy="252.31" r="1.45" fill="#CFCFCF"/>
<circle cx="1168.76" cy="84.80" r="1.45" fill="#CFCFCF"/>
<circle cx="1279.04" cy="253.88" r="1.45" fill="#CFCFCF"/>
<circle cx="1119.05" cy="133.20" r="1.45" fill="#CFCFCF"/>
<circle cx="1300.25" cy="98.50" r="1.45" fill="#CFCFCF"/>
<circle cx="1236.33" cy="256.91" r="1.45" fill="#CFCFCF"/>
<circle cx="1117.04" cy="110.37" r="1.45" fill="#CFCFCF"/>
<circle cx="1237.45" cy="236.81" r="1.45" fill="#CFCFCF"/>
<circle cx="1360.07" cy="94.13" r="1.45" fill="#CFCFCF"/>
<circle cx="1180.88" cy="115.22" r="1.45" fill="#CFCFCF"/>
<circle cx="1137.20" cy="94.92" r="1.45" fill="#CFCFCF"/>
<circle cx="1123.71" cy="124.14" r="1.45" fill="#CFCFCF"/>
<circle cx="1128.49" cy="134.83" r="1.45" fill="#CFCFCF"/>
<circle cx="1276.18" cy="256.22" r="1.45" fill="#CFCFCF"/>
<circle cx="1290.47" cy="83.96" r="1.45" fill="#CFCFCF"/>
<circle cx="1262.74" cy="249.63" r="1.45" fill="#CFCFCF"/>
<circle cx="1119.37" cy="107.20" r="1.45" fill="#CFCFCF"/>
<circle cx="1235.77" cy="231.29" r="1.45" fill="#CFCFCF"/>
<circle cx="1258.48" cy="258.88" r="1.45" fill="#CFCFCF"/>
<circle cx="1348.76" cy="71.90" r="1.45" fill="#CFCFCF"/>
<circle cx="1175.55" cy="86.16" r="1.45" fill="#CFCFCF"/>
<circle cx="1102.59" cy="96.56" r="1.45" fill="#CFCFCF"/>
<circle cx="1286.76" cy="262.06" r="1.45" fill="#CFCFCF"/>
<circle cx="1123.64" cy="102.06" r="1.45" fill="#CFCFCF"/>
<circle cx="1286.91" cy="194.65" r="1.45" fill="#CFCFCF"/>
<circle cx="1354.47" cy="176.57" r="1.45" fill="#CFCFCF"/>
<circle cx="1355.00" cy="101.43" r="1.45" fill="#CFCFCF"/>
<circle cx="1243.70" cy="260.52" r="1.45" fill="#CFCFCF"/>
<circle cx="1081.49" cy="70.40" r="1.45" fill="#CFCFCF"/>
<circle cx="1148.30" cy="103.84" r="1.45" fill="#CFCFCF"/>
<circle cx="1099.09" cy="102.07" r="1.45" fill="#CFCFCF"/>
<circle cx="1371.31" cy="94.43" r="1.45" fill="#CFCFCF"/>
<circle cx="1261.92" cy="196.76" r="1.45" fill="#CFCFCF"/>
<circle cx="1263.74" cy="225.93" r="1.45" fill="#CFCFCF"/>
<circle cx="1294.94" cy="241.47" r="1.45" fill="#CFCFCF"/>
<circle cx="1356.34" cy="155.89" r="1.45" fill="#CFCFCF"/>
<circle cx="1351.80" cy="157.96" r="1.45" fill="#CFCFCF"/>
<circle cx="1326.08" cy="257.42" r="1.45" fill="#CFCFCF"/>
<circle cx="1320.99" cy="188.72" r="1.45" fill="#CFCFCF"/>
<circle cx="1314.66" cy="183.55" r="1.45" fill="#CFCFCF"/>
<circle cx="1283.23" cy="201.24" r="1.45" fill="#CFCFCF"/>
<circle cx="1266.62" cy="204.93" r="1.45" fill="#CFCFCF"/>
<circle cx="1179.99" cy="109.53" r="1.45" fill="#CFCFCF"/>
<circle cx="1375.55" cy="74.05" r="1.45" fill="#CFCFCF"/>
<circle cx="1259.17" cy="250.40" r="1.45" fill="#CFCFCF"/>
<circle cx="1391.86" cy="162.27" r="1.45" fill="#CFCFCF"/>
<circle cx="1144.08" cy="105.77" r="1.45" fill="#CFCFCF"/>
<circle cx="1312.07" cy="251.36" r="1.45" fill="#CFCFCF"/>
<circle cx="1067.80" cy="94.23" r="1.45" fill="#CFCFCF"/>
<circle cx="1109.54" cy="69.32" r="1.45" fill="#CFCFCF"/>
<circle cx="1246.64" cy="212.30" r="1.45" fill="#CFCFCF"/>
<circle cx="1138.67" cy="95.19" r="1.45" fill="#CFCFCF"/>
<circle cx="1292.80" cy="81.03" r="1.45" fill="#CFCFCF"/>
<circle cx="1280.66" cy="280.19" r="1.45" fill="#CFCFCF"/>
<circle cx="1304.70" cy="234.48" r="1.45" fill="#CFCFCF"/>
<circle cx="1323.90" cy="285.55" r="1.45" fill="#CFCFCF"/>
<circle cx="1119.99" cy="70.20" r="1.45" fill="#CFCFCF"/>
<circle cx="1240.19" cy="259.29" r="1.45" fill="#CFCFCF"/>
<circle cx="1170.35" cy="117.76" r="1.45" fill="#CFCFCF"/>
<circle cx="1175.58" cy="97.24" r="1.45" fill="#CFCFCF"/>
<circle cx="1318.59" cy="279.44" r="1.45" fill="#CFCFCF"/>
<circle cx="1207.66" cy="99.43" r="1.45" fill="#CFCFCF"/>
<circle cx="1286.34" cy="191.88" r="1.45" fill="#CFCFCF"/>
<circle cx="1238.76" cy="234.61" r="1.45" fill="#CFCFCF"/>
<circle cx="1250.25" cy="242.15" r="1.45" fill="#CFCFCF"/>
<circle cx="1301.20" cy="263.24" r="1.45" fill="#CFCFCF"/>
<circle cx="1220.46" cy="262.30" r="1.45" fill="#CFCFCF"/>
<circle cx="1112.50" cy="78.68" r="1.45" fill="#CFCFCF"/>
<circle cx="1378.37" cy="143.09" r="1.45" fill="#CFCFCF"/>
<circle cx="1202.84" cy="73.74" r="1.45" fill="#CFCFCF"/>
<circle cx="1363.98" cy="110.15" r="1.45" fill="#CFCFCF"/>
<circle cx="1264.96" cy="246.92" r="1.45" fill="#CFCFCF"/>
<circle cx="1318.51" cy="189.14" r="1.45" fill="#CFCFCF"/>
<circle cx="1176.54" cy="103.04" r="1.45" fill="#CFCFCF"/>
<circle cx="1112.56" cy="65.07" r="1.45" fill="#CFCFCF"/>
<circle cx="1254.61" cy="226.31" r="1.45" fill="#CFCFCF"/>
<circle cx="1357.73" cy="162.09" r="1.45" fill="#CFCFCF"/>
<circle cx="1297.68" cy="273.28" r="1.45" fill="#CFCFCF"/>
<circle cx="1280.49" cy="278.25" r="1.45" fill="#CFCFCF"/>
<circle cx="1135.35" cy="102.62" r="1.45" fill="#CFCFCF"/>
<circle cx="1177.72" cy="85.05" r="1.45" fill="#CFCFCF"/>
<circle cx="1257.57" cy="225.04" r="1.45" fill="#CFCFCF"/>
<circle cx="1287.91" cy="255.28" r="1.45" fill="#CFCFCF"/>
<circle cx="1282.20" cy="273.27" r="1.45" fill="#CFCFCF"/>
<circle cx="1307.07" cy="266.68" r="1.45" fill="#CFCFCF"/>
<circle cx="1268.94" cy="230.35" r="1.45" fill="#CFCFCF"/>
<circle cx="1351.37" cy="181.75" r="1.45" fill="#CFCFCF"/>
<circle cx="1365.00" cy="90.19" r="1.45" fill="#CFCFCF"/>
<circle cx="1055.73" cy="72.74" r="1.45" fill="#CFCFCF"/>
<circle cx="1315.02" cy="78.20" r="1.45" fill="#CFCFCF"/>
<circle cx="1290.89" cy="256.04" r="1.45" fill="#CFCFCF"/>
<circle cx="1290.62" cy="269.27" r="1.45" fill="#CFCFCF"/>
<circle cx="1168.69" cy="90.45" r="1.45" fill="#CFCFCF"/>
<circle cx="1277.58" cy="279.26" r="1.45" fill="#CFCFCF"/>
<circle cx="1162.23" cy="73.40" r="1.45" fill="#CFCFCF"/>
<circle cx="1230.31" cy="254.18" r="1.45" fill="#CFCFCF"/>
<circle cx="1078.37" cy="64.33" r="1.45" fill="#CFCFCF"/>
<circle cx="1155.66" cy="100.07" r="1.45" fill="#CFCFCF"/>
<circle cx="1312.12" cy="257.66" r="1.45" fill="#CFCFCF"/>
<circle cx="1369.99" cy="99.45" r="1.45" fill="#CFCFCF"/>
<circle cx="1273.34" cy="251.34" r="1.45" fill="#CFCFCF"/>
<circle cx="1265.04" cy="250.82" r="1.45" fill="#CFCFCF"/>
<circle cx="1303.35" cy="191.97" r="1.45" fill="#CFCFCF"/>
<circle cx="1310.36" cy="107.43" r="1.45" fill="#CFCFCF"/>
<circle cx="1272.27" cy="257.97" r="1.45" fill="#CFCFCF"/>
<circle cx="1388.21" cy="153.35" r="1.45" fill="#CFCFCF"/>
<circle cx="1263.84" cy="245.32" r="1.45" fill="#CFCFCF"/>
<circle cx="1289.58" cy="197.80" r="1.45" fill="#CFCFCF"/>
<circle cx="1309.85" cy="194.67" r="1.45" fill="#CFCFCF"/>
<circle cx="1316.10" cy="277.38" r="1.45" fill="#CFCFCF"/>
<circle cx="1261.87" cy="234.04" r="1.45" fill="#CFCFCF"/>
<circle cx="1188.89" cy="89.28" r="1.45" fill="#CFCFCF"/>
<circle cx="1185.13" cy="95.83" r="1.45" fill="#CFCFCF"/>
<circle cx="1305.81" cy="279.41" r="1.45" fill="#CFCFCF"/>
<circle cx="1150.81" cy="116.48" r="1.45" fill="#CFCFCF"/>
<circle cx="1230.77" cy="265.13" r="1.45" fill="#CFCFCF"/>
<circle cx="1316.39" cy="184.68" r="1.45" fill="#CFCFCF"/>
<circle cx="1139.71" cy="109.29" r="1.45" fill="#CFCFCF"/>
<circle cx="1325.60" cy="259.63" r="1.45" fill="#CFCFCF"/>
<circle cx="1278.68" cy="87.50" r="1.45" fill="#CFCFCF"/>
<circle cx="1274.42" cy="237.31" r="1.45" fill="#CFCFCF"/>
<circle cx="1084.35" cy="66.27" r="1.45" fill="#CFCFCF"/>
<circle cx="1198.21" cy="76.44" r="1.45" fill="#CFCFCF"/>
<circle cx="1156.38" cy="100.05" r="1.45" fill="#CFCFCF"/>
<circle cx="1211.63" cy="135.69" r="1.45" fill="#CFCFCF"/>
<circle cx="1160.18" cy="90.07" r="1.45" fill="#CFCFCF"/>
<circle cx="1298.69" cy="269.04" r="1.45" fill="#CFCFCF"/>
<circle cx="1271.92" cy="209.35" r="1.45" fill="#CFCFCF"/>
<circle cx="1115.24" cy="124.21" r="1.45" fill="#CFCFCF"/>
<circle cx="1318.24" cy="266.04" r="1.45" fill="#CFCFCF"/>
<circle cx="1226.34" cy="268.99" r="1.45" fill="#CFCFCF"/>
<circle cx="1118.83" cy="105.73" r="1.45" fill="#CFCFCF"/>
<circle cx="1277.08" cy="280.40" r="1.45" fill="#CFCFCF"/>
<circle cx="1241.25" cy="265.54" r="1.45" fill="#CFCFCF"/>
<circle cx="1250.18" cy="228.34" r="1.45" fill="#CFCFCF"/>
<circle cx="1268.38" cy="254.83" r="1.45" fill="#CFCFCF"/>
<circle cx="1290.51" cy="272.47" r="1.45" fill="#CFCFCF"/>
<circle cx="1297.55" cy="288.55" r="1.45" fill="#CFCFCF"/>
<circle cx="1256.85" cy="268.80" r="1.45" fill="#CFCFCF"/>
<circle cx="1195.39" cy="112.08" r="1.45" fill="#CFCFCF"/>
<circle cx="1098.37" cy="72.88" r="1.45" fill="#CFCFCF"/>
<circle cx="1129.97" cy="104.01" r="1.45" fill="#CFCFCF"/>
<circle cx="1260.59" cy="236.75" r="1.45" fill="#CFCFCF"/>
<circle cx="1280.52" cy="247.85" r="1.45" fill="#CFCFCF"/>
<circle cx="1227.02" cy="267.72" r="1.45" fill="#CFCFCF"/>
<circle cx="1304.24" cy="191.84" r="1.45" fill="#CFCFCF"/>
<circle cx="1318.63" cy="91.91" r="1.45" fill="#CFCFCF"/>
<circle cx="1121.39" cy="93.35" r="1.45" fill="#CFCFCF"/>
<circle cx="1130.52" cy="124.47" r="1.45" fill="#CFCFCF"/>
<circle cx="1188.17" cy="110.70" r="1.45" fill="#CFCFCF"/>
<circle cx="1280.23" cy="273.31" r="1.45" fill="#CFCFCF"/>
<circle cx="1085.59" cy="77.73" r="1.45" fill="#CFCFCF"/>
<circle cx="1386.53" cy="160.20" r="1.45" fill="#CFCFCF"/>
<circle cx="1103.11" cy="68.88" r="1.45" fill="#CFCFCF"/>
<circle cx="1197.57" cy="73.60" r="1.45" fill="#CFCFCF"/>
<circle cx="1291.22" cy="187.60" r="1.45" fill="#CFCFCF"/>
<circle cx="1306.76" cy="193.26" r="1.45" fill="#CFCFCF"/>
<circle cx="1284.64" cy="265.23" r="1.45" fill="#CFCFCF"/>
<circle cx="1247.39" cy="226.83" r="1.45" fill="#CFCFCF"/>
<circle cx="1315.50" cy="271.49" r="1.45" fill="#CFCFCF"/>
<circle cx="1240.16" cy="251.18" r="1.45" fill="#CFCFCF"/>
<circle cx="1062.05" cy="72.47" r="1.45" fill="#CFCFCF"/>
<circle cx="1094.28" cy="67.20" r="1.45" fill="#CFCFCF"/>
<circle cx="1297.73" cy="261.79" r="1.45" fill="#CFCFCF"/>
<circle cx="1304.65" cy="280.69" r="1.45" fill="#CFCFCF"/>
<circle cx="1328.13" cy="204.14" r="1.45" fill="#CFCFCF"/>
<circle cx="1239.68" cy="240.82" r="1.45" fill="#CFCFCF"/>
<circle cx="1255.70" cy="207.14" r="1.45" fill="#CFCFCF"/>
<circle cx="1162.28" cy="104.84" r="1.45" fill="#CFCFCF"/>
<circle cx="1284.47" cy="275.32" r="1.45" fill="#CFCFCF"/>
<circle cx="1073.26" cy="93.84" r="1.45" fill="#CFCFCF"/>
<circle cx="1129.72" cy="96.56" r="1.45" fill="#CFCFCF"/>
<circle cx="1064.55" cy="78.45" r="1.45" fill="#CFCFCF"/>
<circle cx="1253.65" cy="219.83" r="1.45" fill="#CFCFCF"/>
<circle cx="1366.82" cy="103.71" r="1.45" fill="#CFCFCF"/>
<circle cx="1153.26" cy="51.24" r="1.45" fill="#CFCFCF"/>
<circle cx="1243.46" cy="225.78" r="1.45" fill="#CFCFCF"/>
<circle cx="1193.24" cy="98.85" r="1.45" fill="#CFCFCF"/>
<circle cx="1119.20" cy="115.06" r="1.45" fill="#CFCFCF"/>
<circle cx="1255.49" cy="260.35" r="1.45" fill="#CFCFCF"/>
<circle cx="1279.86" cy="248.34" r="1.45" fill="#CFCFCF"/>
<circle cx="1268.42" cy="267.01" r="1.45" fill="#CFCFCF"/>
<circle cx="1250.15" cy="251.40" r="1.45" fill="#CFCFCF"/>
<circle cx="1128.93" cy="113.56" r="1.45" fill="#CFCFCF"/>
<circle cx="1247.56" cy="256.29" r="1.45" fill="#CFCFCF"/>
<circle cx="1297.75" cy="267.69" r="1.45" fill="#CFCFCF"/>
<circle cx="1152.07" cy="99.20" r="1.45" fill="#CFCFCF"/>
<circle cx="1297.11" cy="267.48" r="1.45" fill="#CFCFCF"/>
<circle cx="1061.54" cy="84.78" r="1.45" fill="#CFCFCF"/>
<circle cx="1324.72" cy="184.82" r="1.45" fill="#CFCFCF"/>
<circle cx="1344.60" cy="82.27" r="1.45" fill="#CFCFCF"/>
<circle cx="1261.75" cy="258.45" r="1.45" fill="#CFCFCF"/>
<circle cx="1270.88" cy="260.26" r="1.45" fill="#CFCFCF"/>
<circle cx="1371.18" cy="164.42" r="1.45" fill="#CFCFCF"/>
<circle cx="1369.76" cy="91.62" r="1.45" fill="#CFCFCF"/>
<circle cx="1207.39" cy="133.54" r="1.45" fill="#CFCFCF"/>
<circle cx="1311.94" cy="231.04" r="1.45" fill="#CFCFCF"/>
<circle cx="1140.10" cy="111.75" r="1.45" fill="#CFCFCF"/>
<circle cx="1387.28" cy="145.10" r="1.45" fill="#CFCFCF"/>
<circle cx="1309.43" cy="84.40" r="1.45" fill="#CFCFCF"/>
<circle cx="1151.68" cy="90.56" r="1.45" fill="#CFCFCF"/>
<circle cx="1243.41" cy="250.98" r="1.45" fill="#CFCFCF"/>
<circle cx="1140.56" cy="88.44" r="1.45" fill="#CFCFCF"/>
<circle cx="1148.75" cy="136.17" r="1.45" fill="#CFCFCF"/>
<circle cx="1295.23" cy="182.62" r="1.45" fill="#CFCFCF"/>
<circle cx="1248.99" cy="223.26" r="1.45" fill="#CFCFCF"/>
<circle cx="1123.30" cy="79.06" r="1.45" fill="#CFCFCF"/>
<circle cx="1159.74" cy="66.27" r="1.45" fill="#CFCFCF"/>
<circle cx="1272.31" cy="191.55" r="1.45" fill="#CFCFCF"/>
<circle cx="1137.97" cy="58.07" r="1.45" fill="#CFCFCF"/>
<circle cx="1128.49" cy="103.58" r="1.45" fill="#CFCFCF"/>
<circle cx="1176.36" cy="114.16" r="1.45" fill="#CFCFCF"/>
<circle cx="1242.65" cy="236.08" r="1.45" fill="#CFCFCF"/>
<circle cx="1115.32" cy="113.28" r="1.45" fill="#CFCFCF"/>
<circle cx="1371.21" cy="94.73" r="1.45" fill="#CFCFCF"/>
<circle cx="1318.50" cy="256.41" r="1.45" fill="#CFCFCF"/>
<circle cx="1126.40" cy="110.88" r="1.45" fill="#CFCFCF"/>
<circle cx="1219.32" cy="248.72" r="1.45" fill="#CFCFCF"/>
<circle cx="1067.57" cy="107.35" r="1.45" fill="#CFCFCF"/>
<circle cx="1281.35" cy="86.72" r="1.45" fill="#CFCFCF"/>
<circle cx="1281.83" cy="80.51" r="1.45" fill="#CFCFCF"/>
<circle cx="1336.93" cy="186.71" r="1.45" fill="#CFCFCF"/>
<circle cx="1291.40" cy="269.89" r="1.45" fill="#CFCFCF"/>
<circle cx="1166.19" cy="87.89" r="1.45" fill="#CFCFCF"/>
<circle cx="1305.77" cy="93.20" r="1.45" fill="#CFCFCF"/>
<circle cx="1257.24" cy="202.17" r="1.45" fill="#CFCFCF"/>
<circle cx="1284.06" cy="90.21" r="1.45" fill="#CFCFCF"/>
<circle cx="1357.73" cy="147.36" r="1.45" fill="#CFCFCF"/>
<circle cx="1126.41" cy="120.02" r="1.45" fill="#CFCFCF"/>
<circle cx="1109.52" cy="65.65" r="1.45" fill="#CFCFCF"/>
<circle cx="1247.76" cy="254.36" r="1.45" fill="#CFCFCF"/>
<circle cx="1181.29" cy="83.00" r="1.45" fill="#CFCFCF"/>
<circle cx="1082.30" cy="76.20" r="1.45" fill="#CFCFCF"/>
<circle cx="1135.58" cy="85.67" r="1.45" fill="#CFCFCF"/>
<circle cx="1319.48" cy="185.44" r="1.45" fill="#CFCFCF"/>
<circle cx="1316.20" cy="263.51" r="1.45" fill="#CFCFCF"/>
<circle cx="1271.05" cy="238.50" r="1.45" fill="#CFCFCF"/>
<circle cx="1059.62" cy="63.66" r="1.45" fill="#CFCFCF"/>
<circle cx="1128.37" cy="81.55" r="1.45" fill="#CFCFCF"/>
<circle cx="1352.01" cy="104.07" r="1.45" fill="#CFCFCF"/>
<circle cx="1321.07" cy="196.50" r="1.45" fill="#CFCFCF"/>
<circle cx="1183.85" cy="87.61" r="1.45" fill="#CFCFCF"/>
<circle cx="1290.95" cy="245.72" r="1.45" fill="#CFCFCF"/>
<circle cx="1327.71" cy="188.73" r="1.45" fill="#CFCFCF"/>
<circle cx="1254.32" cy="244.18" r="1.45" fill="#CFCFCF"/>
<circle cx="1059.36" cy="105.26" r="1.45" fill="#CFCFCF"/>
<circle cx="1117.99" cy="90.26" r="1.45" fill="#CFCFCF"/>
<circle cx="1246.90" cy="221.88" r="1.45" fill="#CFCFCF"/>
<circle cx="1286.00" cy="258.03" r="1.45" fill="#CFCFCF"/>
<circle cx="1183.90" cy="102.61" r="1.45" fill="#CFCFCF"/>
<circle cx="1295.60" cy="111.36" r="1.45" fill="#CFCFCF"/>
<circle cx="1204.88" cy="130.78" r="1.45" fill="#CFCFCF"/>
<circle cx="1390.35" cy="150.32" r="1.45" fill="#CFCFCF"/>
<circle cx="1286.33" cy="284.17" r="1.45" fill="#CFCFCF"/>
<circle cx="1303.56" cy="272.72" r="1.45" fill="#CFCFCF"/>
<circle cx="1082.46" cy="61.87" r="1.45" fill="#CFCFCF"/>
<circle cx="1156.56" cy="116.29" r="1.45" fill="#CFCFCF"/>
<circle cx="1284.45" cy="200.79" r="1.45" fill="#CFCFCF"/>
<circle cx="1318.74" cy="184.57" r="1.45" fill="#CFCFCF"/>
<circle cx="1352.61" cy="180.62" r="1.45" fill="#CFCFCF"/>
<circle cx="1308.52" cy="275.78" r="1.45" fill="#CFCFCF"/>
<circle cx="1348.00" cy="177.90" r="1.45" fill="#CFCFCF"/>
<circle cx="1371.70" cy="155.11" r="1.45" fill="#CFCFCF"/>
<circle cx="1129.17" cy="111.58" r="1.45" fill="#CFCFCF"/>
<circle cx="1324.79" cy="200.06" r="1.45" fill="#CFCFCF"/>
<circle cx="1061.89" cy="78.20" r="1.45" fill="#CFCFCF"/>
<circle cx="1252.94" cy="235.70" r="1.45" fill="#CFCFCF"/>
<circle cx="1190.99" cy="90.72" r="1.45" fill="#CFCFCF"/>
<circle cx="1187.84" cy="95.67" r="1.45" fill="#CFCFCF"/>
<circle cx="1368.86" cy="92.98" r="1.45" fill="#CFCFCF"/>
<circle cx="1345.63" cy="110.26" r="1.45" fill="#CFCFCF"/>
<circle cx="1291.31" cy="212.46" r="1.45" fill="#CFCFCF"/>
<circle cx="1306.06" cy="251.42" r="1.45" fill="#CFCFCF"/>
<circle cx="1289.94" cy="251.24" r="1.45" fill="#CFCFCF"/>
<circle cx="1247.06" cy="256.69" r="1.45" fill="#CFCFCF"/>
<circle cx="1259.91" cy="206.38" r="1.45" fill="#CFCFCF"/>
<circle cx="1121.28" cy="73.06" r="1.45" fill="#CFCFCF"/>
<circle cx="1172.98" cy="96.92" r="1.45" fill="#CFCFCF"/>
<circle cx="1327.88" cy="196.54" r="1.45" fill="#CFCFCF"/>
<circle cx="1275.14" cy="202.54" r="1.45" fill="#CFCFCF"/>
<circle cx="1224.79" cy="261.73" r="1.45" fill="#CFCFCF"/>
<circle cx="1061.60" cy="63.13" r="1.45" fill="#CFCFCF"/>
<circle cx="1327.97" cy="200.45" r="1.45" fill="#CFCFCF"/>
<circle cx="1069.87" cy="83.63" r="1.45" fill="#CFCFCF"/>
<circle cx="1269.10" cy="248.27" r="1.45" fill="#CFCFCF"/>
<circle cx="1126.44" cy="100.27" r="1.45" fill="#CFCFCF"/>
<circle cx="1370.24" cy="135.96" r="1.45" fill="#CFCFCF"/>
<circle cx="1125.51" cy="108.59" r="1.45" fill="#CFCFCF"/>
<circle cx="1331.16" cy="203.71" r="1.45" fill="#CFCFCF"/>
<circle cx="1248.97" cy="246.78" r="1.45" fill="#CFCFCF"/>
<circle cx="1183.33" cy="90.23" r="1.45" fill="#CFCFCF"/>
<circle cx="1270.55" cy="203.75" r="1.45" fill="#CFCFCF"/>
<circle cx="1124.09" cy="71.63" r="1.45" fill="#CFCFCF"/>
<circle cx="1283.49" cy="204.47" r="1.45" fill="#CFCFCF"/>
<circle cx="1187.73" cy="77.37" r="1.45" fill="#CFCFCF"/>
<circle cx="1275.35" cy="79.40" r="1.45" fill="#CFCFCF"/>
<circle cx="1238.31" cy="228.59" r="1.45" fill="#CFCFCF"/>
<circle cx="1249.19" cy="233.81" r="1.45" fill="#CFCFCF"/>
<circle cx="1117.07" cy="98.40" r="1.45" fill="#CFCFCF"/>
<circle cx="1374.58" cy="91.94" r="1.45" fill="#CFCFCF"/>
<circle cx="1176.17" cy="57.92" r="1.45" fill="#CFCFCF"/>
<circle cx="1151.91" cy="100.51" r="1.45" fill="#CFCFCF"/>
<circle cx="1086.38" cy="109.52" r="1.45" fill="#CFCFCF"/>
<circle cx="1378.64" cy="145.57" r="1.45" fill="#CFCFCF"/>
<circle cx="1124.33" cy="105.18" r="1.45" fill="#CFCFCF"/>
<circle cx="1085.18" cy="58.89" r="1.45" fill="#CFCFCF"/>
<circle cx="1261.88" cy="249.26" r="1.45" fill="#CFCFCF"/>
<circle cx="1244.04" cy="256.88" r="1.45" fill="#CFCFCF"/>
<circle cx="1242.44" cy="221.03" r="1.45" fill="#CFCFCF"/>
<circle cx="1141.75" cy="116.72" r="1.45" fill="#CFCFCF"/>
<circle cx="1328.05" cy="187.45" r="1.45" fill="#CFCFCF"/>
<circle cx="1182.27" cy="92.49" r="1.45" fill="#CFCFCF"/>
<circle cx="1233.51" cy="216.11" r="1.45" fill="#CFCFCF"/>
<circle cx="1257.01" cy="245.22" r="1.45" fill="#CFCFCF"/>
<circle cx="1309.24" cy="185.19" r="1.45" fill="#CFCFCF"/>
<circle cx="1129.17" cy="87.49" r="1.45" fill="#CFCFCF"/>
<circle cx="1307.29" cy="265.36" r="1.45" fill="#CFCFCF"/>
<circle cx="1247.67" cy="219.34" r="1.45" fill="#CFCFCF"/>
<circle cx="1179.10" cy="107.93" r="1.45" fill="#CFCFCF"/>
<circle cx="1270.14" cy="207.24" r="1.45" fill="#CFCFCF"/>
<circle cx="1277.53" cy="257.52" r="1.45" fill="#CFCFCF"/>
<circle cx="1296.25" cy="68.97" r="1.45" fill="#CFCFCF"/>
<circle cx="1294.47" cy="193.05" r="1.45" fill="#CFCFCF"/>
<circle cx="1272.82" cy="202.70" r="1.45" fill="#CFCFCF"/>
<circle cx="1144.95" cy="51.29" r="1.45" fill="#CFCFCF"/>
<circle cx="1156.80" cy="90.14" r="1.45" fill="#CFCFCF"/>
<circle cx="1290.96" cy="88.29" r="1.45" fill="#CFCFCF"/>
<circle cx="1300.93" cy="91.10" r="1.45" fill="#CFCFCF"/>
<circle cx="1356.49" cy="168.53" r="1.45" fill="#CFCFCF"/>
<circle cx="1295.26" cy="196.07" r="1.45" fill="#CFCFCF"/>
<circle cx="1351.70" cy="165.49" r="1.45" fill="#CFCFCF"/>
<circle cx="1277.55" cy="201.38" r="1.45" fill="#CFCFCF"/>
<circle cx="1368.15" cy="152.41" r="1.45" fill="#CFCFCF"/>
<circle cx="1269.17" cy="72.23" r="1.45" fill="#CFCFCF"/>
<circle cx="1282.87" cy="286.01" r="1.45" fill="#CFCFCF"/>
<circle cx="1259.75" cy="204.22" r="1.45" fill="#CFCFCF"/>
<circle cx="1310.50" cy="88.50" r="1.45" fill="#CFCFCF"/>
<circle cx="1302.00" cy="271.15" r="1.45" fill="#CFCFCF"/>
<circle cx="1149.07" cy="92.07" r="1.45" fill="#CFCFCF"/>
<circle cx="1153.42" cy="81.07" r="1.45" fill="#CFCFCF"/>
<circle cx="1114.20" cy="88.28" r="1.45" fill="#CFCFCF"/>
<circle cx="1265.28" cy="197.51" r="1.45" fill="#CFCFCF"/>
<circle cx="1262.77" cy="209.82" r="1.45" fill="#CFCFCF"/>
<circle cx="1243.08" cy="259.14" r="1.45" fill="#CFCFCF"/>
<circle cx="1364.27" cy="150.79" r="1.45" fill="#CFCFCF"/>
<circle cx="1303.12" cy="87.95" r="1.45" fill="#CFCFCF"/>
<circle cx="1300.77" cy="244.99" r="1.45" fill="#CFCFCF"/>
<circle cx="1286.93" cy="248.58" r="1.45" fill="#CFCFCF"/>
<circle cx="1358.70" cy="98.25" r="1.45" fill="#CFCFCF"/>
<circle cx="1258.65" cy="201.57" r="1.45" fill="#CFCFCF"/>
<circle cx="1102.16" cy="110.68" r="1.45" fill="#CFCFCF"/>
<circle cx="1243.34" cy="238.47" r="1.45" fill="#CFCFCF"/>
<circle cx="1235.17" cy="260.26" r="1.45" fill="#CFCFCF"/>
<circle cx="1264.26" cy="261.89" r="1.45" fill="#CFCFCF"/>
<circle cx="1268.14" cy="198.24" r="1.45" fill="#CFCFCF"/>
<circle cx="1229.68" cy="253.98" r="1.45" fill="#CFCFCF"/>
<circle cx="1185.20" cy="80.71" r="1.45" fill="#CFCFCF"/>
<circle cx="1285.68" cy="75.78" r="1.45" fill="#CFCFCF"/>
<circle cx="1268.76" cy="228.59" r="1.45" fill="#CFCFCF"/>
<circle cx="1205.46" cy="76.65" r="1.45" fill="#CFCFCF"/>
<circle cx="1315.94" cy="272.48" r="1.45" fill="#CFCFCF"/>
<circle cx="1286.78" cy="276.62" r="1.45" fill="#CFCFCF"/>
<circle cx="1374.08" cy="146.52" r="1.45" fill="#CFCFCF"/>
<circle cx="1271.04" cy="189.42" r="1.45" fill="#CFCFCF"/>
<circle cx="1308.95" cy="252.45" r="1.45" fill="#CFCFCF"/>
<circle cx="1164.24" cy="55.52" r="1.45" fill="#CFCFCF"/>
<circle cx="1323.04" cy="188.88" r="1.45" fill="#CFCFCF"/>
<circle cx="1324.12" cy="275.08" r="1.45" fill="#CFCFCF"/>
<circle cx="1132.21" cy="116.32" r="1.45" fill="#CFCFCF"/>
<circle cx="1173.74" cy="78.31" r="1.45" fill="#CFCFCF"/>
<circle cx="1119.30" cy="103.05" r="1.45" fill="#CFCFCF"/>
<circle cx="1322.17" cy="252.30" r="1.45" fill="#CFCFCF"/>
<circle cx="1080.67" cy="90.45" r="1.45" fill="#CFCFCF"/>
<circle cx="1269.89" cy="240.81" r="1.45" fill="#CFCFCF"/>
<circle cx="1165.13" cy="49.24" r="1.45" fill="#CFCFCF"/>
<circle cx="1326.36" cy="204.21" r="1.45" fill="#CFCFCF"/>
<circle cx="1094.92" cy="74.67" r="1.45" fill="#CFCFCF"/>
<circle cx="1240.08" cy="241.14" r="1.45" fill="#CFCFCF"/>
<circle cx="1303.80" cy="79.43" r="1.45" fill="#CFCFCF"/>
<circle cx="1379.55" cy="147.12" r="1.45" fill="#CFCFCF"/>
<circle cx="1342.59" cy="87.32" r="1.45" fill="#CFCFCF"/>
<circle cx="1300.09" cy="90.56" r="1.45" fill="#CFCFCF"/>
<circle cx="1307.29" cy="288.00" r="1.45" fill="#CFCFCF"/>
<circle cx="1150.12" cy="95.15" r="1.45" fill="#CFCFCF"/>
<circle cx="1119.67" cy="108.90" r="1.45" fill="#CFCFCF"/>
<circle cx="1374.94" cy="152.51" r="1.45" fill="#CFCFCF"/>
<circle cx="1058.74" cy="63.69" r="1.45" fill="#CFCFCF"/>
<circle cx="1135.78" cy="105.83" r="1.45" fill="#CFCFCF"/>
<circle cx="1294.26" cy="278.06" r="1.45" fill="#CFCFCF"/>
<circle cx="1271.24" cy="268.52" r="1.45" fill="#CFCFCF"/>
<circle cx="1112.19" cy="63.88" r="1.45" fill="#CFCFCF"/>
<circle cx="1125.39" cy="120.29" r="1.45" fill="#CFCFCF"/>
<circle cx="1323.74" cy="275.45" r="1.45" fill="#CFCFCF"/>
<circle cx="1369.08" cy="153.15" r="1.45" fill="#CFCFCF"/>
<circle cx="1241.59" cy="260.34" r="1.45" fill="#CFCFCF"/>
<circle cx="1061.75" cy="98.83" r="1.45" fill="#CFCFCF"/>
<circle cx="1168.59" cy="79.31" r="1.45" fill="#CFCFCF"/>
<circle cx="1159.54" cy="105.15" r="1.45" fill="#CFCFCF"/>
<circle cx="1094.83" cy="67.29" r="1.45" fill="#CFCFCF"/>
<circle cx="1166.69" cy="93.23" r="1.45" fill="#CFCFCF"/>
<circle cx="1330.17" cy="187.31" r="1.45" fill="#CFCFCF"/>
<circle cx="1134.85" cy="89.64" r="1.45" fill="#CFCFCF"/>
<circle cx="1167.88" cy="86.70" r="1.45" fill="#CFCFCF"/>
<circle cx="1087.85" cy="99.28" r="1.45" fill="#CFCFCF"/>
<circle cx="1310.82" cy="73.16" r="1.45" fill="#CFCFCF"/>
<circle cx="1316.96" cy="245.43" r="1.45" fill="#CFCFCF"/>
<circle cx="1286.49" cy="191.18" r="1.45" fill="#CFCFCF"/>
<circle cx="1347.49" cy="174.14" r="1.45" fill="#CFCFCF"/>
<circle cx="1136.92" cy="124.06" r="1.45" fill="#CFCFCF"/>
<circle cx="1319.57" cy="262.01" r="1.45" fill="#CFCFCF"/>
<circle cx="1075.15" cy="76.41" r="1.45" fill="#CFCFCF"/>
<circle cx="1270.91" cy="253.71" r="1.45" fill="#CFCFCF"/>
<circle cx="1249.15" cy="228.76" r="1.45" fill="#CFCFCF"/>
<circle cx="1084.93" cy="58.72" r="1.45" fill="#CFCFCF"/>
<circle cx="1236.41" cy="254.11" r="1.45" fill="#CFCFCF"/>
<circle cx="1158.82" cy="90.52" r="1.45" fill="#CFCFCF"/>
<circle cx="1317.09" cy="187.75" r="1.45" fill="#CFCFCF"/>
<circle cx="1148.87" cy="116.76" r="1.45" fill="#CFCFCF"/>
<circle cx="1200.71" cy="68.41" r="1.45" fill="#CFCFCF"/>
<circle cx="1148.50" cy="74.73" r="1.45" fill="#CFCFCF"/>
<circle cx="1202.13" cy="125.13" r="1.45" fill="#CFCFCF"/>
<circle cx="1107.37" cy="73.94" r="1.45" fill="#CFCFCF"/>
<circle cx="1203.52" cy="76.40" r="1.45" fill="#CFCFCF"/>
<circle cx="1132.48" cy="107.09" r="1.45" fill="#CFCFCF"/>
<circle cx="1131.23" cy="125.89" r="1.45" fill="#CFCFCF"/>
<circle cx="1204.43" cy="135.62" r="1.45" fill="#CFCFCF"/>
<circle cx="1193.61" cy="102.23" r="1.45" fill="#CFCFCF"/>
<circle cx="1143.74" cy="101.80" r="1.45" fill="#CFCFCF"/>
<circle cx="1080.86" cy="63.99" r="1.45" fill="#CFCFCF"/>
<circle cx="1209.02" cy="79.54" r="1.45" fill="#CFCFCF"/>
<circle cx="1199.44" cy="121.19" r="1.45" fill="#CFCFCF"/>
<circle cx="1132.86" cy="105.90" r="1.45" fill="#CFCFCF"/>
<circle cx="1156.30" cy="74.87" r="1.45" fill="#CFCFCF"/>
<circle cx="1084.44" cy="70.39" r="1.45" fill="#CFCFCF"/>
<circle cx="1163.97" cy="74.14" r="1.45" fill="#CFCFCF"/>
<circle cx="1211.95" cy="114.56" r="1.45" fill="#CFCFCF"/>
<circle cx="1084.17" cy="72.38" r="1.45" fill="#CFCFCF"/>
<circle cx="1166.88" cy="65.20" r="1.45" fill="#CFCFCF"/>
<circle cx="1089.16" cy="65.50" r="1.45" fill="#CFCFCF"/>
<circle cx="1195.63" cy="119.13" r="1.45" fill="#CFCFCF"/>
<circle cx="1106.91" cy="133.59" r="1.45" fill="#CFCFCF"/>
<circle cx="1152.08" cy="111.81" r="1.45" fill="#CFCFCF"/>
<circle cx="1198.76" cy="118.68" r="1.45" fill="#CFCFCF"/>
<circle cx="1176.02" cy="90.79" r="1.45" fill="#CFCFCF"/>
<circle cx="1113.29" cy="77.24" r="1.45" fill="#CFCFCF"/>
<circle cx="1084.57" cy="133.19" r="1.45" fill="#CFCFCF"/>
<circle cx="1203.00" cy="118.53" r="1.45" fill="#CFCFCF"/>
<circle cx="1091.81" cy="118.36" r="1.45" fill="#CFCFCF"/>
<circle cx="1165.35" cy="97.78" r="1.45" fill="#CFCFCF"/>
<circle cx="1097.91" cy="121.40" r="1.45" fill="#CFCFCF"/>
<circle cx="1167.25" cy="84.08" r="1.45" fill="#CFCFCF"/>
<circle cx="1125.43" cy="81.59" r="1.45" fill="#CFCFCF"/>
<circle cx="1127.37" cy="131.76" r="1.45" fill="#CFCFCF"/>
<circle cx="1086.54" cy="118.99" r="1.45" fill="#CFCFCF"/>
<circle cx="1202.90" cy="119.69" r="1.45" fill="#CFCFCF"/>
<circle cx="1161.27" cy="97.71" r="1.45" fill="#CFCFCF"/>
<circle cx="1118.83" cy="117.92" r="1.45" fill="#CFCFCF"/>
<circle cx="1186.52" cy="64.34" r="1.45" fill="#CFCFCF"/>
<circle cx="1150.01" cy="69.37" r="1.45" fill="#CFCFCF"/>
<circle cx="1143.31" cy="65.61" r="1.45" fill="#CFCFCF"/>
<circle cx="1156.42" cy="115.58" r="1.45" fill="#CFCFCF"/>
<circle cx="1191.76" cy="105.09" r="1.45" fill="#CFCFCF"/>
<circle cx="1118.76" cy="94.70" r="1.45" fill="#CFCFCF"/>
<circle cx="1150.68" cy="83.63" r="1.45" fill="#CFCFCF"/>
<circle cx="1181.32" cy="66.05" r="1.45" fill="#CFCFCF"/>
<circle cx="1126.95" cy="69.18" r="1.45" fill="#CFCFCF"/>
<circle cx="1173.85" cy="123.90" r="1.45" fill="#CFCFCF"/>
<circle cx="1210.57" cy="106.44" r="1.45" fill="#CFCFCF"/>
<circle cx="1209.22" cy="100.64" r="1.45" fill="#CFCFCF"/>
<circle cx="1158.03" cy="73.92" r="1.45" fill="#CFCFCF"/>
<circle cx="1190.06" cy="132.37" r="1.45" fill="#CFCFCF"/>
<circle cx="1111.26" cy="74.43" r="1.45" fill="#CFCFCF"/>
<circle cx="1206.73" cy="119.51" r="1.45" fill="#CFCFCF"/>
<circle cx="1146.19" cy="136.33" r="1.45" fill="#CFCFCF"/>
<circle cx="1155.77" cy="69.84" r="1.45" fill="#CFCFCF"/>
<circle cx="1124.10" cy="69.14" r="1.45" fill="#CFCFCF"/>
<circle cx="1205.35" cy="128.89" r="1.45" fill="#CFCFCF"/>
<circle cx="1180.60" cy="93.66" r="1.45" fill="#CFCFCF"/>
<circle cx="1167.19" cy="89.90" r="1.45" fill="#CFCFCF"/>
<circle cx="1120.92" cy="94.10" r="1.45" fill="#CFCFCF"/>
<circle cx="1153.57" cy="74.83" r="1.45" fill="#CFCFCF"/>
<circle cx="1212.63" cy="109.31" r="1.45" fill="#CFCFCF"/>
<circle cx="1207.43" cy="71.52" r="1.45" fill="#CFCFCF"/>
<circle cx="1160.20" cy="113.69" r="1.45" fill="#CFCFCF"/>
<circle cx="1161.72" cy="64.54" r="1.45" fill="#CFCFCF"/>
<circle cx="1158.51" cy="101.13" r="1.45" fill="#CFCFCF"/>
<circle cx="1197.18" cy="95.77" r="1.45" fill="#CFCFCF"/>
<circle cx="1154.75" cy="86.25" r="1.45" fill="#CFCFCF"/>
<circle cx="1142.53" cy="113.68" r="1.45" fill="#CFCFCF"/>
<circle cx="1114.72" cy="79.33" r="1.45" fill="#CFCFCF"/>
<circle cx="1125.10" cy="110.20" r="1.45" fill="#CFCFCF"/>
<circle cx="1174.04" cy="100.08" r="1.45" fill="#CFCFCF"/>
<circle cx="1116.11" cy="118.61" r="1.45" fill="#CFCFCF"/>
<circle cx="1191.58" cy="108.30" r="1.45" fill="#CFCFCF"/>
<circle cx="1177.65" cy="135.11" r="1.45" fill="#CFCFCF"/>
<circle cx="1177.63" cy="107.22" r="1.45" fill="#CFCFCF"/>
<circle cx="1127.07" cy="79.72" r="1.45" fill="#CFCFCF"/>
<circle cx="1209.03" cy="81.40" r="1.45" fill="#CFCFCF"/>
<circle cx="1208.92" cy="136.62" r="1.45" fill="#CFCFCF"/>
<circle cx="1102.22" cy="111.34" r="1.45" fill="#CFCFCF"/>
<circle cx="1106.38" cy="73.32" r="1.45" fill="#CFCFCF"/>
<circle cx="1100.02" cy="84.66" r="1.45" fill="#CFCFCF"/>
<circle cx="1120.15" cy="82.54" r="1.45" fill="#CFCFCF"/>
<circle cx="1094.75" cy="130.36" r="1.45" fill="#CFCFCF"/>
<circle cx="1117.91" cy="128.39" r="1.45" fill="#CFCFCF"/>
<circle cx="1142.63" cy="62.95" r="1.45" fill="#CFCFCF"/>
<circle cx="1195.33" cy="94.74" r="1.45" fill="#CFCFCF"/>
<circle cx="1110.03" cy="135.57" r="1.45" fill="#CFCFCF"/>
<circle cx="1221.00" cy="122.00" r="1.45" fill="#CFCFCF"/>
<circle cx="1177.00" cy="136.50" r="1.45" fill="#CFCFCF"/>
<circle cx="1190.00" cy="133.00" r="1.45" fill="#CFCFCF"/>
<circle cx="1225.00" cy="110.00" r="1.45" fill="#CFCFCF"/>
<circle cx="1086.68" cy="60.93" r="1.45" fill="#CFCFCF"/>
<circle cx="1063.06" cy="78.19" r="1.45" fill="#CFCFCF"/>
<circle cx="1065.04" cy="82.15" r="1.45" fill="#CFCFCF"/>
<circle cx="1081.30" cy="89.08" r="1.45" fill="#CFCFCF"/>
<circle cx="1092.33" cy="82.43" r="1.45" fill="#CFCFCF"/>
<circle cx="1092.05" cy="93.75" r="1.45" fill="#CFCFCF"/>
<circle cx="1063.34" cy="104.64" r="1.45" fill="#CFCFCF"/>
<circle cx="1085.97" cy="105.06" r="1.45" fill="#CFCFCF"/>
<circle cx="1112.42" cy="89.22" r="1.45" fill="#CFCFCF"/>
<circle cx="1134.77" cy="89.50" r="1.45" fill="#CFCFCF"/>
<circle cx="1117.79" cy="105.49" r="1.45" fill="#CFCFCF"/>
<circle cx="1125.86" cy="106.48" r="1.45" fill="#CFCFCF"/>
<circle cx="1131.65" cy="103.22" r="1.45" fill="#CFCFCF"/>
<circle cx="1135.76" cy="103.22" r="1.45" fill="#CFCFCF"/>
<circle cx="1145.37" cy="105.49" r="1.45" fill="#CFCFCF"/>
<circle cx="1150.61" cy="96.58" r="1.45" fill="#CFCFCF"/>
<circle cx="1148.91" cy="100.82" r="1.45" fill="#CFCFCF"/>
<circle cx="1152.45" cy="104.64" r="1.45" fill="#CFCFCF"/>
<circle cx="1158.81" cy="100.54" r="1.45" fill="#CFCFCF"/>
<circle cx="1161.36" cy="91.20" r="1.45" fill="#CFCFCF"/>
<circle cx="1163.06" cy="102.66" r="1.45" fill="#CFCFCF"/>
<circle cx="1169.84" cy="93.47" r="1.45" fill="#CFCFCF"/>
<circle cx="1168.71" cy="81.73" r="1.45" fill="#CFCFCF"/>
<circle cx="1168.71" cy="71.40" r="1.45" fill="#CFCFCF"/>
<circle cx="1170.13" cy="59.80" r="1.45" fill="#CFCFCF"/>
<circle cx="1181.02" cy="60.08" r="1.45" fill="#CFCFCF"/>
<circle cx="1144.67" cy="54.85" r="1.45" fill="#CFCFCF"/>
<circle cx="1147.78" cy="56.27" r="1.45" fill="#CFCFCF"/>
<circle cx="1150.04" cy="56.97" r="1.45" fill="#CFCFCF"/>
<circle cx="1152.45" cy="58.81" r="1.45" fill="#CFCFCF"/>
<circle cx="1140.14" cy="109.73" r="1.45" fill="#CFCFCF"/>
<circle cx="1139.72" cy="112.42" r="1.45" fill="#CFCFCF"/>
<circle cx="1141.56" cy="114.96" r="1.45" fill="#CFCFCF"/>
<circle cx="1150.61" cy="111.43" r="1.45" fill="#CFCFCF"/>
<circle cx="1134.77" cy="111.43" r="1.45" fill="#CFCFCF"/>
<circle cx="1128.12" cy="112.14" r="1.45" fill="#CFCFCF"/>
<circle cx="1123.45" cy="112.42" r="1.45" fill="#CFCFCF"/>
<circle cx="1121.33" cy="117.09" r="1.45" fill="#CFCFCF"/>
<circle cx="1107.89" cy="112.14" r="1.45" fill="#CFCFCF"/>
<circle cx="1107.19" cy="113.55" r="1.45" fill="#CFCFCF"/>
<circle cx="1129.82" cy="121.05" r="1.45" fill="#CFCFCF"/>
<circle cx="1119.92" cy="129.11" r="1.45" fill="#CFCFCF"/>
<circle cx="1131.23" cy="130.52" r="1.45" fill="#CFCFCF"/>
<circle cx="1146.79" cy="131.23" r="1.45" fill="#CFCFCF"/>
<circle cx="1147.78" cy="122.04" r="1.45" fill="#CFCFCF"/>
<circle cx="1151.46" cy="118.93" r="1.45" fill="#CFCFCF"/>
<circle cx="1162.77" cy="116.80" r="1.45" fill="#CFCFCF"/>
<circle cx="1172.25" cy="104.78" r="1.45" fill="#CFCFCF"/>
<circle cx="1175.08" cy="103.65" r="1.45" fill="#CFCFCF"/>
<circle cx="1183.56" cy="105.06" r="1.45" fill="#CFCFCF"/>
<circle cx="1185.69" cy="104.36" r="1.45" fill="#CFCFCF"/>
<circle cx="1193.47" cy="89.79" r="1.45" fill="#CFCFCF"/>
<circle cx="1196.29" cy="101.10" r="1.45" fill="#CFCFCF"/>
<circle cx="1192.76" cy="106.48" r="1.45" fill="#CFCFCF"/>
<circle cx="1205.49" cy="92.05" r="1.45" fill="#CFCFCF"/>
<circle cx="1205.91" cy="135.90" r="1.45" fill="#CFCFCF"/>
<circle cx="1174.37" cy="111.43" r="1.45" fill="#CFCFCF"/>
<circle cx="1177.20" cy="110.01" r="1.45" fill="#CFCFCF"/>
<circle cx="1182.57" cy="113.55" r="1.45" fill="#CFCFCF"/>
<circle cx="1184.98" cy="113.27" r="1.45" fill="#CFCFCF"/>
<circle cx="1170.55" cy="98.70" r="1.45" fill="#CFCFCF"/>
<circle cx="1172.67" cy="97.28" r="1.45" fill="#CFCFCF"/>
<circle cx="1331.87" cy="72.82" r="1.45" fill="#CFCFCF"/>
<circle cx="1347.41" cy="69.51" r="1.45" fill="#CFCFCF"/>
<circle cx="1291.87" cy="87.75" r="1.45" fill="#CFCFCF"/>
<circle cx="1300.16" cy="85.05" r="1.45" fill="#CFCFCF"/>
<circle cx="1301.19" cy="88.58" r="1.45" fill="#CFCFCF"/>
<circle cx="1303.26" cy="89.20" r="1.45" fill="#CFCFCF"/>
<circle cx="1304.30" cy="95.41" r="1.45" fill="#CFCFCF"/>
<circle cx="1303.26" cy="98.52" r="1.45" fill="#CFCFCF"/>
<circle cx="1284.61" cy="101.01" r="1.45" fill="#CFCFCF"/>
<circle cx="1295.39" cy="109.92" r="1.45" fill="#CFCFCF"/>
<circle cx="1323.58" cy="86.09" r="1.45" fill="#CFCFCF"/>
<circle cx="1323.37" cy="88.16" r="1.45" fill="#CFCFCF"/>
<circle cx="1335.39" cy="87.75" r="1.45" fill="#CFCFCF"/>
<circle cx="1347.82" cy="99.56" r="1.45" fill="#CFCFCF"/>
<circle cx="1351.97" cy="102.25" r="1.45" fill="#CFCFCF"/>
<circle cx="1356.11" cy="98.11" r="1.45" fill="#CFCFCF"/>
<circle cx="1358.19" cy="101.01" r="1.45" fill="#CFCFCF"/>
<circle cx="1367.51" cy="116.76" r="1.45" fill="#CFCFCF"/>
<circle cx="1368.13" cy="124.02" r="1.45" fill="#CFCFCF"/>
<circle cx="1379.95" cy="145.16" r="1.45" fill="#CFCFCF"/>
<circle cx="1380.36" cy="149.30" r="1.45" fill="#CFCFCF"/>
<circle cx="1379.95" cy="152.41" r="1.45" fill="#CFCFCF"/>
<circle cx="1387.20" cy="141.01" r="1.45" fill="#CFCFCF"/>
<circle cx="1385.75" cy="155.52" r="1.45" fill="#CFCFCF"/>
<circle cx="1361.30" cy="151.99" r="1.45" fill="#CFCFCF"/>
<circle cx="1349.90" cy="157.18" r="1.45" fill="#CFCFCF"/>
<circle cx="1352.59" cy="157.59" r="1.45" fill="#CFCFCF"/>
<circle cx="1356.32" cy="167.95" r="1.45" fill="#CFCFCF"/>
<circle cx="1356.74" cy="172.72" r="1.45" fill="#CFCFCF"/>
<circle cx="1360.88" cy="172.10" r="1.45" fill="#CFCFCF"/>
<circle cx="1366.89" cy="171.06" r="1.45" fill="#CFCFCF"/>
<circle cx="1343.68" cy="180.60" r="1.45" fill="#CFCFCF"/>
<circle cx="1346.17" cy="177.28" r="1.45" fill="#CFCFCF"/>
<circle cx="1317.15" cy="185.57" r="1.45" fill="#CFCFCF"/>
<circle cx="1332.69" cy="185.16" r="1.45" fill="#CFCFCF"/>
<circle cx="1308.24" cy="190.13" r="1.45" fill="#CFCFCF"/>
<circle cx="1311.55" cy="191.37" r="1.45" fill="#CFCFCF"/>
<circle cx="1297.05" cy="190.75" r="1.45" fill="#CFCFCF"/>
<circle cx="1300.57" cy="196.55" r="1.45" fill="#CFCFCF"/>
<circle cx="1287.72" cy="189.30" r="1.45" fill="#CFCFCF"/>
<circle cx="1283.99" cy="198.01" r="1.45" fill="#CFCFCF"/>
<circle cx="1283.99" cy="207.95" r="1.45" fill="#CFCFCF"/>
<circle cx="1287.10" cy="205.05" r="1.45" fill="#CFCFCF"/>
<circle cx="1321.92" cy="199.04" r="1.45" fill="#CFCFCF"/>
<circle cx="1322.95" cy="200.49" r="1.45" fill="#CFCFCF"/>
<circle cx="1323.99" cy="207.33" r="1.45" fill="#CFCFCF"/>
<circle cx="1254.56" cy="204.22" r="1.45" fill="#CFCFCF"/>
<circle cx="1232.80" cy="220.18" r="1.45" fill="#CFCFCF"/>
<circle cx="1236.94" cy="225.98" r="1.45" fill="#CFCFCF"/>
<circle cx="1241.09" cy="221.84" r="1.45" fill="#CFCFCF"/>
<circle cx="1225.54" cy="245.67" r="1.45" fill="#CFCFCF"/>
<circle cx="1246.89" cy="243.60" r="1.45" fill="#CFCFCF"/>
<circle cx="1251.45" cy="235.73" r="1.45" fill="#CFCFCF"/>
<circle cx="1256.01" cy="231.58" r="1.45" fill="#CFCFCF"/>
<circle cx="1262.85" cy="233.65" r="1.45" fill="#CFCFCF"/>
<circle cx="1255.18" cy="239.46" r="1.45" fill="#CFCFCF"/>
<circle cx="1254.56" cy="248.78" r="1.45" fill="#CFCFCF"/>
<circle cx="1259.33" cy="249.40" r="1.45" fill="#CFCFCF"/>
<circle cx="1263.89" cy="249.82" r="1.45" fill="#CFCFCF"/>
<circle cx="1269.69" cy="244.64" r="1.45" fill="#CFCFCF"/>
<circle cx="1270.10" cy="249.82" r="1.45" fill="#CFCFCF"/>
<circle cx="1240.67" cy="250.85" r="1.45" fill="#CFCFCF"/>
<circle cx="1241.50" cy="255.62" r="1.45" fill="#CFCFCF"/>
<circle cx="1241.09" cy="259.56" r="1.45" fill="#CFCFCF"/>
<circle cx="1234.46" cy="254.38" r="1.45" fill="#CFCFCF"/>
<circle cx="1233.21" cy="256.04" r="1.45" fill="#CFCFCF"/>
<circle cx="1251.45" cy="258.73" r="1.45" fill="#CFCFCF"/>
<circle cx="1256.01" cy="255.00" r="1.45" fill="#CFCFCF"/>
<circle cx="1264.30" cy="256.45" r="1.45" fill="#CFCFCF"/>
<circle cx="1268.03" cy="257.07" r="1.45" fill="#CFCFCF"/>
<circle cx="1270.10" cy="260.60" r="1.45" fill="#CFCFCF"/>
<circle cx="1273.21" cy="265.36" r="1.45" fill="#CFCFCF"/>
<circle cx="1274.66" cy="257.69" r="1.45" fill="#CFCFCF"/>
<circle cx="1279.43" cy="258.11" r="1.45" fill="#CFCFCF"/>
<circle cx="1281.50" cy="259.15" r="1.45" fill="#CFCFCF"/>
<circle cx="1280.05" cy="263.29" r="1.45" fill="#CFCFCF"/>
<circle cx="1280.05" cy="270.96" r="1.45" fill="#CFCFCF"/>
<circle cx="1282.54" cy="276.76" r="1.45" fill="#CFCFCF"/>
<circle cx="1280.47" cy="281.53" r="1.45" fill="#CFCFCF"/>
<circle cx="1291.87" cy="268.89" r="1.45" fill="#CFCFCF"/>
<circle cx="1298.08" cy="263.91" r="1.45" fill="#CFCFCF"/>
<circle cx="1301.19" cy="265.98" r="1.45" fill="#CFCFCF"/>
<circle cx="1295.39" cy="276.76" r="1.45" fill="#CFCFCF"/>
<circle cx="1333.32" cy="263.29" r="1.45" fill="#CFCFCF"/>
<circle cx="1298.70" cy="249.40" r="1.45" fill="#CFCFCF"/>
<circle cx="1058.81" cy="67.58" r="2.25" fill="#FA8E2D" fill-opacity="0.9"/>
<circle cx="1062.91" cy="70.41" r="2.25" fill="#FA8E2D" fill-opacity="0.9"/>
<circle cx="1077.06" cy="72.25" r="2.25" fill="#FA8E2D" fill-opacity="0.9"/>
<circle cx="1079.32" cy="72.25" r="2.25" fill="#FA8E2D" fill-opacity="0.9"/>
<circle cx="1080.03" cy="77.06" r="2.25" fill="#FA8E2D" fill-opacity="0.9"/>
<circle cx="1085.26" cy="63.76" r="2.25" fill="#FA8E2D" fill-opacity="0.9"/>
<circle cx="1088.80" cy="69.70" r="2.25" fill="#FA8E2D" fill-opacity="0.9"/>
<circle cx="1090.21" cy="69.00" r="2.25" fill="#FA8E2D" fill-opacity="0.9"/>
<circle cx="1090.92" cy="73.66" r="2.25" fill="#FA8E2D" fill-opacity="0.9"/>
<circle cx="1095.45" cy="70.83" r="2.25" fill="#FA8E2D" fill-opacity="0.9"/>
<circle cx="1097.99" cy="63.76" r="2.25" fill="#FA8E2D" fill-opacity="0.9"/>
<circle cx="1105.49" cy="61.50" r="2.25" fill="#FA8E2D" fill-opacity="0.9"/>
<circle cx="1104.36" cy="72.53" r="2.25" fill="#FA8E2D" fill-opacity="0.9"/>
<circle cx="1109.31" cy="73.95" r="2.25" fill="#FA8E2D" fill-opacity="0.9"/>
<circle cx="1110.30" cy="70.83" r="2.25" fill="#FA8E2D" fill-opacity="0.9"/>
<circle cx="1115.95" cy="70.41" r="2.25" fill="#FA8E2D" fill-opacity="0.9"/>
<circle cx="1127.69" cy="69.00" r="2.25" fill="#FA8E2D" fill-opacity="0.9"/>
<circle cx="1130.95" cy="70.83" r="2.25" fill="#FA8E2D" fill-opacity="0.9"/>
<circle cx="1139.72" cy="77.06" r="2.25" fill="#FA8E2D" fill-opacity="0.9"/>
<circle cx="1131.23" cy="85.26" r="2.25" fill="#FA8E2D" fill-opacity="0.9"/>
<circle cx="1135.05" cy="95.45" r="2.25" fill="#FA8E2D" fill-opacity="0.9"/>
<circle cx="1141.56" cy="86.96" r="2.25" fill="#FA8E2D" fill-opacity="0.9"/>
<circle cx="1142.83" cy="93.04" r="2.25" fill="#FA8E2D" fill-opacity="0.9"/>
<circle cx="1148.20" cy="86.39" r="2.25" fill="#FA8E2D" fill-opacity="0.9"/>
<circle cx="1152.02" cy="88.80" r="2.25" fill="#FA8E2D" fill-opacity="0.9"/>
<circle cx="1154.57" cy="68.57" r="2.25" fill="#FA8E2D" fill-opacity="0.9"/>
<circle cx="1159.52" cy="83.56" r="2.25" fill="#FA8E2D" fill-opacity="0.9"/>
<circle cx="1159.52" cy="85.97" r="2.25" fill="#FA8E2D" fill-opacity="0.9"/>
<circle cx="1160.93" cy="107.19" r="2.25" fill="#FA8E2D" fill-opacity="0.9"/>
<circle cx="1171.54" cy="83.85" r="2.25" fill="#FA8E2D" fill-opacity="0.9"/>
<circle cx="1174.65" cy="81.73" r="2.25" fill="#FA8E2D" fill-opacity="0.9"/>
<circle cx="1173.38" cy="87.81" r="2.25" fill="#FA8E2D" fill-opacity="0.9"/>
<circle cx="1175.79" cy="87.81" r="2.25" fill="#FA8E2D" fill-opacity="0.9"/>
<circle cx="1175.22" cy="91.20" r="2.25" fill="#FA8E2D" fill-opacity="0.9"/>
<circle cx="1181.16" cy="76.49" r="2.25" fill="#FA8E2D" fill-opacity="0.9"/>
<circle cx="1185.69" cy="83.14" r="2.25" fill="#FA8E2D" fill-opacity="0.9"/>
<circle cx="1187.95" cy="75.08" r="2.25" fill="#FA8E2D" fill-opacity="0.9"/>
<circle cx="1191.06" cy="75.08" r="2.25" fill="#FA8E2D" fill-opacity="0.9"/>
<circle cx="1189.93" cy="84.55" r="2.25" fill="#FA8E2D" fill-opacity="0.9"/>
<circle cx="1184.98" cy="91.20" r="2.25" fill="#FA8E2D" fill-opacity="0.9"/>
<circle cx="1188.80" cy="90.64" r="2.25" fill="#FA8E2D" fill-opacity="0.9"/>
<circle cx="1184.27" cy="94.46" r="2.25" fill="#FA8E2D" fill-opacity="0.9"/>
<circle cx="1201.24" cy="78.90" r="2.25" fill="#FA8E2D" fill-opacity="0.9"/>
<circle cx="1203.37" cy="77.06" r="2.25" fill="#FA8E2D" fill-opacity="0.9"/>
<circle cx="1107.89" cy="92.62" r="2.25" fill="#FA8E2D" fill-opacity="0.9"/>
<circle cx="1280.47" cy="77.80" r="2.25" fill="#FA8E2D" fill-opacity="0.9"/>
<circle cx="1283.58" cy="81.94" r="2.25" fill="#FA8E2D" fill-opacity="0.9"/>
<circle cx="1284.61" cy="86.09" r="2.25" fill="#FA8E2D" fill-opacity="0.9"/>
<circle cx="1287.10" cy="75.73" r="2.25" fill="#FA8E2D" fill-opacity="0.9"/>
<circle cx="1289.79" cy="71.58" r="2.25" fill="#FA8E2D" fill-opacity="0.9"/>
<circle cx="1292.90" cy="68.47" r="2.25" fill="#FA8E2D" fill-opacity="0.9"/>
<circle cx="1293.94" cy="76.76" r="2.25" fill="#FA8E2D" fill-opacity="0.9"/>
<circle cx="1296.63" cy="74.69" r="2.25" fill="#FA8E2D" fill-opacity="0.9"/>
<circle cx="1303.89" cy="72.62" r="2.25" fill="#FA8E2D" fill-opacity="0.9"/>
<circle cx="1313.63" cy="79.46" r="2.25" fill="#FA8E2D" fill-opacity="0.9"/>
<circle cx="1317.36" cy="82.36" r="2.25" fill="#FA8E2D" fill-opacity="0.9"/>
<circle cx="1338.50" cy="80.91" r="2.25" fill="#FA8E2D" fill-opacity="0.9"/>
<circle cx="1345.75" cy="86.09" r="2.25" fill="#FA8E2D" fill-opacity="0.9"/>
<circle cx="1347.20" cy="83.39" r="2.25" fill="#FA8E2D" fill-opacity="0.9"/>
<circle cx="1365.44" cy="88.16" r="2.25" fill="#FA8E2D" fill-opacity="0.9"/>
<circle cx="1363.37" cy="94.38" r="2.25" fill="#FA8E2D" fill-opacity="0.9"/>
<circle cx="1369.59" cy="91.89" r="2.25" fill="#FA8E2D" fill-opacity="0.9"/>
<circle cx="1373.73" cy="96.45" r="2.25" fill="#FA8E2D" fill-opacity="0.9"/>
<circle cx="1377.46" cy="96.45" r="2.25" fill="#FA8E2D" fill-opacity="0.9"/>
<circle cx="1373.73" cy="100.60" r="2.25" fill="#FA8E2D" fill-opacity="0.9"/>
<circle cx="1356.74" cy="108.89" r="2.25" fill="#FA8E2D" fill-opacity="0.9"/>
<circle cx="1370.00" cy="129.61" r="2.25" fill="#FA8E2D" fill-opacity="0.9"/>
<circle cx="1367.10" cy="137.49" r="2.25" fill="#FA8E2D" fill-opacity="0.9"/>
<circle cx="1366.89" cy="145.78" r="2.25" fill="#FA8E2D" fill-opacity="0.9"/>
<circle cx="1372.07" cy="146.19" r="2.25" fill="#FA8E2D" fill-opacity="0.9"/>
<circle cx="1361.92" cy="158.63" r="2.25" fill="#FA8E2D" fill-opacity="0.9"/>
<circle cx="1367.93" cy="157.59" r="2.25" fill="#FA8E2D" fill-opacity="0.9"/>
<circle cx="1375.80" cy="161.74" r="2.25" fill="#FA8E2D" fill-opacity="0.9"/>
<circle cx="1387.82" cy="159.25" r="2.25" fill="#FA8E2D" fill-opacity="0.9"/>
<circle cx="1369.59" cy="170.03" r="2.25" fill="#FA8E2D" fill-opacity="0.9"/>
<circle cx="1351.55" cy="175.21" r="2.25" fill="#FA8E2D" fill-opacity="0.9"/>
<circle cx="1348.45" cy="176.24" r="2.25" fill="#FA8E2D" fill-opacity="0.9"/>
<circle cx="1327.72" cy="186.61" r="2.25" fill="#FA8E2D" fill-opacity="0.9"/>
<circle cx="1332.69" cy="189.72" r="2.25" fill="#FA8E2D" fill-opacity="0.9"/>
<circle cx="1296.01" cy="194.90" r="2.25" fill="#FA8E2D" fill-opacity="0.9"/>
<circle cx="1304.30" cy="191.37" r="2.25" fill="#FA8E2D" fill-opacity="0.9"/>
<circle cx="1270.52" cy="201.74" r="2.25" fill="#FA8E2D" fill-opacity="0.9"/>
<circle cx="1272.18" cy="205.88" r="2.25" fill="#FA8E2D" fill-opacity="0.9"/>
<circle cx="1276.32" cy="200.08" r="2.25" fill="#FA8E2D" fill-opacity="0.9"/>
<circle cx="1326.48" cy="196.97" r="2.25" fill="#FA8E2D" fill-opacity="0.9"/>
<circle cx="1332.28" cy="201.74" r="2.25" fill="#FA8E2D" fill-opacity="0.9"/>
<circle cx="1325.23" cy="208.37" r="2.25" fill="#FA8E2D" fill-opacity="0.9"/>
<circle cx="1237.98" cy="221.84" r="2.25" fill="#FA8E2D" fill-opacity="0.9"/>
<circle cx="1243.16" cy="223.91" r="2.25" fill="#FA8E2D" fill-opacity="0.9"/>
<circle cx="1248.76" cy="226.19" r="2.25" fill="#FA8E2D" fill-opacity="0.9"/>
<circle cx="1239.02" cy="253.96" r="2.25" fill="#FA8E2D" fill-opacity="0.9"/>
<circle cx="1227.62" cy="259.15" r="2.25" fill="#FA8E2D" fill-opacity="0.9"/>
<circle cx="1231.14" cy="262.25" r="2.25" fill="#FA8E2D" fill-opacity="0.9"/>
<circle cx="1276.32" cy="236.35" r="2.25" fill="#FA8E2D" fill-opacity="0.9"/>
<circle cx="1282.12" cy="243.60" r="2.25" fill="#FA8E2D" fill-opacity="0.9"/>
<circle cx="1282.54" cy="249.82" r="2.25" fill="#FA8E2D" fill-opacity="0.9"/>
<circle cx="1285.44" cy="247.33" r="2.25" fill="#FA8E2D" fill-opacity="0.9"/>
<circle cx="1292.49" cy="246.71" r="2.25" fill="#FA8E2D" fill-opacity="0.9"/>
<circle cx="1293.94" cy="243.19" r="2.25" fill="#FA8E2D" fill-opacity="0.9"/>
<circle cx="1301.19" cy="244.02" r="2.25" fill="#FA8E2D" fill-opacity="0.9"/>
<circle cx="1314.66" cy="242.56" r="2.25" fill="#FA8E2D" fill-opacity="0.9"/>
<circle cx="1305.34" cy="261.22" r="2.25" fill="#FA8E2D" fill-opacity="0.9"/>
<circle cx="1307.41" cy="263.29" r="2.25" fill="#FA8E2D" fill-opacity="0.9"/>
<circle cx="1310.52" cy="260.18" r="2.25" fill="#FA8E2D" fill-opacity="0.9"/>
<circle cx="1305.75" cy="265.36" r="2.25" fill="#FA8E2D" fill-opacity="0.9"/>
<circle cx="1319.84" cy="259.77" r="2.25" fill="#FA8E2D" fill-opacity="0.9"/>
<circle cx="1328.55" cy="256.45" r="2.25" fill="#FA8E2D" fill-opacity="0.9"/>
<circle cx="1294.97" cy="266.40" r="2.25" fill="#FA8E2D" fill-opacity="0.9"/>
<circle cx="1293.94" cy="272.62" r="2.25" fill="#FA8E2D" fill-opacity="0.9"/>
<circle cx="1301.19" cy="274.69" r="2.25" fill="#FA8E2D" fill-opacity="0.9"/>
<circle cx="1304.30" cy="277.80" r="2.25" fill="#FA8E2D" fill-opacity="0.9"/>
<circle cx="1310.52" cy="274.69" r="2.25" fill="#FA8E2D" fill-opacity="0.9"/>
<circle cx="1313.63" cy="275.73" r="2.25" fill="#FA8E2D" fill-opacity="0.9"/>
<circle cx="1319.43" cy="273.03" r="2.25" fill="#FA8E2D" fill-opacity="0.9"/>
<circle cx="1327.72" cy="273.03" r="2.25" fill="#FA8E2D" fill-opacity="0.9"/>
<circle cx="1316.74" cy="280.49" r="2.25" fill="#FA8E2D" fill-opacity="0.9"/>
<circle cx="1321.92" cy="279.46" r="2.25" fill="#FA8E2D" fill-opacity="0.9"/>
<circle cx="1303.26" cy="279.87" r="2.25" fill="#FA8E2D" fill-opacity="0.9"/>
<circle cx="1061.92" cy="73.95" r="2.25" fill="#3DAA49" fill-opacity="0.9"/>
<circle cx="1064.05" cy="73.66" r="2.25" fill="#3DAA49" fill-opacity="0.9"/>
<circle cx="1069.00" cy="73.52" r="2.25" fill="#3DAA49" fill-opacity="0.9"/>
<circle cx="1061.92" cy="79.60" r="2.25" fill="#3DAA49" fill-opacity="0.9"/>
<circle cx="1065.04" cy="90.21" r="2.25" fill="#3DAA49" fill-opacity="0.9"/>
<circle cx="1073.24" cy="87.81" r="2.25" fill="#3DAA49" fill-opacity="0.9"/>
<circle cx="1084.55" cy="71.40" r="2.25" fill="#3DAA49" fill-opacity="0.9"/>
<circle cx="1095.16" cy="87.67" r="2.25" fill="#3DAA49" fill-opacity="0.9"/>
<circle cx="1103.93" cy="96.86" r="2.25" fill="#3DAA49" fill-opacity="0.9"/>
<circle cx="1105.91" cy="109.45" r="2.25" fill="#3DAA49" fill-opacity="0.9"/>
<circle cx="1112.42" cy="105.06" r="2.25" fill="#3DAA49" fill-opacity="0.9"/>
<circle cx="1117.09" cy="94.88" r="2.25" fill="#3DAA49" fill-opacity="0.9"/>
<circle cx="1116.38" cy="98.27" r="2.25" fill="#3DAA49" fill-opacity="0.9"/>
<circle cx="1117.51" cy="99.41" r="2.25" fill="#3DAA49" fill-opacity="0.9"/>
<circle cx="1120.91" cy="102.52" r="2.25" fill="#3DAA49" fill-opacity="0.9"/>
<circle cx="1122.04" cy="92.05" r="2.25" fill="#3DAA49" fill-opacity="0.9"/>
<circle cx="1124.16" cy="99.12" r="2.25" fill="#3DAA49" fill-opacity="0.9"/>
<circle cx="1129.82" cy="77.06" r="2.25" fill="#3DAA49" fill-opacity="0.9"/>
<circle cx="1131.65" cy="81.73" r="2.25" fill="#3DAA49" fill-opacity="0.9"/>
<circle cx="1131.37" cy="93.04" r="2.25" fill="#3DAA49" fill-opacity="0.9"/>
<circle cx="1133.78" cy="129.11" r="2.25" fill="#3DAA49" fill-opacity="0.9"/>
<circle cx="1145.37" cy="106.05" r="2.25" fill="#3DAA49" fill-opacity="0.9"/>
<circle cx="1160.93" cy="85.69" r="2.25" fill="#3DAA49" fill-opacity="0.9"/>
<circle cx="1164.19" cy="80.74" r="2.25" fill="#3DAA49" fill-opacity="0.9"/>
<circle cx="1191.06" cy="78.19" r="2.25" fill="#3DAA49" fill-opacity="0.9"/>
<circle cx="1205.21" cy="73.95" r="2.25" fill="#3DAA49" fill-opacity="0.9"/>
<circle cx="1281.50" cy="79.46" r="2.25" fill="#3DAA49" fill-opacity="0.9"/>
<circle cx="1292.90" cy="86.50" r="2.25" fill="#3DAA49" fill-opacity="0.9"/>
<circle cx="1328.13" cy="87.75" r="2.25" fill="#3DAA49" fill-opacity="0.9"/>
<circle cx="1344.72" cy="84.02" r="2.25" fill="#3DAA49" fill-opacity="0.9"/>
<circle cx="1356.74" cy="89.20" r="2.25" fill="#3DAA49" fill-opacity="0.9"/>
<circle cx="1377.88" cy="143.70" r="2.25" fill="#3DAA49" fill-opacity="0.9"/>
<circle cx="1365.44" cy="148.68" r="2.25" fill="#3DAA49" fill-opacity="0.9"/>
<circle cx="1369.59" cy="155.52" r="2.25" fill="#3DAA49" fill-opacity="0.9"/>
<circle cx="1364.40" cy="157.59" r="2.25" fill="#3DAA49" fill-opacity="0.9"/>
<circle cx="1362.95" cy="164.22" r="2.25" fill="#3DAA49" fill-opacity="0.9"/>
<circle cx="1367.51" cy="162.36" r="2.25" fill="#3DAA49" fill-opacity="0.9"/>
<circle cx="1370.83" cy="166.92" r="2.25" fill="#3DAA49" fill-opacity="0.9"/>
<circle cx="1341.19" cy="177.28" r="2.25" fill="#3DAA49" fill-opacity="0.9"/>
<circle cx="1349.27" cy="176.24" r="2.25" fill="#3DAA49" fill-opacity="0.9"/>
<circle cx="1310.52" cy="190.13" r="2.25" fill="#3DAA49" fill-opacity="0.9"/>
<circle cx="1317.77" cy="187.64" r="2.25" fill="#3DAA49" fill-opacity="0.9"/>
<circle cx="1320.88" cy="188.68" r="2.25" fill="#3DAA49" fill-opacity="0.9"/>
<circle cx="1321.92" cy="190.75" r="2.25" fill="#3DAA49" fill-opacity="0.9"/>
<circle cx="1325.03" cy="191.79" r="2.25" fill="#3DAA49" fill-opacity="0.9"/>
<circle cx="1330.21" cy="192.82" r="2.25" fill="#3DAA49" fill-opacity="0.9"/>
<circle cx="1291.45" cy="197.38" r="2.25" fill="#3DAA49" fill-opacity="0.9"/>
<circle cx="1282.95" cy="197.18" r="2.25" fill="#3DAA49" fill-opacity="0.9"/>
<circle cx="1277.36" cy="196.55" r="2.25" fill="#3DAA49" fill-opacity="0.9"/>
<circle cx="1272.18" cy="199.46" r="2.25" fill="#3DAA49" fill-opacity="0.9"/>
<circle cx="1266.37" cy="200.08" r="2.25" fill="#3DAA49" fill-opacity="0.9"/>
<circle cx="1266.99" cy="204.22" r="2.25" fill="#3DAA49" fill-opacity="0.9"/>
<circle cx="1271.55" cy="203.81" r="2.25" fill="#3DAA49" fill-opacity="0.9"/>
<circle cx="1278.39" cy="208.37" r="2.25" fill="#3DAA49" fill-opacity="0.9"/>
<circle cx="1278.39" cy="211.48" r="2.25" fill="#3DAA49" fill-opacity="0.9"/>
<circle cx="1259.74" cy="207.95" r="2.25" fill="#3DAA49" fill-opacity="0.9"/>
<circle cx="1257.25" cy="209.40" r="2.25" fill="#3DAA49" fill-opacity="0.9"/>
<circle cx="1254.56" cy="212.51" r="2.25" fill="#3DAA49" fill-opacity="0.9"/>
<circle cx="1258.08" cy="216.66" r="2.25" fill="#3DAA49" fill-opacity="0.9"/>
<circle cx="1326.06" cy="201.11" r="2.25" fill="#3DAA49" fill-opacity="0.9"/>
<circle cx="1327.72" cy="203.19" r="2.25" fill="#3DAA49" fill-opacity="0.9"/>
<circle cx="1329.79" cy="202.15" r="2.25" fill="#3DAA49" fill-opacity="0.9"/>
<circle cx="1333.94" cy="205.88" r="2.25" fill="#3DAA49" fill-opacity="0.9"/>
<circle cx="1326.06" cy="211.89" r="2.25" fill="#3DAA49" fill-opacity="0.9"/>
<circle cx="1241.09" cy="218.73" r="2.25" fill="#3DAA49" fill-opacity="0.9"/>
<circle cx="1244.20" cy="216.66" r="2.25" fill="#3DAA49" fill-opacity="0.9"/>
<circle cx="1246.27" cy="217.69" r="2.25" fill="#3DAA49" fill-opacity="0.9"/>
<circle cx="1247.31" cy="220.80" r="2.25" fill="#3DAA49" fill-opacity="0.9"/>
<circle cx="1239.02" cy="224.53" r="2.25" fill="#3DAA49" fill-opacity="0.9"/>
<circle cx="1243.16" cy="228.06" r="2.25" fill="#3DAA49" fill-opacity="0.9"/>
<circle cx="1245.23" cy="227.02" r="2.25" fill="#3DAA49" fill-opacity="0.9"/>
<circle cx="1261.19" cy="226.61" r="2.25" fill="#3DAA49" fill-opacity="0.9"/>
<circle cx="1247.72" cy="233.65" r="2.25" fill="#3DAA49" fill-opacity="0.9"/>
<circle cx="1246.27" cy="238.42" r="2.25" fill="#3DAA49" fill-opacity="0.9"/>
<circle cx="1276.74" cy="233.65" r="2.25" fill="#3DAA49" fill-opacity="0.9"/>
<circle cx="1254.56" cy="246.09" r="2.25" fill="#3DAA49" fill-opacity="0.9"/>
<circle cx="1262.23" cy="248.16" r="2.25" fill="#3DAA49" fill-opacity="0.9"/>
<circle cx="1265.96" cy="248.16" r="2.25" fill="#3DAA49" fill-opacity="0.9"/>
<circle cx="1273.21" cy="249.20" r="2.25" fill="#3DAA49" fill-opacity="0.9"/>
<circle cx="1276.74" cy="246.09" r="2.25" fill="#3DAA49" fill-opacity="0.9"/>
<circle cx="1276.74" cy="248.78" r="2.25" fill="#3DAA49" fill-opacity="0.9"/>
<circle cx="1293.32" cy="242.56" r="2.25" fill="#3DAA49" fill-opacity="0.9"/>
<circle cx="1293.94" cy="245.67" r="2.25" fill="#3DAA49" fill-opacity="0.9"/>
<circle cx="1293.32" cy="246.71" r="2.25" fill="#3DAA49" fill-opacity="0.9"/>
<circle cx="1306.79" cy="242.15" r="2.25" fill="#3DAA49" fill-opacity="0.9"/>
<circle cx="1309.07" cy="247.75" r="2.25" fill="#3DAA49" fill-opacity="0.9"/>
<circle cx="1307.41" cy="254.38" r="2.25" fill="#3DAA49" fill-opacity="0.9"/>
<circle cx="1231.14" cy="249.40" r="2.25" fill="#3DAA49" fill-opacity="0.9"/>
<circle cx="1226.58" cy="257.69" r="2.25" fill="#3DAA49" fill-opacity="0.9"/>
<circle cx="1228.65" cy="261.84" r="2.25" fill="#3DAA49" fill-opacity="0.9"/>
<circle cx="1232.38" cy="255.62" r="2.25" fill="#3DAA49" fill-opacity="0.9"/>
<circle cx="1233.21" cy="259.77" r="2.25" fill="#3DAA49" fill-opacity="0.9"/>
<circle cx="1235.91" cy="259.15" r="2.25" fill="#3DAA49" fill-opacity="0.9"/>
<circle cx="1239.02" cy="253.96" r="2.25" fill="#3DAA49" fill-opacity="0.9"/>
<circle cx="1242.12" cy="252.93" r="2.25" fill="#3DAA49" fill-opacity="0.9"/>
<circle cx="1247.31" cy="268.06" r="2.25" fill="#3DAA49" fill-opacity="0.9"/>
<circle cx="1257.25" cy="271.79" r="2.25" fill="#3DAA49" fill-opacity="0.9"/>
<circle cx="1294.97" cy="270.54" r="2.25" fill="#3DAA49" fill-opacity="0.9"/>
<circle cx="1298.50" cy="266.40" r="2.25" fill="#3DAA49" fill-opacity="0.9"/>
<circle cx="1301.19" cy="269.51" r="2.25" fill="#3DAA49" fill-opacity="0.9"/>
<circle cx="1305.75" cy="266.40" r="2.25" fill="#3DAA49" fill-opacity="0.9"/>
<circle cx="1309.48" cy="276.35" r="2.25" fill="#3DAA49" fill-opacity="0.9"/>
<circle cx="1312.18" cy="270.54" r="2.25" fill="#3DAA49" fill-opacity="0.9"/>
<circle cx="1317.77" cy="272.62" r="2.25" fill="#3DAA49" fill-opacity="0.9"/>
<circle cx="1319.43" cy="273.65" r="2.25" fill="#3DAA49" fill-opacity="0.9"/>
<circle cx="1317.77" cy="270.54" r="2.25" fill="#3DAA49" fill-opacity="0.9"/>
<line x1="1038.00" y1="41.40" x2="1038.00" y2="298.50" stroke="#000" stroke-width="2" stroke-linecap="butt"/>
<line x1="1037.00" y1="297.50" x2="1414.00" y2="297.50" stroke="#000" stroke-width="2" stroke-linecap="butt"/>
<circle cx="1066.80" cy="227.00" r="5" fill="#FA8E2D" fill-opacity="0.9"/>
<circle cx="1066.80" cy="252.40" r="5" fill="#3DAA49" fill-opacity="0.9"/>
<circle cx="1066.80" cy="278.00" r="3.5" fill="#D0D0D0"/>
<g transform="translate(1079.80,234.40) scale(1,1.04)">
<text y="0" font-size="25.00" fill="#000"><tspan x="24.14">S</tspan><tspan x="40.34">S</tspan><tspan x="57.24">p</tspan></text>
<path d="M0.50,-6.40H22.88M16.62,-12.25L22.88,-6.40L16.62,-0.50" fill="none" stroke="#000" stroke-width="1.38" stroke-linejoin="miter"/>
</g>
<g transform="translate(1079.80,259.60) scale(1,1.04)">
<text y="0" font-size="25.00" fill="#000"><tspan x="24.14">A</tspan><tspan x="40.57">C</tspan><tspan x="58.39">A</tspan></text>
<path d="M0.50,-6.40H22.88M16.62,-12.25L22.88,-6.40L16.62,-0.50" fill="none" stroke="#000" stroke-width="1.38" stroke-linejoin="miter"/>
</g>
<g transform="translate(1079.95,285.00) scale(1,1.04)">
<text y="0" font-size="25.00" fill="#000"><tspan x="-0.24">O</tspan><tspan x="19.44">t</tspan><tspan x="26.85">h</tspan><tspan x="40.51">e</tspan><tspan x="54.17">r</tspan><tspan x="62.50">s</tspan></text>
</g>
<g transform="translate(1184.01,325.30) scale(1,1.04)">
<text y="0" font-size="26.36" fill="#000"><tspan x="0.49" font-style="italic">t</tspan><tspan x="9.04">-</tspan><tspan x="18.31">S</tspan><tspan x="35.64">N</tspan><tspan x="54.43">E</tspan><tspan x="72.50">-</tspan><tspan x="82.01">1</tspan></text>
</g>
<g transform="translate(1028.30,211.10) rotate(-90) scale(1,1.04)">
<text y="0" font-size="26.60" fill="#000"><tspan x="0.49" font-style="italic">t</tspan><tspan x="9.12">-</tspan><tspan x="18.47">S</tspan><tspan x="35.96">N</tspan><tspan x="54.91">E</tspan><tspan x="73.14">-</tspan><tspan x="82.74">2</tspan></text>
</g>
<path d="M707.9,303.2 L763.5,349.3" stroke="#000" stroke-width="2.3" fill="none"/>
<path d="M771.7,355.3 L757.3,350.6 L763.3,349.1 L764.7,342.1 Z" fill="#000"/>
<path d="M1131,303.4 L1093.7,408" stroke="#000" stroke-width="2.2" fill="none"/>
<path d="M1089.9,418.7 L1089.2,403 L1093.7,408.2 L1100.6,407.3 Z" fill="#000"/>
<text transform="translate(1125.22,394.85) scale(1.120,1)" font-size="31.18" font-weight="bold" stroke="#000" stroke-width="1.23" stroke-linejoin="round">d</text>
<g transform="translate(1245.55,383.50) scale(1,1.04)">
<text y="0" font-size="27.45" fill="#000"><tspan x="-0.00">L</tspan><tspan x="15.00">a</tspan><tspan x="30.00">y</tspan><tspan x="43.46">e</tspan><tspan x="58.46">r</tspan></text>
</g>
<circle cx="1178.98" cy="422.51" r="1.45" fill="#C9432F"/>
<circle cx="1198.95" cy="418.95" r="1.45" fill="#C9432F"/>
<circle cx="1178.04" cy="420.74" r="1.45" fill="#C9432F"/>
<circle cx="1194.30" cy="425.39" r="1.45" fill="#C9432F"/>
<circle cx="1179.06" cy="415.83" r="1.45" fill="#C9432F"/>
<circle cx="1196.35" cy="422.90" r="1.45" fill="#C9432F"/>
<circle cx="1203.80" cy="424.93" r="1.45" fill="#C9432F"/>
<circle cx="1189.08" cy="419.90" r="1.45" fill="#C9432F"/>
<circle cx="1213.13" cy="419.84" r="1.45" fill="#C9432F"/>
<circle cx="1182.94" cy="416.45" r="1.45" fill="#C9432F"/>
<circle cx="1190.86" cy="421.58" r="1.45" fill="#C9432F"/>
<circle cx="1186.90" cy="420.75" r="1.45" fill="#C9432F"/>
<circle cx="1192.46" cy="423.77" r="1.45" fill="#C9432F"/>
<circle cx="1199.87" cy="421.84" r="1.45" fill="#C9432F"/>
<circle cx="1173.89" cy="423.81" r="1.45" fill="#C9432F"/>
<circle cx="1177.22" cy="420.31" r="1.45" fill="#C9432F"/>
<circle cx="1176.74" cy="421.01" r="1.45" fill="#C9432F"/>
<circle cx="1182.99" cy="421.86" r="1.45" fill="#C9432F"/>
<circle cx="1219.70" cy="420.81" r="1.45" fill="#C9432F"/>
<circle cx="1197.58" cy="415.71" r="1.45" fill="#C9432F"/>
<circle cx="1187.41" cy="423.65" r="1.45" fill="#C9432F"/>
<circle cx="1189.17" cy="422.48" r="1.45" fill="#C9432F"/>
<circle cx="1190.93" cy="416.98" r="1.45" fill="#C9432F"/>
<circle cx="1195.07" cy="417.75" r="1.45" fill="#C9432F"/>
<circle cx="1206.85" cy="418.98" r="1.45" fill="#C9432F"/>
<circle cx="1196.17" cy="421.01" r="1.45" fill="#C9432F"/>
<circle cx="1198.57" cy="418.59" r="1.45" fill="#C9432F"/>
<circle cx="1198.99" cy="420.50" r="1.45" fill="#C9432F"/>
<circle cx="1201.37" cy="423.50" r="1.45" fill="#C9432F"/>
<circle cx="1191.27" cy="417.88" r="1.45" fill="#C9432F"/>
<circle cx="1196.91" cy="422.87" r="1.45" fill="#C9432F"/>
<circle cx="1204.78" cy="419.49" r="1.45" fill="#C9432F"/>
<circle cx="1194.99" cy="423.03" r="1.45" fill="#C9432F"/>
<circle cx="1192.55" cy="421.83" r="1.45" fill="#C9432F"/>
<circle cx="1191.64" cy="418.61" r="1.45" fill="#C9432F"/>
<circle cx="1180.87" cy="419.41" r="1.45" fill="#C9432F"/>
<circle cx="1195.32" cy="427.04" r="1.45" fill="#C9432F"/>
<circle cx="1198.79" cy="425.21" r="1.45" fill="#C9432F"/>
<circle cx="1197.00" cy="423.79" r="1.45" fill="#C9432F"/>
<circle cx="1191.65" cy="424.09" r="1.45" fill="#C9432F"/>
<circle cx="1205.96" cy="419.69" r="1.45" fill="#C9432F"/>
<circle cx="1183.76" cy="428.84" r="1.45" fill="#C9432F"/>
<circle cx="1192.20" cy="424.88" r="1.45" fill="#C9432F"/>
<circle cx="1197.86" cy="416.46" r="1.45" fill="#C9432F"/>
<circle cx="1211.90" cy="428.10" r="1.45" fill="#C9432F"/>
<circle cx="1191.59" cy="424.01" r="1.45" fill="#C9432F"/>
<circle cx="1191.14" cy="417.46" r="1.45" fill="#C9432F"/>
<circle cx="1188.99" cy="422.50" r="1.45" fill="#C9432F"/>
<circle cx="1200.04" cy="423.84" r="1.45" fill="#C9432F"/>
<circle cx="1190.54" cy="426.42" r="1.45" fill="#C9432F"/>
<circle cx="1183.15" cy="424.17" r="1.45" fill="#C9432F"/>
<circle cx="1200.01" cy="419.83" r="1.45" fill="#C9432F"/>
<circle cx="1173.88" cy="417.37" r="1.45" fill="#C9432F"/>
<circle cx="1192.13" cy="423.11" r="1.45" fill="#C9432F"/>
<circle cx="1203.93" cy="416.98" r="1.45" fill="#C9432F"/>
<circle cx="1190.02" cy="423.60" r="1.45" fill="#C9432F"/>
<circle cx="1188.58" cy="411.52" r="1.45" fill="#C9432F"/>
<circle cx="1197.26" cy="430.25" r="1.45" fill="#C9432F"/>
<circle cx="1199.04" cy="417.33" r="1.45" fill="#C9432F"/>
<circle cx="1186.29" cy="421.89" r="1.45" fill="#C9432F"/>
<circle cx="1212.40" cy="423.47" r="1.45" fill="#C9432F"/>
<circle cx="1191.02" cy="427.23" r="1.45" fill="#C9432F"/>
<circle cx="1189.26" cy="428.45" r="1.45" fill="#C9432F"/>
<circle cx="1183.83" cy="419.10" r="1.45" fill="#C9432F"/>
<circle cx="1196.49" cy="426.70" r="1.45" fill="#C9432F"/>
<circle cx="1195.89" cy="422.21" r="1.45" fill="#C9432F"/>
<circle cx="1173.61" cy="418.15" r="1.45" fill="#C9432F"/>
<circle cx="1184.50" cy="418.87" r="1.45" fill="#C9432F"/>
<circle cx="1195.28" cy="419.66" r="1.45" fill="#C9432F"/>
<circle cx="1197.09" cy="421.33" r="1.45" fill="#C9432F"/>
<circle cx="1187.00" cy="421.47" r="1.45" fill="#C9432F"/>
<circle cx="1193.86" cy="424.43" r="1.45" fill="#C9432F"/>
<circle cx="1185.70" cy="420.07" r="1.45" fill="#C9432F"/>
<circle cx="1177.73" cy="427.42" r="1.45" fill="#C9432F"/>
<circle cx="1203.07" cy="420.28" r="1.45" fill="#C9432F"/>
<circle cx="1185.69" cy="416.06" r="1.45" fill="#C9432F"/>
<circle cx="1191.53" cy="421.83" r="1.45" fill="#C9432F"/>
<circle cx="1209.64" cy="421.99" r="1.45" fill="#C9432F"/>
<circle cx="1183.00" cy="411.22" r="1.45" fill="#C9432F"/>
<circle cx="1202.68" cy="421.76" r="1.45" fill="#C9432F"/>
<circle cx="1175.52" cy="421.72" r="1.45" fill="#C9432F"/>
<circle cx="1175.52" cy="434.92" r="1.45" fill="#C9432F"/>
<circle cx="1200.07" cy="423.29" r="1.45" fill="#C9432F"/>
<circle cx="1188.42" cy="412.44" r="1.45" fill="#C9432F"/>
<circle cx="1188.86" cy="414.78" r="1.45" fill="#C9432F"/>
<circle cx="1258.00" cy="444.13" r="1.45" fill="#C9432F"/>
<circle cx="1254.04" cy="441.25" r="1.45" fill="#C9432F"/>
<circle cx="1234.54" cy="437.13" r="1.45" fill="#C9432F"/>
<circle cx="1240.29" cy="441.93" r="1.45" fill="#C9432F"/>
<circle cx="1242.01" cy="443.30" r="1.45" fill="#C9432F"/>
<circle cx="1252.53" cy="444.22" r="1.45" fill="#C9432F"/>
<circle cx="1247.96" cy="448.25" r="1.45" fill="#C9432F"/>
<circle cx="1237.53" cy="446.16" r="1.45" fill="#C9432F"/>
<circle cx="1213.03" cy="439.85" r="1.45" fill="#C9432F"/>
<circle cx="1241.92" cy="444.47" r="1.45" fill="#C9432F"/>
<circle cx="1245.76" cy="444.96" r="1.45" fill="#C9432F"/>
<circle cx="1263.21" cy="446.90" r="1.45" fill="#C9432F"/>
<circle cx="1225.18" cy="440.29" r="1.45" fill="#C9432F"/>
<circle cx="1221.83" cy="438.73" r="1.45" fill="#C9432F"/>
<circle cx="1236.59" cy="441.41" r="1.45" fill="#C9432F"/>
<circle cx="1248.97" cy="447.68" r="1.45" fill="#C9432F"/>
<circle cx="1261.66" cy="442.47" r="1.45" fill="#C9432F"/>
<circle cx="1228.80" cy="441.39" r="1.45" fill="#C9432F"/>
<circle cx="1210.46" cy="441.08" r="1.45" fill="#C9432F"/>
<circle cx="1257.15" cy="438.81" r="1.45" fill="#C9432F"/>
<circle cx="1226.21" cy="444.81" r="1.45" fill="#C9432F"/>
<circle cx="1225.20" cy="444.95" r="1.45" fill="#C9432F"/>
<circle cx="1242.93" cy="444.48" r="1.45" fill="#C9432F"/>
<circle cx="1261.62" cy="445.50" r="1.45" fill="#C9432F"/>
<circle cx="1218.45" cy="441.72" r="1.45" fill="#C9432F"/>
<circle cx="1209.49" cy="436.52" r="1.45" fill="#C9432F"/>
<circle cx="1226.69" cy="441.59" r="1.45" fill="#C9432F"/>
<circle cx="1215.51" cy="441.14" r="1.45" fill="#C9432F"/>
<circle cx="1257.91" cy="447.46" r="1.45" fill="#C9432F"/>
<circle cx="1208.57" cy="437.96" r="1.45" fill="#C9432F"/>
<circle cx="1242.74" cy="439.91" r="1.45" fill="#C9432F"/>
<circle cx="1264.71" cy="444.88" r="1.45" fill="#C9432F"/>
<circle cx="1236.70" cy="443.72" r="1.45" fill="#C9432F"/>
<circle cx="1235.91" cy="441.47" r="1.45" fill="#C9432F"/>
<circle cx="1221.72" cy="445.73" r="1.45" fill="#C9432F"/>
<circle cx="1235.43" cy="440.32" r="1.45" fill="#C9432F"/>
<circle cx="1233.31" cy="436.45" r="1.45" fill="#C9432F"/>
<circle cx="1217.61" cy="438.64" r="1.45" fill="#C9432F"/>
<circle cx="1211.77" cy="442.12" r="1.45" fill="#C9432F"/>
<circle cx="1259.82" cy="449.09" r="1.45" fill="#C9432F"/>
<circle cx="1262.85" cy="439.26" r="1.45" fill="#C9432F"/>
<circle cx="1234.64" cy="441.59" r="1.45" fill="#C9432F"/>
<circle cx="1253.11" cy="441.15" r="1.45" fill="#C9432F"/>
<circle cx="1252.53" cy="451.29" r="1.45" fill="#C9432F"/>
<circle cx="1270.51" cy="446.34" r="1.45" fill="#C9432F"/>
<circle cx="1252.63" cy="451.49" r="1.45" fill="#C9432F"/>
<circle cx="1258.62" cy="447.01" r="1.45" fill="#C9432F"/>
<circle cx="1229.58" cy="441.49" r="1.45" fill="#C9432F"/>
<circle cx="1242.62" cy="444.38" r="1.45" fill="#C9432F"/>
<circle cx="1212.41" cy="438.69" r="1.45" fill="#C9432F"/>
<circle cx="1228.49" cy="440.74" r="1.45" fill="#C9432F"/>
<circle cx="1212.14" cy="440.54" r="1.45" fill="#C9432F"/>
<circle cx="1255.71" cy="439.16" r="1.45" fill="#C9432F"/>
<circle cx="1238.76" cy="443.05" r="1.45" fill="#C9432F"/>
<circle cx="1218.84" cy="441.14" r="1.45" fill="#C9432F"/>
<circle cx="1249.38" cy="442.31" r="1.45" fill="#C9432F"/>
<circle cx="1256.21" cy="444.95" r="1.45" fill="#C9432F"/>
<circle cx="1234.50" cy="437.34" r="1.45" fill="#C9432F"/>
<circle cx="1225.16" cy="435.10" r="1.45" fill="#C9432F"/>
<circle cx="1237.65" cy="442.78" r="1.45" fill="#C9432F"/>
<circle cx="1236.06" cy="443.67" r="1.45" fill="#C9432F"/>
<circle cx="1213.21" cy="439.50" r="1.45" fill="#C9432F"/>
<circle cx="1233.25" cy="439.14" r="1.45" fill="#C9432F"/>
<circle cx="1237.06" cy="442.40" r="1.45" fill="#C9432F"/>
<circle cx="1233.88" cy="447.65" r="1.45" fill="#C9432F"/>
<circle cx="1263.00" cy="449.84" r="1.45" fill="#C9432F"/>
<circle cx="1210.57" cy="443.12" r="1.45" fill="#C9432F"/>
<circle cx="1259.44" cy="446.69" r="1.45" fill="#C9432F"/>
<circle cx="1214.44" cy="436.73" r="1.45" fill="#C9432F"/>
<circle cx="1215.89" cy="440.27" r="1.45" fill="#C9432F"/>
<circle cx="1220.30" cy="445.88" r="1.45" fill="#C9432F"/>
<circle cx="1224.76" cy="445.55" r="1.45" fill="#C9432F"/>
<circle cx="1214.11" cy="439.21" r="1.45" fill="#C9432F"/>
<circle cx="1238.62" cy="445.56" r="1.45" fill="#C9432F"/>
<circle cx="1237.14" cy="444.84" r="1.45" fill="#C9432F"/>
<circle cx="1231.06" cy="442.57" r="1.45" fill="#C9432F"/>
<circle cx="1217.35" cy="438.29" r="1.45" fill="#C9432F"/>
<circle cx="1242.23" cy="440.39" r="1.45" fill="#C9432F"/>
<circle cx="1259.94" cy="450.90" r="1.45" fill="#C9432F"/>
<circle cx="1258.77" cy="444.17" r="1.45" fill="#C9432F"/>
<circle cx="1228.76" cy="441.22" r="1.45" fill="#C9432F"/>
<circle cx="1269.12" cy="445.94" r="1.45" fill="#C9432F"/>
<circle cx="1222.02" cy="439.38" r="1.45" fill="#C9432F"/>
<circle cx="1215.37" cy="437.95" r="1.45" fill="#C9432F"/>
<circle cx="1257.54" cy="447.70" r="1.45" fill="#C9432F"/>
<circle cx="1249.26" cy="408.92" r="1.45" fill="#C9432F"/>
<circle cx="1198.90" cy="443.48" r="1.45" fill="#C9432F"/>
<circle cx="1272.78" cy="458.36" r="1.45" fill="#C9432F"/>
<circle cx="1190.00" cy="434.30" r="1.45" fill="#C9432F"/>
<circle cx="1256.85" cy="434.14" r="1.45" fill="#C9432F"/>
<circle cx="1249.31" cy="417.83" r="1.45" fill="#C9432F"/>
<circle cx="1185.34" cy="413.52" r="1.45" fill="#C9432F"/>
<circle cx="1181.89" cy="436.69" r="1.45" fill="#C9432F"/>
<circle cx="1231.54" cy="437.57" r="1.45" fill="#C9432F"/>
<circle cx="1193.24" cy="417.60" r="1.45" fill="#C9432F"/>
<circle cx="1199.21" cy="451.69" r="1.45" fill="#C9432F"/>
<circle cx="1280.99" cy="456.20" r="1.45" fill="#C9432F"/>
<circle cx="1187.91" cy="411.22" r="1.45" fill="#C9432F"/>
<circle cx="1276.96" cy="432.03" r="1.45" fill="#C9432F"/>
<circle cx="1257.53" cy="425.00" r="1.45" fill="#C9432F"/>
<circle cx="1226.56" cy="434.79" r="1.45" fill="#C9432F"/>
<circle cx="1222.73" cy="439.25" r="1.45" fill="#C9432F"/>
<circle cx="1179.38" cy="444.45" r="1.45" fill="#C9432F"/>
<circle cx="1265.80" cy="417.43" r="1.45" fill="#C9432F"/>
<circle cx="1225.21" cy="446.45" r="1.45" fill="#C9432F"/>
<circle cx="1220.15" cy="418.15" r="1.45" fill="#C9432F"/>
<circle cx="1195.17" cy="434.65" r="1.45" fill="#C9432F"/>
<circle cx="1179.60" cy="454.45" r="1.45" fill="#C9432F"/>
<circle cx="1261.38" cy="444.64" r="1.45" fill="#C9432F"/>
<circle cx="1267.52" cy="440.73" r="1.45" fill="#C9432F"/>
<circle cx="1220.07" cy="439.18" r="1.45" fill="#C9432F"/>
<circle cx="1230.45" cy="459.10" r="1.45" fill="#C9432F"/>
<circle cx="1261.70" cy="421.43" r="1.45" fill="#C9432F"/>
<circle cx="1272.78" cy="446.71" r="1.45" fill="#C9432F"/>
<circle cx="1258.91" cy="450.36" r="1.45" fill="#C9432F"/>
<circle cx="1220.19" cy="454.62" r="1.45" fill="#C9432F"/>
<circle cx="1269.50" cy="444.13" r="1.45" fill="#C9432F"/>
<circle cx="1257.80" cy="447.79" r="1.45" fill="#C9432F"/>
<circle cx="1220.20" cy="445.58" r="1.45" fill="#C9432F"/>
<circle cx="1185.34" cy="425.77" r="1.45" fill="#C9432F"/>
<circle cx="1226.76" cy="408.55" r="1.45" fill="#C9432F"/>
<circle cx="1214.99" cy="441.21" r="1.45" fill="#C9432F"/>
<circle cx="1242.90" cy="420.07" r="1.45" fill="#C9432F"/>
<circle cx="1276.25" cy="442.64" r="1.45" fill="#C9432F"/>
<circle cx="1213.13" cy="442.31" r="1.45" fill="#C9432F"/>
<circle cx="1237.24" cy="435.72" r="1.45" fill="#C9432F"/>
<circle cx="1218.52" cy="459.99" r="1.45" fill="#C9432F"/>
<circle cx="1244.80" cy="444.47" r="1.45" fill="#C9432F"/>
<circle cx="1257.22" cy="458.96" r="1.45" fill="#C9432F"/>
<circle cx="1180.37" cy="440.00" r="1.45" fill="#C9432F"/>
<circle cx="1254.83" cy="421.34" r="1.45" fill="#C9432F"/>
<circle cx="1219.76" cy="410.62" r="1.45" fill="#C9432F"/>
<circle cx="1198.33" cy="427.54" r="1.45" fill="#C9432F"/>
<circle cx="1188.24" cy="421.05" r="1.45" fill="#C9432F"/>
<circle cx="1272.19" cy="436.60" r="1.45" fill="#C9432F"/>
<circle cx="1230.81" cy="458.29" r="1.45" fill="#C9432F"/>
<circle cx="1237.07" cy="459.75" r="1.45" fill="#C9432F"/>
<circle cx="1244.35" cy="450.10" r="1.45" fill="#C9432F"/>
<circle cx="1185.92" cy="439.07" r="1.45" fill="#C9432F"/>
<circle cx="1256.96" cy="410.35" r="1.45" fill="#C9432F"/>
<circle cx="1274.74" cy="416.32" r="1.45" fill="#C9432F"/>
<circle cx="1227.06" cy="416.79" r="1.45" fill="#C9432F"/>
<circle cx="1229.53" cy="439.78" r="1.45" fill="#C9432F"/>
<circle cx="1184.09" cy="457.15" r="1.45" fill="#C9432F"/>
<circle cx="1221.75" cy="435.39" r="1.45" fill="#C9432F"/>
<circle cx="1255.77" cy="426.70" r="1.45" fill="#C9432F"/>
<circle cx="1259.40" cy="438.53" r="1.45" fill="#C9432F"/>
<circle cx="1255.94" cy="428.18" r="1.45" fill="#C9432F"/>
<circle cx="1260.60" cy="425.08" r="1.45" fill="#C9432F"/>
<circle cx="1267.97" cy="430.40" r="1.45" fill="#C9432F"/>
<circle cx="1266.50" cy="430.93" r="1.45" fill="#C9432F"/>
<circle cx="1262.23" cy="424.04" r="1.45" fill="#C9432F"/>
<circle cx="1272.63" cy="424.02" r="1.45" fill="#C9432F"/>
<circle cx="1284.79" cy="435.57" r="1.45" fill="#C9432F"/>
<circle cx="1264.94" cy="429.20" r="1.45" fill="#C9432F"/>
<circle cx="1269.03" cy="426.45" r="1.45" fill="#C9432F"/>
<circle cx="1240.69" cy="432.26" r="1.45" fill="#C9432F"/>
<circle cx="1262.38" cy="437.30" r="1.45" fill="#C9432F"/>
<circle cx="1273.83" cy="426.31" r="1.45" fill="#C9432F"/>
<circle cx="1240.23" cy="433.29" r="1.45" fill="#C9432F"/>
<circle cx="1266.43" cy="422.54" r="1.45" fill="#C9432F"/>
<circle cx="1270.39" cy="435.56" r="1.45" fill="#C9432F"/>
<circle cx="1256.81" cy="431.11" r="1.45" fill="#C9432F"/>
<circle cx="1271.28" cy="432.36" r="1.45" fill="#C9432F"/>
<circle cx="1268.14" cy="434.57" r="1.45" fill="#C9432F"/>
<circle cx="1257.65" cy="424.24" r="1.45" fill="#C9432F"/>
<circle cx="1261.20" cy="437.90" r="1.45" fill="#C9432F"/>
<circle cx="1249.86" cy="435.04" r="1.45" fill="#C9432F"/>
<circle cx="1234.70" cy="425.99" r="1.45" fill="#C9432F"/>
<circle cx="1274.45" cy="427.14" r="1.45" fill="#C9432F"/>
<circle cx="1262.29" cy="432.94" r="1.45" fill="#C9432F"/>
<circle cx="1272.95" cy="423.44" r="1.45" fill="#C9432F"/>
<circle cx="1256.66" cy="426.00" r="1.45" fill="#C9432F"/>
<circle cx="1260.36" cy="439.04" r="1.45" fill="#C9432F"/>
<circle cx="1252.17" cy="426.82" r="1.45" fill="#C9432F"/>
<circle cx="1253.03" cy="422.55" r="1.45" fill="#C9432F"/>
<circle cx="1264.24" cy="434.22" r="1.45" fill="#C9432F"/>
<circle cx="1279.65" cy="428.30" r="1.45" fill="#C9432F"/>
<circle cx="1263.64" cy="428.82" r="1.45" fill="#C9432F"/>
<circle cx="1267.90" cy="431.78" r="1.45" fill="#C9432F"/>
<circle cx="1246.71" cy="413.23" r="1.45" fill="#C9432F"/>
<circle cx="1232.51" cy="412.42" r="1.45" fill="#C9432F"/>
<circle cx="1231.19" cy="407.86" r="1.45" fill="#C9432F"/>
<circle cx="1257.76" cy="412.51" r="1.45" fill="#C9432F"/>
<circle cx="1255.77" cy="410.73" r="1.45" fill="#C9432F"/>
<circle cx="1249.06" cy="409.11" r="1.45" fill="#C9432F"/>
<circle cx="1243.12" cy="414.45" r="1.45" fill="#C9432F"/>
<circle cx="1264.90" cy="407.74" r="1.45" fill="#C9432F"/>
<circle cx="1233.27" cy="415.09" r="1.45" fill="#C9432F"/>
<circle cx="1255.44" cy="414.69" r="1.45" fill="#C9432F"/>
<circle cx="1237.38" cy="411.24" r="1.45" fill="#C9432F"/>
<circle cx="1239.36" cy="415.10" r="1.45" fill="#C9432F"/>
<circle cx="1244.23" cy="413.54" r="1.45" fill="#C9432F"/>
<circle cx="1271.52" cy="410.25" r="1.45" fill="#C9432F"/>
<circle cx="1252.14" cy="414.46" r="1.45" fill="#C9432F"/>
<circle cx="1336.79" cy="417.24" r="1.45" fill="#F29320"/>
<circle cx="1333.08" cy="420.16" r="1.45" fill="#F29320"/>
<circle cx="1334.86" cy="418.00" r="1.45" fill="#F29320"/>
<circle cx="1337.35" cy="421.25" r="1.45" fill="#F29320"/>
<circle cx="1329.46" cy="419.51" r="1.45" fill="#F29320"/>
<circle cx="1332.43" cy="424.77" r="1.45" fill="#F29320"/>
<circle cx="1335.84" cy="420.12" r="1.45" fill="#F29320"/>
<circle cx="1333.35" cy="417.77" r="1.45" fill="#F29320"/>
<circle cx="1332.40" cy="424.31" r="1.45" fill="#F29320"/>
<circle cx="1333.16" cy="416.32" r="1.45" fill="#F29320"/>
<circle cx="1335.76" cy="421.58" r="1.45" fill="#F29320"/>
<circle cx="1333.57" cy="415.69" r="1.45" fill="#F29320"/>
<circle cx="1337.49" cy="422.70" r="1.45" fill="#F29320"/>
<circle cx="1327.91" cy="415.69" r="1.45" fill="#F29320"/>
<circle cx="1340.17" cy="416.15" r="1.45" fill="#F29320"/>
<circle cx="1329.00" cy="421.40" r="1.45" fill="#F29320"/>
<circle cx="1333.12" cy="421.88" r="1.45" fill="#F29320"/>
<circle cx="1328.34" cy="423.82" r="1.45" fill="#F29320"/>
<circle cx="1335.79" cy="417.38" r="1.45" fill="#F29320"/>
<circle cx="1332.15" cy="421.55" r="1.45" fill="#F29320"/>
<circle cx="1332.03" cy="421.66" r="1.45" fill="#F29320"/>
<circle cx="1332.50" cy="420.50" r="1.45" fill="#F29320"/>
<circle cx="1339.53" cy="429.94" r="1.45" fill="#F29320"/>
<circle cx="1338.97" cy="430.73" r="1.45" fill="#F29320"/>
<circle cx="1339.51" cy="417.53" r="1.45" fill="#F29320"/>
<circle cx="1344.21" cy="431.62" r="1.45" fill="#F29320"/>
<circle cx="1332.75" cy="414.44" r="1.45" fill="#F29320"/>
<circle cx="1338.38" cy="424.88" r="1.45" fill="#F29320"/>
<circle cx="1339.62" cy="433.33" r="1.45" fill="#F29320"/>
<circle cx="1341.63" cy="430.09" r="1.45" fill="#F29320"/>
<circle cx="1346.98" cy="419.34" r="1.45" fill="#F2C53A"/>
<circle cx="1361.77" cy="425.45" r="1.45" fill="#F2C53A"/>
<circle cx="1393.46" cy="433.23" r="1.45" fill="#F2C53A"/>
<circle cx="1357.58" cy="415.93" r="1.45" fill="#F2C53A"/>
<circle cx="1363.23" cy="430.99" r="1.45" fill="#F2C53A"/>
<circle cx="1373.28" cy="421.73" r="1.45" fill="#F2C53A"/>
<circle cx="1372.10" cy="423.05" r="1.45" fill="#F2C53A"/>
<circle cx="1364.75" cy="424.27" r="1.45" fill="#F2C53A"/>
<circle cx="1384.31" cy="425.73" r="1.45" fill="#F2C53A"/>
<circle cx="1380.64" cy="421.62" r="1.45" fill="#F2C53A"/>
<circle cx="1388.98" cy="420.91" r="1.45" fill="#F2C53A"/>
<circle cx="1386.82" cy="426.35" r="1.45" fill="#F2C53A"/>
<circle cx="1381.92" cy="423.64" r="1.45" fill="#F2C53A"/>
<circle cx="1373.31" cy="431.08" r="1.45" fill="#F2C53A"/>
<circle cx="1389.71" cy="432.83" r="1.45" fill="#F2C53A"/>
<circle cx="1356.84" cy="424.74" r="1.45" fill="#F2C53A"/>
<circle cx="1394.39" cy="432.10" r="1.45" fill="#F2C53A"/>
<circle cx="1351.94" cy="415.91" r="1.45" fill="#F2C53A"/>
<circle cx="1363.79" cy="424.70" r="1.45" fill="#F2C53A"/>
<circle cx="1376.39" cy="426.18" r="1.45" fill="#F2C53A"/>
<circle cx="1357.61" cy="424.97" r="1.45" fill="#F2C53A"/>
<circle cx="1360.18" cy="417.43" r="1.45" fill="#F2C53A"/>
<circle cx="1362.41" cy="426.59" r="1.45" fill="#F2C53A"/>
<circle cx="1359.08" cy="418.84" r="1.45" fill="#F2C53A"/>
<circle cx="1376.03" cy="421.79" r="1.45" fill="#F2C53A"/>
<circle cx="1370.00" cy="417.12" r="1.45" fill="#F2C53A"/>
<circle cx="1354.89" cy="421.11" r="1.45" fill="#F2C53A"/>
<circle cx="1371.56" cy="427.24" r="1.45" fill="#F2C53A"/>
<circle cx="1391.31" cy="426.27" r="1.45" fill="#F2C53A"/>
<circle cx="1369.52" cy="425.92" r="1.45" fill="#F2C53A"/>
<circle cx="1389.79" cy="428.13" r="1.45" fill="#F2C53A"/>
<circle cx="1348.16" cy="421.85" r="1.45" fill="#F2C53A"/>
<circle cx="1382.47" cy="422.99" r="1.45" fill="#F2C53A"/>
<circle cx="1360.48" cy="425.88" r="1.45" fill="#F2C53A"/>
<circle cx="1366.07" cy="419.62" r="1.45" fill="#F2C53A"/>
<circle cx="1381.02" cy="427.22" r="1.45" fill="#F2C53A"/>
<circle cx="1377.89" cy="432.61" r="1.45" fill="#F2C53A"/>
<circle cx="1355.83" cy="413.17" r="1.45" fill="#F2C53A"/>
<circle cx="1387.98" cy="430.99" r="1.45" fill="#F2C53A"/>
<circle cx="1384.88" cy="431.12" r="1.45" fill="#F2C53A"/>
<circle cx="1376.50" cy="424.04" r="1.45" fill="#F2C53A"/>
<circle cx="1383.67" cy="437.07" r="1.45" fill="#F2C53A"/>
<circle cx="1370.38" cy="424.19" r="1.45" fill="#F2C53A"/>
<circle cx="1386.51" cy="434.71" r="1.45" fill="#F2C53A"/>
<circle cx="1377.69" cy="433.36" r="1.45" fill="#F2C53A"/>
<circle cx="1363.79" cy="425.77" r="1.45" fill="#F2C53A"/>
<circle cx="1357.25" cy="425.52" r="1.45" fill="#F2C53A"/>
<circle cx="1365.57" cy="422.63" r="1.45" fill="#F2C53A"/>
<circle cx="1356.36" cy="427.74" r="1.45" fill="#F2C53A"/>
<circle cx="1384.79" cy="428.71" r="1.45" fill="#F2C53A"/>
<circle cx="1366.26" cy="421.56" r="1.45" fill="#F2C53A"/>
<circle cx="1373.93" cy="426.81" r="1.45" fill="#F2C53A"/>
<circle cx="1392.60" cy="428.00" r="1.45" fill="#F2C53A"/>
<circle cx="1375.55" cy="431.39" r="1.45" fill="#F2C53A"/>
<circle cx="1372.37" cy="430.29" r="1.45" fill="#F2C53A"/>
<circle cx="1365.96" cy="421.92" r="1.45" fill="#F2C53A"/>
<circle cx="1359.53" cy="419.00" r="1.45" fill="#F2C53A"/>
<circle cx="1383.14" cy="427.68" r="1.45" fill="#F2C53A"/>
<circle cx="1366.19" cy="422.56" r="1.45" fill="#F2C53A"/>
<circle cx="1363.25" cy="426.19" r="1.45" fill="#F2C53A"/>
<circle cx="1382.28" cy="432.21" r="1.45" fill="#F2C53A"/>
<circle cx="1383.84" cy="428.29" r="1.45" fill="#F2C53A"/>
<circle cx="1362.34" cy="425.20" r="1.45" fill="#F2C53A"/>
<circle cx="1377.37" cy="429.54" r="1.45" fill="#F2C53A"/>
<circle cx="1362.60" cy="424.80" r="1.45" fill="#F2C53A"/>
<circle cx="1384.59" cy="424.66" r="1.45" fill="#F2C53A"/>
<circle cx="1364.58" cy="424.73" r="1.45" fill="#F2C53A"/>
<circle cx="1364.08" cy="412.88" r="1.45" fill="#F2C53A"/>
<circle cx="1380.29" cy="423.69" r="1.45" fill="#F2C53A"/>
<circle cx="1350.73" cy="424.78" r="1.45" fill="#F2C53A"/>
<circle cx="1381.47" cy="430.22" r="1.45" fill="#F2C53A"/>
<circle cx="1374.39" cy="417.93" r="1.45" fill="#F2C53A"/>
<circle cx="1380.64" cy="433.55" r="1.45" fill="#F2C53A"/>
<circle cx="1384.12" cy="428.78" r="1.45" fill="#F2C53A"/>
<circle cx="1376.49" cy="431.54" r="1.45" fill="#F2C53A"/>
<circle cx="1384.37" cy="430.15" r="1.45" fill="#F2C53A"/>
<circle cx="1388.95" cy="439.60" r="1.45" fill="#F2C53A"/>
<circle cx="1377.69" cy="429.05" r="1.45" fill="#F2C53A"/>
<circle cx="1355.62" cy="420.23" r="1.45" fill="#F2C53A"/>
<circle cx="1369.01" cy="422.46" r="1.45" fill="#F2C53A"/>
<circle cx="1379.15" cy="434.16" r="1.45" fill="#F2C53A"/>
<circle cx="1362.07" cy="419.16" r="1.45" fill="#F2C53A"/>
<circle cx="1371.15" cy="425.30" r="1.45" fill="#F2C53A"/>
<circle cx="1396.66" cy="429.68" r="1.45" fill="#F2C53A"/>
<circle cx="1382.08" cy="432.86" r="1.45" fill="#F2C53A"/>
<circle cx="1366.21" cy="421.87" r="1.45" fill="#F2C53A"/>
<circle cx="1376.34" cy="424.22" r="1.45" fill="#F2C53A"/>
<circle cx="1374.93" cy="427.01" r="1.45" fill="#F2C53A"/>
<circle cx="1369.82" cy="421.93" r="1.45" fill="#F2C53A"/>
<circle cx="1375.96" cy="433.86" r="1.45" fill="#F2C53A"/>
<circle cx="1388.80" cy="448.11" r="1.45" fill="#F2C53A"/>
<circle cx="1386.47" cy="454.86" r="1.45" fill="#F2C53A"/>
<circle cx="1377.26" cy="445.19" r="1.45" fill="#F2C53A"/>
<circle cx="1384.49" cy="444.29" r="1.45" fill="#F2C53A"/>
<circle cx="1383.18" cy="451.11" r="1.45" fill="#F2C53A"/>
<circle cx="1379.78" cy="450.32" r="1.45" fill="#F2C53A"/>
<circle cx="1381.22" cy="451.09" r="1.45" fill="#F2C53A"/>
<circle cx="1382.31" cy="452.27" r="1.45" fill="#F2C53A"/>
<circle cx="1377.61" cy="452.74" r="1.45" fill="#F2C53A"/>
<circle cx="1379.32" cy="457.35" r="1.45" fill="#F2C53A"/>
<circle cx="1386.60" cy="449.52" r="1.45" fill="#F2C53A"/>
<circle cx="1383.58" cy="451.98" r="1.45" fill="#F2C53A"/>
<circle cx="1388.03" cy="454.13" r="1.45" fill="#F2C53A"/>
<circle cx="1389.03" cy="449.77" r="1.45" fill="#F2C53A"/>
<circle cx="1392.91" cy="455.41" r="1.45" fill="#F2C53A"/>
<circle cx="1386.66" cy="469.52" r="1.45" fill="#F2C53A"/>
<circle cx="1370.36" cy="480.17" r="1.45" fill="#F2C53A"/>
<circle cx="1390.10" cy="470.52" r="1.45" fill="#F2C53A"/>
<circle cx="1371.54" cy="474.67" r="1.45" fill="#F2C53A"/>
<circle cx="1387.53" cy="472.02" r="1.45" fill="#F2C53A"/>
<circle cx="1394.63" cy="480.33" r="1.45" fill="#F2C53A"/>
<circle cx="1392.82" cy="468.38" r="1.45" fill="#F2C53A"/>
<circle cx="1368.71" cy="468.32" r="1.45" fill="#F2C53A"/>
<circle cx="1376.93" cy="486.10" r="1.45" fill="#F2C53A"/>
<circle cx="1385.20" cy="477.75" r="1.45" fill="#F2C53A"/>
<circle cx="1370.95" cy="479.09" r="1.45" fill="#F2C53A"/>
<circle cx="1378.66" cy="477.58" r="1.45" fill="#F2C53A"/>
<circle cx="1377.27" cy="466.80" r="1.45" fill="#F2C53A"/>
<circle cx="1381.52" cy="482.83" r="1.45" fill="#F2C53A"/>
<circle cx="1375.77" cy="479.58" r="1.45" fill="#F2C53A"/>
<circle cx="1399.01" cy="483.34" r="1.45" fill="#F2C53A"/>
<circle cx="1394.03" cy="473.52" r="1.45" fill="#F2C53A"/>
<circle cx="1387.29" cy="469.77" r="1.45" fill="#F2C53A"/>
<circle cx="1383.17" cy="470.67" r="1.45" fill="#F2C53A"/>
<circle cx="1380.75" cy="465.65" r="1.45" fill="#F2C53A"/>
<circle cx="1384.37" cy="473.92" r="1.45" fill="#F2C53A"/>
<circle cx="1382.22" cy="472.03" r="1.45" fill="#F2C53A"/>
<circle cx="1359.51" cy="471.40" r="1.45" fill="#F2C53A"/>
<circle cx="1387.73" cy="476.02" r="1.45" fill="#F2C53A"/>
<circle cx="1378.57" cy="482.75" r="1.45" fill="#F2C53A"/>
<circle cx="1398.65" cy="482.51" r="1.45" fill="#F2C53A"/>
<circle cx="1384.62" cy="468.62" r="1.45" fill="#F2C53A"/>
<circle cx="1373.59" cy="484.33" r="1.45" fill="#F2C53A"/>
<circle cx="1383.17" cy="476.57" r="1.45" fill="#F2C53A"/>
<circle cx="1387.20" cy="471.91" r="1.45" fill="#F2C53A"/>
<circle cx="1360.02" cy="476.19" r="1.45" fill="#F2C53A"/>
<circle cx="1391.08" cy="474.71" r="1.45" fill="#F2C53A"/>
<circle cx="1383.03" cy="482.45" r="1.45" fill="#F2C53A"/>
<circle cx="1397.96" cy="468.04" r="1.45" fill="#F2C53A"/>
<circle cx="1386.76" cy="490.38" r="1.45" fill="#F2C53A"/>
<circle cx="1374.80" cy="483.18" r="1.45" fill="#F2C53A"/>
<circle cx="1389.73" cy="490.52" r="1.45" fill="#F2C53A"/>
<circle cx="1387.04" cy="475.84" r="1.45" fill="#F2C53A"/>
<circle cx="1377.05" cy="472.14" r="1.45" fill="#F2C53A"/>
<circle cx="1383.10" cy="474.25" r="1.45" fill="#F2C53A"/>
<circle cx="1392.38" cy="483.96" r="1.45" fill="#F2C53A"/>
<circle cx="1373.55" cy="491.85" r="1.45" fill="#F2C53A"/>
<circle cx="1390.71" cy="466.76" r="1.45" fill="#F2C53A"/>
<circle cx="1390.19" cy="485.25" r="1.45" fill="#F2C53A"/>
<circle cx="1390.03" cy="472.69" r="1.45" fill="#F2C53A"/>
<circle cx="1386.63" cy="478.71" r="1.45" fill="#F2C53A"/>
<circle cx="1376.02" cy="487.79" r="1.45" fill="#F2C53A"/>
<circle cx="1382.88" cy="480.77" r="1.45" fill="#F2C53A"/>
<circle cx="1382.21" cy="487.78" r="1.45" fill="#F2C53A"/>
<circle cx="1383.19" cy="468.53" r="1.45" fill="#F2C53A"/>
<circle cx="1371.18" cy="461.86" r="1.45" fill="#F2C53A"/>
<circle cx="1375.52" cy="472.91" r="1.45" fill="#F2C53A"/>
<circle cx="1374.53" cy="493.36" r="1.45" fill="#F2C53A"/>
<circle cx="1377.39" cy="470.41" r="1.45" fill="#F2C53A"/>
<circle cx="1378.51" cy="473.32" r="1.45" fill="#F2C53A"/>
<circle cx="1390.64" cy="475.08" r="1.45" fill="#F2C53A"/>
<circle cx="1370.10" cy="474.26" r="1.45" fill="#F2C53A"/>
<circle cx="1392.69" cy="479.04" r="1.45" fill="#F2C53A"/>
<circle cx="1379.53" cy="481.94" r="1.45" fill="#F2C53A"/>
<circle cx="1382.26" cy="472.77" r="1.45" fill="#F2C53A"/>
<circle cx="1377.69" cy="489.10" r="1.45" fill="#F2C53A"/>
<circle cx="1381.19" cy="482.47" r="1.45" fill="#F2C53A"/>
<circle cx="1375.48" cy="474.47" r="1.45" fill="#F2C53A"/>
<circle cx="1402.31" cy="461.69" r="1.45" fill="#F2C53A"/>
<circle cx="1390.79" cy="477.87" r="1.45" fill="#F2C53A"/>
<circle cx="1381.03" cy="468.12" r="1.45" fill="#F2C53A"/>
<circle cx="1390.57" cy="471.95" r="1.45" fill="#F2C53A"/>
<circle cx="1385.89" cy="485.22" r="1.45" fill="#F2C53A"/>
<circle cx="1375.79" cy="470.03" r="1.45" fill="#F2C53A"/>
<circle cx="1372.43" cy="464.28" r="1.45" fill="#F2C53A"/>
<circle cx="1370.38" cy="475.00" r="1.45" fill="#F2C53A"/>
<circle cx="1388.71" cy="465.97" r="1.45" fill="#F2C53A"/>
<circle cx="1359.04" cy="473.47" r="1.45" fill="#F2C53A"/>
<circle cx="1388.20" cy="488.35" r="1.45" fill="#F2C53A"/>
<circle cx="1387.26" cy="485.43" r="1.45" fill="#F2C53A"/>
<circle cx="1381.89" cy="484.58" r="1.45" fill="#F2C53A"/>
<circle cx="1383.28" cy="462.09" r="1.45" fill="#F2C53A"/>
<circle cx="1382.69" cy="470.33" r="1.45" fill="#F2C53A"/>
<circle cx="1374.65" cy="476.39" r="1.45" fill="#F2C53A"/>
<circle cx="1371.73" cy="471.46" r="1.45" fill="#F2C53A"/>
<circle cx="1392.83" cy="478.37" r="1.45" fill="#F2C53A"/>
<circle cx="1378.42" cy="465.82" r="1.45" fill="#F2C53A"/>
<circle cx="1384.96" cy="472.39" r="1.45" fill="#F2C53A"/>
<circle cx="1381.99" cy="477.24" r="1.45" fill="#F2C53A"/>
<circle cx="1371.39" cy="476.21" r="1.45" fill="#F2C53A"/>
<circle cx="1374.44" cy="478.24" r="1.45" fill="#F2C53A"/>
<circle cx="1382.05" cy="473.04" r="1.45" fill="#F2C53A"/>
<circle cx="1390.75" cy="470.29" r="1.45" fill="#F2C53A"/>
<circle cx="1365.65" cy="472.20" r="1.45" fill="#F2C53A"/>
<circle cx="1381.38" cy="480.49" r="1.45" fill="#F2C53A"/>
<circle cx="1380.01" cy="478.18" r="1.45" fill="#F2C53A"/>
<circle cx="1376.07" cy="486.25" r="1.45" fill="#F2C53A"/>
<circle cx="1374.03" cy="475.00" r="1.45" fill="#F2C53A"/>
<circle cx="1377.71" cy="474.18" r="1.45" fill="#F2C53A"/>
<circle cx="1383.37" cy="471.57" r="1.45" fill="#F2C53A"/>
<circle cx="1371.96" cy="490.76" r="1.45" fill="#F2C53A"/>
<circle cx="1358.58" cy="490.12" r="1.45" fill="#F2C53A"/>
<circle cx="1365.64" cy="489.78" r="1.45" fill="#F2C53A"/>
<circle cx="1358.39" cy="492.58" r="1.45" fill="#F2C53A"/>
<circle cx="1361.17" cy="490.45" r="1.45" fill="#F2C53A"/>
<circle cx="1365.87" cy="488.03" r="1.45" fill="#F2C53A"/>
<circle cx="1371.25" cy="486.56" r="1.45" fill="#F2C53A"/>
<circle cx="1366.36" cy="490.87" r="1.45" fill="#F2C53A"/>
<circle cx="1381.61" cy="488.24" r="1.45" fill="#F2C53A"/>
<circle cx="1359.55" cy="488.78" r="1.45" fill="#F2C53A"/>
<circle cx="1368.17" cy="486.92" r="1.45" fill="#F2C53A"/>
<circle cx="1367.94" cy="487.79" r="1.45" fill="#F2C53A"/>
<circle cx="1371.67" cy="487.62" r="1.45" fill="#F2C53A"/>
<circle cx="1371.24" cy="488.31" r="1.45" fill="#F2C53A"/>
<circle cx="1371.70" cy="489.56" r="1.45" fill="#F2C53A"/>
<circle cx="1353.32" cy="488.37" r="1.45" fill="#F2C53A"/>
<circle cx="1361.99" cy="491.77" r="1.45" fill="#F2C53A"/>
<circle cx="1367.72" cy="486.58" r="1.45" fill="#F2C53A"/>
<circle cx="1369.33" cy="490.97" r="1.45" fill="#F2C53A"/>
<circle cx="1372.22" cy="488.65" r="1.45" fill="#F2C53A"/>
<circle cx="1334.91" cy="498.75" r="1.45" fill="#2EAB57"/>
<circle cx="1311.14" cy="496.44" r="1.45" fill="#2EAB57"/>
<circle cx="1346.48" cy="494.49" r="1.45" fill="#2EAB57"/>
<circle cx="1324.97" cy="499.74" r="1.45" fill="#2EAB57"/>
<circle cx="1356.01" cy="493.94" r="1.45" fill="#2EAB57"/>
<circle cx="1342.62" cy="493.71" r="1.45" fill="#2EAB57"/>
<circle cx="1343.52" cy="495.52" r="1.45" fill="#2EAB57"/>
<circle cx="1313.02" cy="503.72" r="1.45" fill="#2EAB57"/>
<circle cx="1325.31" cy="498.23" r="1.45" fill="#2EAB57"/>
<circle cx="1341.37" cy="495.59" r="1.45" fill="#2EAB57"/>
<circle cx="1316.10" cy="503.76" r="1.45" fill="#2EAB57"/>
<circle cx="1336.02" cy="497.52" r="1.45" fill="#2EAB57"/>
<circle cx="1347.14" cy="494.51" r="1.45" fill="#2EAB57"/>
<circle cx="1332.52" cy="497.79" r="1.45" fill="#2EAB57"/>
<circle cx="1336.47" cy="495.45" r="1.45" fill="#2EAB57"/>
<circle cx="1325.35" cy="502.37" r="1.45" fill="#2EAB57"/>
<circle cx="1328.37" cy="499.35" r="1.45" fill="#2EAB57"/>
<circle cx="1343.35" cy="492.04" r="1.45" fill="#2EAB57"/>
<circle cx="1340.57" cy="494.14" r="1.45" fill="#2EAB57"/>
<circle cx="1342.46" cy="496.07" r="1.45" fill="#2EAB57"/>
<circle cx="1357.74" cy="492.91" r="1.45" fill="#2EAB57"/>
<circle cx="1334.12" cy="490.74" r="1.45" fill="#2EAB57"/>
<circle cx="1340.50" cy="489.76" r="1.45" fill="#2EAB57"/>
<circle cx="1345.32" cy="490.51" r="1.45" fill="#2EAB57"/>
<circle cx="1316.17" cy="499.25" r="1.45" fill="#2EAB57"/>
<circle cx="1331.03" cy="499.11" r="1.45" fill="#2EAB57"/>
<circle cx="1341.41" cy="496.44" r="1.45" fill="#2EAB57"/>
<circle cx="1339.86" cy="494.99" r="1.45" fill="#2EAB57"/>
<circle cx="1346.86" cy="495.06" r="1.45" fill="#2EAB57"/>
<circle cx="1347.89" cy="491.91" r="1.45" fill="#2EAB57"/>
<circle cx="1350.57" cy="495.03" r="1.45" fill="#2EAB57"/>
<circle cx="1346.14" cy="491.43" r="1.45" fill="#2EAB57"/>
<circle cx="1332.05" cy="496.47" r="1.45" fill="#2EAB57"/>
<circle cx="1338.58" cy="496.20" r="1.45" fill="#2EAB57"/>
<circle cx="1341.37" cy="496.62" r="1.45" fill="#2EAB57"/>
<circle cx="1328.63" cy="497.70" r="1.45" fill="#2EAB57"/>
<circle cx="1347.39" cy="494.62" r="1.45" fill="#2EAB57"/>
<circle cx="1315.87" cy="499.24" r="1.45" fill="#2EAB57"/>
<circle cx="1328.37" cy="500.60" r="1.45" fill="#2EAB57"/>
<circle cx="1331.82" cy="496.87" r="1.45" fill="#2EAB57"/>
<circle cx="1335.24" cy="495.66" r="1.45" fill="#2EAB57"/>
<circle cx="1327.16" cy="495.88" r="1.45" fill="#2EAB57"/>
<circle cx="1337.36" cy="500.38" r="1.45" fill="#2EAB57"/>
<circle cx="1314.13" cy="503.62" r="1.45" fill="#2EAB57"/>
<circle cx="1356.31" cy="494.58" r="1.45" fill="#2EAB57"/>
<circle cx="1338.34" cy="500.06" r="1.45" fill="#2EAB57"/>
<circle cx="1350.19" cy="495.03" r="1.45" fill="#2EAB57"/>
<circle cx="1326.76" cy="498.23" r="1.45" fill="#2EAB57"/>
<circle cx="1331.16" cy="498.04" r="1.45" fill="#2EAB57"/>
<circle cx="1332.93" cy="493.89" r="1.45" fill="#2EAB57"/>
<circle cx="1324.78" cy="495.86" r="1.45" fill="#2EAB57"/>
<circle cx="1313.18" cy="502.72" r="1.45" fill="#2EAB57"/>
<circle cx="1316.35" cy="503.63" r="1.45" fill="#2EAB57"/>
<circle cx="1323.60" cy="492.32" r="1.45" fill="#2EAB57"/>
<circle cx="1322.43" cy="502.36" r="1.45" fill="#2EAB57"/>
<circle cx="1352.72" cy="500.08" r="1.45" fill="#2EAB57"/>
<circle cx="1354.27" cy="494.67" r="1.45" fill="#2EAB57"/>
<circle cx="1354.24" cy="498.04" r="1.45" fill="#2EAB57"/>
<circle cx="1353.14" cy="495.11" r="1.45" fill="#2EAB57"/>
<circle cx="1354.91" cy="493.53" r="1.45" fill="#2EAB57"/>
<circle cx="1356.37" cy="506.11" r="1.45" fill="#2EAB57"/>
<circle cx="1353.59" cy="506.04" r="1.45" fill="#2EAB57"/>
<circle cx="1355.32" cy="507.11" r="1.45" fill="#2EAB57"/>
<circle cx="1350.69" cy="496.40" r="1.45" fill="#2EAB57"/>
<circle cx="1354.07" cy="497.57" r="1.45" fill="#2EAB57"/>
<circle cx="1353.88" cy="506.48" r="1.45" fill="#2EAB57"/>
<circle cx="1356.83" cy="502.53" r="1.45" fill="#2EAB57"/>
<circle cx="1351.82" cy="503.71" r="1.45" fill="#2EAB57"/>
<circle cx="1356.37" cy="500.07" r="1.45" fill="#2EAB57"/>
<circle cx="1352.00" cy="496.33" r="1.45" fill="#2EAB57"/>
<circle cx="1308.58" cy="506.92" r="1.45" fill="#2EAB57"/>
<circle cx="1308.71" cy="508.90" r="1.45" fill="#2EAB57"/>
<circle cx="1309.13" cy="502.12" r="1.45" fill="#2EAB57"/>
<circle cx="1294.81" cy="516.69" r="1.45" fill="#2EAB57"/>
<circle cx="1297.75" cy="519.26" r="1.45" fill="#2EAB57"/>
<circle cx="1313.01" cy="505.42" r="1.45" fill="#2EAB57"/>
<circle cx="1299.89" cy="513.91" r="1.45" fill="#2EAB57"/>
<circle cx="1310.10" cy="508.57" r="1.45" fill="#2EAB57"/>
<circle cx="1301.53" cy="512.09" r="1.45" fill="#2EAB57"/>
<circle cx="1298.29" cy="512.93" r="1.45" fill="#2EAB57"/>
<circle cx="1301.39" cy="505.43" r="1.45" fill="#2EAB57"/>
<circle cx="1289.84" cy="520.67" r="1.45" fill="#2EAB57"/>
<circle cx="1302.61" cy="509.58" r="1.45" fill="#2EAB57"/>
<circle cx="1314.96" cy="509.98" r="1.45" fill="#2EAB57"/>
<circle cx="1306.46" cy="506.88" r="1.45" fill="#2EAB57"/>
<circle cx="1310.37" cy="508.32" r="1.45" fill="#2EAB57"/>
<circle cx="1308.43" cy="503.45" r="1.45" fill="#2EAB57"/>
<circle cx="1305.60" cy="506.73" r="1.45" fill="#2EAB57"/>
<circle cx="1308.85" cy="507.24" r="1.45" fill="#2EAB57"/>
<circle cx="1294.71" cy="517.52" r="1.45" fill="#2EAB57"/>
<circle cx="1299.13" cy="506.80" r="1.45" fill="#2EAB57"/>
<circle cx="1311.28" cy="503.48" r="1.45" fill="#2EAB57"/>
<circle cx="1305.76" cy="506.40" r="1.45" fill="#2EAB57"/>
<circle cx="1307.68" cy="502.49" r="1.45" fill="#2EAB57"/>
<circle cx="1299.34" cy="519.34" r="1.45" fill="#2EAB57"/>
<circle cx="1298.95" cy="515.85" r="1.45" fill="#2EAB57"/>
<circle cx="1296.03" cy="513.66" r="1.45" fill="#2EAB57"/>
<circle cx="1313.20" cy="504.72" r="1.45" fill="#2EAB57"/>
<circle cx="1308.33" cy="508.01" r="1.45" fill="#2EAB57"/>
<circle cx="1306.37" cy="507.61" r="1.45" fill="#2EAB57"/>
<circle cx="1309.23" cy="506.04" r="1.45" fill="#2EAB57"/>
<circle cx="1304.42" cy="505.96" r="1.45" fill="#2EAB57"/>
<circle cx="1293.93" cy="517.23" r="1.45" fill="#2EAB57"/>
<circle cx="1297.42" cy="506.71" r="1.45" fill="#2EAB57"/>
<circle cx="1313.88" cy="503.58" r="1.45" fill="#2EAB57"/>
<circle cx="1293.53" cy="534.62" r="1.45" fill="#2EAB57"/>
<circle cx="1296.29" cy="538.30" r="1.45" fill="#2EAB57"/>
<circle cx="1290.55" cy="537.00" r="1.45" fill="#2EAB57"/>
<circle cx="1289.86" cy="542.72" r="1.45" fill="#2EAB57"/>
<circle cx="1287.95" cy="529.87" r="1.45" fill="#2EAB57"/>
<circle cx="1288.42" cy="545.43" r="1.45" fill="#2EAB57"/>
<circle cx="1291.55" cy="542.85" r="1.45" fill="#2EAB57"/>
<circle cx="1300.10" cy="536.03" r="1.45" fill="#2EAB57"/>
<circle cx="1300.25" cy="542.02" r="1.45" fill="#2EAB57"/>
<circle cx="1294.75" cy="534.87" r="1.45" fill="#2EAB57"/>
<circle cx="1294.62" cy="531.46" r="1.45" fill="#2EAB57"/>
<circle cx="1293.14" cy="535.61" r="1.45" fill="#2EAB57"/>
<circle cx="1298.06" cy="541.06" r="1.45" fill="#2EAB57"/>
<circle cx="1290.62" cy="544.14" r="1.45" fill="#2EAB57"/>
<circle cx="1303.26" cy="539.42" r="1.45" fill="#2EAB57"/>
<circle cx="1289.94" cy="542.02" r="1.45" fill="#2EAB57"/>
<circle cx="1278.20" cy="535.58" r="1.45" fill="#2EAB57"/>
<circle cx="1299.05" cy="550.87" r="1.45" fill="#2EAB57"/>
<circle cx="1289.95" cy="548.07" r="1.45" fill="#2EAB57"/>
<circle cx="1311.10" cy="550.18" r="1.45" fill="#2EAB57"/>
<circle cx="1278.75" cy="545.54" r="1.45" fill="#2EAB57"/>
<circle cx="1296.36" cy="545.03" r="1.45" fill="#2EAB57"/>
<circle cx="1293.81" cy="535.39" r="1.45" fill="#2EAB57"/>
<circle cx="1293.46" cy="547.93" r="1.45" fill="#2EAB57"/>
<circle cx="1300.84" cy="537.29" r="1.45" fill="#2EAB57"/>
<circle cx="1297.67" cy="544.15" r="1.45" fill="#2EAB57"/>
<circle cx="1298.96" cy="538.78" r="1.45" fill="#2EAB57"/>
<circle cx="1290.48" cy="534.62" r="1.45" fill="#2EAB57"/>
<circle cx="1292.01" cy="535.74" r="1.45" fill="#2EAB57"/>
<circle cx="1284.10" cy="530.63" r="1.45" fill="#2EAB57"/>
<circle cx="1301.10" cy="532.37" r="1.45" fill="#2EAB57"/>
<circle cx="1285.94" cy="538.76" r="1.45" fill="#2EAB57"/>
<circle cx="1305.06" cy="546.52" r="1.45" fill="#2EAB57"/>
<circle cx="1292.16" cy="532.87" r="1.45" fill="#2EAB57"/>
<circle cx="1291.30" cy="533.61" r="1.45" fill="#2EAB57"/>
<circle cx="1291.21" cy="541.88" r="1.45" fill="#2EAB57"/>
<circle cx="1287.64" cy="534.37" r="1.45" fill="#2EAB57"/>
<circle cx="1293.22" cy="538.85" r="1.45" fill="#2EAB57"/>
<circle cx="1289.69" cy="534.32" r="1.45" fill="#2EAB57"/>
<circle cx="1287.17" cy="534.54" r="1.45" fill="#2EAB57"/>
<circle cx="1298.65" cy="537.56" r="1.45" fill="#2EAB57"/>
<circle cx="1273.41" cy="542.69" r="1.45" fill="#2EAB57"/>
<circle cx="1294.54" cy="533.82" r="1.45" fill="#2EAB57"/>
<circle cx="1293.24" cy="520.97" r="1.45" fill="#2EAB57"/>
<circle cx="1283.51" cy="545.96" r="1.45" fill="#2EAB57"/>
<circle cx="1309.87" cy="552.02" r="1.45" fill="#2EAB57"/>
<circle cx="1289.90" cy="539.25" r="1.45" fill="#2EAB57"/>
<circle cx="1300.44" cy="531.67" r="1.45" fill="#2EAB57"/>
<circle cx="1307.17" cy="534.70" r="1.45" fill="#2EAB57"/>
<circle cx="1297.47" cy="532.14" r="1.45" fill="#2EAB57"/>
<circle cx="1297.56" cy="538.91" r="1.45" fill="#2EAB57"/>
<circle cx="1302.56" cy="532.11" r="1.45" fill="#2EAB57"/>
<circle cx="1294.94" cy="549.89" r="1.45" fill="#2EAB57"/>
<circle cx="1286.68" cy="541.12" r="1.45" fill="#2EAB57"/>
<circle cx="1298.07" cy="536.04" r="1.45" fill="#2EAB57"/>
<circle cx="1293.14" cy="547.47" r="1.45" fill="#2EAB57"/>
<circle cx="1302.97" cy="542.40" r="1.45" fill="#2EAB57"/>
<circle cx="1296.88" cy="532.22" r="1.45" fill="#2EAB57"/>
<circle cx="1295.65" cy="549.75" r="1.45" fill="#2EAB57"/>
<circle cx="1302.37" cy="530.86" r="1.45" fill="#2EAB57"/>
<circle cx="1280.51" cy="535.03" r="1.45" fill="#2EAB57"/>
<circle cx="1296.16" cy="535.70" r="1.45" fill="#2EAB57"/>
<circle cx="1292.86" cy="541.06" r="1.45" fill="#2EAB57"/>
<circle cx="1301.28" cy="540.27" r="1.45" fill="#2EAB57"/>
<circle cx="1303.76" cy="530.47" r="1.45" fill="#2EAB57"/>
<circle cx="1298.28" cy="541.56" r="1.45" fill="#2EAB57"/>
<circle cx="1284.58" cy="546.52" r="1.45" fill="#2EAB57"/>
<circle cx="1283.82" cy="530.33" r="1.45" fill="#2EAB57"/>
<circle cx="1313.71" cy="546.78" r="1.45" fill="#2EAB57"/>
<circle cx="1297.65" cy="547.14" r="1.45" fill="#2EAB57"/>
<circle cx="1354.36" cy="541.22" r="1.45" fill="#2EAB57"/>
<circle cx="1348.37" cy="556.43" r="1.45" fill="#2EAB57"/>
<circle cx="1342.56" cy="548.45" r="1.45" fill="#2EAB57"/>
<circle cx="1339.82" cy="552.42" r="1.45" fill="#2EAB57"/>
<circle cx="1339.01" cy="544.47" r="1.45" fill="#2EAB57"/>
<circle cx="1332.94" cy="542.42" r="1.45" fill="#2EAB57"/>
<circle cx="1345.99" cy="550.85" r="1.45" fill="#2EAB57"/>
<circle cx="1340.51" cy="541.69" r="1.45" fill="#2EAB57"/>
<circle cx="1347.08" cy="550.16" r="1.45" fill="#2EAB57"/>
<circle cx="1355.51" cy="545.02" r="1.45" fill="#2EAB57"/>
<circle cx="1340.28" cy="551.09" r="1.45" fill="#2EAB57"/>
<circle cx="1357.80" cy="547.70" r="1.45" fill="#2EAB57"/>
<circle cx="1343.27" cy="542.35" r="1.45" fill="#2EAB57"/>
<circle cx="1340.59" cy="553.71" r="1.45" fill="#2EAB57"/>
<circle cx="1351.71" cy="554.74" r="1.45" fill="#2EAB57"/>
<circle cx="1329.16" cy="553.06" r="1.45" fill="#2EAB57"/>
<circle cx="1335.64" cy="551.59" r="1.45" fill="#2EAB57"/>
<circle cx="1322.56" cy="547.42" r="1.45" fill="#2EAB57"/>
<circle cx="1336.01" cy="555.69" r="1.45" fill="#2EAB57"/>
<circle cx="1345.11" cy="555.86" r="1.45" fill="#2EAB57"/>
<circle cx="1340.03" cy="559.89" r="1.45" fill="#2EAB57"/>
<circle cx="1339.98" cy="559.47" r="1.45" fill="#2EAB57"/>
<circle cx="1339.59" cy="542.08" r="1.45" fill="#2EAB57"/>
<circle cx="1352.15" cy="545.60" r="1.45" fill="#2EAB57"/>
<circle cx="1343.49" cy="539.87" r="1.45" fill="#2EAB57"/>
<circle cx="1340.89" cy="548.70" r="1.45" fill="#2EAB57"/>
<circle cx="1337.61" cy="550.37" r="1.45" fill="#2EAB57"/>
<circle cx="1323.15" cy="553.41" r="1.45" fill="#2EAB57"/>
<circle cx="1340.30" cy="556.91" r="1.45" fill="#2EAB57"/>
<circle cx="1340.83" cy="544.03" r="1.45" fill="#2EAB57"/>
<circle cx="1339.93" cy="549.69" r="1.45" fill="#2EAB57"/>
<circle cx="1349.42" cy="545.21" r="1.45" fill="#2EAB57"/>
<circle cx="1336.77" cy="550.62" r="1.45" fill="#2EAB57"/>
<circle cx="1351.52" cy="537.44" r="1.45" fill="#2EAB57"/>
<circle cx="1334.48" cy="543.93" r="1.45" fill="#2EAB57"/>
<circle cx="1359.55" cy="555.47" r="1.45" fill="#2EAB57"/>
<circle cx="1351.27" cy="551.01" r="1.45" fill="#2EAB57"/>
<circle cx="1333.83" cy="554.82" r="1.45" fill="#2EAB57"/>
<circle cx="1339.98" cy="543.19" r="1.45" fill="#2EAB57"/>
<circle cx="1361.63" cy="539.22" r="1.45" fill="#2EAB57"/>
<circle cx="1356.61" cy="549.24" r="1.45" fill="#2EAB57"/>
<circle cx="1335.63" cy="549.09" r="1.45" fill="#2EAB57"/>
<circle cx="1336.35" cy="549.15" r="1.45" fill="#2EAB57"/>
<circle cx="1338.14" cy="540.81" r="1.45" fill="#2EAB57"/>
<circle cx="1368.22" cy="544.96" r="1.45" fill="#2EAB57"/>
<circle cx="1353.02" cy="547.72" r="1.45" fill="#2EAB57"/>
<circle cx="1350.19" cy="540.35" r="1.45" fill="#2EAB57"/>
<circle cx="1334.53" cy="528.12" r="1.45" fill="#2EAB57"/>
<circle cx="1353.16" cy="550.71" r="1.45" fill="#2EAB57"/>
<circle cx="1333.30" cy="553.09" r="1.45" fill="#2EAB57"/>
<circle cx="1349.43" cy="565.80" r="1.45" fill="#2EAB57"/>
<circle cx="1346.18" cy="553.58" r="1.45" fill="#2EAB57"/>
<circle cx="1349.62" cy="552.70" r="1.45" fill="#2EAB57"/>
<circle cx="1343.81" cy="545.50" r="1.45" fill="#2EAB57"/>
<circle cx="1350.50" cy="555.52" r="1.45" fill="#2EAB57"/>
<circle cx="1333.39" cy="541.10" r="1.45" fill="#2EAB57"/>
<circle cx="1343.65" cy="558.95" r="1.45" fill="#2EAB57"/>
<circle cx="1342.13" cy="537.70" r="1.45" fill="#2EAB57"/>
<circle cx="1351.39" cy="552.61" r="1.45" fill="#2EAB57"/>
<circle cx="1361.75" cy="549.18" r="1.45" fill="#2EAB57"/>
<circle cx="1361.99" cy="543.64" r="1.45" fill="#2EAB57"/>
<circle cx="1352.27" cy="548.84" r="1.45" fill="#2EAB57"/>
<circle cx="1333.16" cy="546.34" r="1.45" fill="#2EAB57"/>
<circle cx="1356.16" cy="554.81" r="1.45" fill="#2EAB57"/>
<circle cx="1340.59" cy="554.77" r="1.45" fill="#2EAB57"/>
<circle cx="1352.27" cy="553.48" r="1.45" fill="#2EAB57"/>
<circle cx="1346.66" cy="549.88" r="1.45" fill="#2EAB57"/>
<circle cx="1336.51" cy="547.62" r="1.45" fill="#2EAB57"/>
<circle cx="1345.16" cy="543.55" r="1.45" fill="#2EAB57"/>
<circle cx="1341.42" cy="549.03" r="1.45" fill="#2EAB57"/>
<circle cx="1345.99" cy="554.44" r="1.45" fill="#2EAB57"/>
<circle cx="1334.68" cy="545.62" r="1.45" fill="#2EAB57"/>
<circle cx="1346.50" cy="545.73" r="1.45" fill="#2EAB57"/>
<circle cx="1347.07" cy="545.19" r="1.45" fill="#2EAB57"/>
<circle cx="1354.79" cy="546.64" r="1.45" fill="#2EAB57"/>
<circle cx="1333.69" cy="552.58" r="1.45" fill="#2EAB57"/>
<circle cx="1359.21" cy="536.33" r="1.45" fill="#2EAB57"/>
<circle cx="1342.87" cy="548.46" r="1.45" fill="#2EAB57"/>
<circle cx="1353.45" cy="557.12" r="1.45" fill="#2EAB57"/>
<circle cx="1342.61" cy="538.57" r="1.45" fill="#2EAB57"/>
<circle cx="1350.14" cy="554.15" r="1.45" fill="#2EAB57"/>
<circle cx="1348.28" cy="548.52" r="1.45" fill="#2EAB57"/>
<circle cx="1336.66" cy="562.83" r="1.45" fill="#2EAB57"/>
<circle cx="1333.13" cy="538.89" r="1.45" fill="#2EAB57"/>
<circle cx="1352.95" cy="549.78" r="1.45" fill="#2EAB57"/>
<circle cx="1350.17" cy="550.20" r="1.45" fill="#2EAB57"/>
<circle cx="1359.40" cy="556.68" r="1.45" fill="#2EAB57"/>
<circle cx="1339.05" cy="554.12" r="1.45" fill="#2EAB57"/>
<circle cx="1333.35" cy="537.69" r="1.45" fill="#2EAB57"/>
<circle cx="1355.01" cy="545.43" r="1.45" fill="#2EAB57"/>
<circle cx="1324.52" cy="547.92" r="1.45" fill="#2EAB57"/>
<circle cx="1338.02" cy="551.12" r="1.45" fill="#2EAB57"/>
<circle cx="1343.53" cy="543.37" r="1.45" fill="#2EAB57"/>
<circle cx="1337.57" cy="552.69" r="1.45" fill="#2EAB57"/>
<circle cx="1335.61" cy="548.82" r="1.45" fill="#2EAB57"/>
<circle cx="1335.07" cy="550.78" r="1.45" fill="#2EAB57"/>
<circle cx="1360.28" cy="551.49" r="1.45" fill="#2EAB57"/>
<circle cx="1354.21" cy="550.78" r="1.45" fill="#2EAB57"/>
<circle cx="1335.31" cy="546.22" r="1.45" fill="#2EAB57"/>
<circle cx="1344.70" cy="550.70" r="1.45" fill="#2EAB57"/>
<circle cx="1312.36" cy="534.43" r="1.45" fill="#2EAB57"/>
<circle cx="1317.30" cy="531.91" r="1.45" fill="#2EAB57"/>
<circle cx="1328.98" cy="539.62" r="1.45" fill="#2EAB57"/>
<circle cx="1296.39" cy="537.20" r="1.45" fill="#2EAB57"/>
<circle cx="1338.52" cy="525.21" r="1.45" fill="#2EAB57"/>
<circle cx="1322.11" cy="553.82" r="1.45" fill="#2EAB57"/>
<circle cx="1312.09" cy="542.94" r="1.45" fill="#2EAB57"/>
<circle cx="1312.23" cy="534.04" r="1.45" fill="#2EAB57"/>
<circle cx="1322.80" cy="542.68" r="1.45" fill="#2EAB57"/>
<circle cx="1309.87" cy="539.93" r="1.45" fill="#2EAB57"/>
<circle cx="1318.71" cy="547.61" r="1.45" fill="#2EAB57"/>
<circle cx="1298.33" cy="527.78" r="1.45" fill="#2EAB57"/>
<circle cx="1307.09" cy="533.10" r="1.45" fill="#2EAB57"/>
<circle cx="1331.01" cy="537.77" r="1.45" fill="#2EAB57"/>
<circle cx="1333.84" cy="537.07" r="1.45" fill="#2EAB57"/>
<circle cx="1308.57" cy="545.40" r="1.45" fill="#2EAB57"/>
<circle cx="1299.76" cy="554.52" r="1.45" fill="#2EAB57"/>
<circle cx="1332.59" cy="534.85" r="1.45" fill="#2EAB57"/>
<circle cx="1309.96" cy="549.58" r="1.45" fill="#2EAB57"/>
<circle cx="1330.69" cy="544.27" r="1.45" fill="#2EAB57"/>
<circle cx="1298.50" cy="547.91" r="1.45" fill="#2EAB57"/>
<circle cx="1298.11" cy="543.74" r="1.45" fill="#2EAB57"/>
<circle cx="1320.29" cy="552.82" r="1.45" fill="#2EAB57"/>
<circle cx="1324.10" cy="525.67" r="1.45" fill="#2EAB57"/>
<circle cx="1337.11" cy="547.58" r="1.45" fill="#2EAB57"/>
<circle cx="1321.51" cy="525.17" r="1.45" fill="#2EAB57"/>
<circle cx="1328.42" cy="537.55" r="1.45" fill="#2EAB57"/>
<circle cx="1325.90" cy="554.51" r="1.45" fill="#2EAB57"/>
<circle cx="1336.34" cy="527.25" r="1.45" fill="#2EAB57"/>
<circle cx="1330.38" cy="538.22" r="1.45" fill="#2EAB57"/>
<circle cx="1329.07" cy="536.34" r="1.45" fill="#2EAB57"/>
<circle cx="1315.70" cy="538.11" r="1.45" fill="#2EAB57"/>
<circle cx="1301.19" cy="534.60" r="1.45" fill="#2EAB57"/>
<circle cx="1328.33" cy="527.14" r="1.45" fill="#2EAB57"/>
<circle cx="1301.10" cy="550.02" r="1.45" fill="#2EAB57"/>
<line x1="1163.70" y1="397.60" x2="1163.70" y2="567.10" stroke="#000" stroke-width="2" stroke-linecap="butt"/>
<line x1="1162.70" y1="566.10" x2="1411.00" y2="566.10" stroke="#000" stroke-width="2" stroke-linecap="butt"/>
<g transform="translate(1204.22,434.30) scale(1,1.04)">
<text y="0" font-size="25.38" fill="#000"><tspan x="-0.00">L</tspan><tspan x="14.11">2</tspan><tspan x="28.93">/</tspan><tspan x="36.68">3</tspan></text>
</g>
<g transform="translate(1322.02,430.00) scale(1,1.04)">
<text y="0" font-size="24.18" fill="#000"><tspan x="-0.00">L</tspan><tspan x="13.44">4</tspan></text>
</g>
<g transform="translate(1349.81,463.80) scale(1,1.04)">
<text y="0" font-size="24.25" fill="#000"><tspan x="-0.00">L</tspan><tspan x="13.48">5</tspan><tspan x="27.64">-</tspan><tspan x="36.17">I</tspan><tspan x="42.23">T</tspan></text>
</g>
<g transform="translate(1296.25,537.80) scale(1,1.04)">
<text y="0" font-size="23.85" fill="#000"><tspan x="-0.00">L</tspan><tspan x="13.26">6</tspan><tspan x="27.19">-</tspan><tspan x="35.57">I</tspan><tspan x="41.53">T</tspan></text>
</g>
<g transform="translate(1251.82,598.30) scale(1,1.04)">
<text y="0" font-size="25.97" fill="#000"><tspan x="0.48" font-style="italic">t</tspan><tspan x="8.91">-</tspan><tspan x="18.04">S</tspan><tspan x="35.11">N</tspan><tspan x="53.62">E</tspan><tspan x="71.42">-</tspan><tspan x="80.80">1</tspan></text>
</g>
<g transform="translate(1149.80,523.60) rotate(-90) scale(1,1.04)">
<text y="0" font-size="26.60" fill="#000"><tspan x="0.49" font-style="italic">t</tspan><tspan x="9.12">-</tspan><tspan x="18.47">S</tspan><tspan x="35.96">N</tspan><tspan x="54.91">E</tspan><tspan x="73.14">-</tspan><tspan x="82.74">2</tspan></text>
</g>
<text transform="translate(577.80,365.05) scale(1.188,1)" font-size="31.21" font-weight="bold" stroke="#000" stroke-width="1.19" stroke-linejoin="round">e</text>
<rect x="757.00" y="365.80" width="31.80" height="145.10" fill="#F48634"/>
<rect x="819.90" y="376.70" width="31.80" height="134.20" fill="#F48634"/>
<rect x="882.80" y="379.50" width="31.80" height="131.40" fill="#F48634"/>
<rect x="945.90" y="386.00" width="31.80" height="124.90" fill="#F48634"/>
<rect x="1008.90" y="395.20" width="31.80" height="115.70" fill="#F48634"/>
<rect x="1071.80" y="430.30" width="31.80" height="80.60" fill="#F48634"/>
<line x1="739.80" y1="356.80" x2="739.80" y2="511.90" stroke="#000" stroke-width="2" stroke-linecap="butt"/>
<line x1="738.80" y1="510.90" x2="1121.00" y2="510.90" stroke="#000" stroke-width="2" stroke-linecap="butt"/>
<line x1="724.60" y1="367.70" x2="730.50" y2="367.70" stroke="#000" stroke-width="2" stroke-linecap="butt"/>
<line x1="734.70" y1="419.30" x2="739.80" y2="419.30" stroke="#000" stroke-width="2" stroke-linecap="butt"/>
<line x1="734.70" y1="480.30" x2="739.80" y2="480.30" stroke="#000" stroke-width="2" stroke-linecap="butt"/>
<g transform="translate(726.80,367.70) scale(1,1.04)">
<text y="0" font-size="20.50" fill="#000"><tspan x="-28.50">1</tspan><tspan x="-17.10">.</tspan><tspan x="-11.40">0</tspan></text>
</g>
<g transform="translate(727.39,428.90) scale(1,1.04)">
<text y="0" font-size="20.50" fill="#000"><tspan x="-28.50">0</tspan><tspan x="-17.10">.</tspan><tspan x="-11.40">8</tspan></text>
</g>
<g transform="translate(727.40,489.90) scale(1,1.04)">
<text y="0" font-size="20.50" fill="#000"><tspan x="-28.50">0</tspan><tspan x="-17.10">.</tspan><tspan x="-11.40">6</tspan></text>
</g>
<g transform="translate(685.40,468.79) rotate(-90) scale(1,1.04)">
<text y="0" font-size="27.55" fill="#000"><tspan x="-0.26">A</tspan><tspan x="17.85">U</tspan><tspan x="37.49">R</tspan><tspan x="56.88">O</tspan><tspan x="78.05">C</tspan></text>
</g>
<line x1="772.90" y1="510.90" x2="772.90" y2="516.00" stroke="#000" stroke-width="2" stroke-linecap="butt"/>
<g transform="translate(791.90,526.00) rotate(-54.5) scale(1,1.04)">
<text y="0" font-size="20.60" fill="#000"><tspan x="-134.73">S</tspan><tspan x="-121.39">S</tspan><tspan x="-107.46">p</tspan><tspan x="-89.90">v</tspan><tspan x="-79.60">s</tspan><tspan x="-44.06">V</tspan><tspan x="-31.09">I</tspan><tspan x="-25.76">S</tspan><tspan x="-11.84">p</tspan></text>
<path d="M-154.21,-5.27H-135.77M-140.92,-10.09L-135.77,-5.27L-140.92,-0.41M-63.16,-5.27H-44.72M-49.87,-10.09L-44.72,-5.27L-49.87,-0.41" fill="none" stroke="#000" stroke-width="1.13" stroke-linejoin="miter"/>
</g>
<line x1="835.80" y1="510.90" x2="835.80" y2="516.00" stroke="#000" stroke-width="2" stroke-linecap="butt"/>
<g transform="translate(854.80,526.00) rotate(-54.5) scale(1,1.04)">
<text y="0" font-size="20.60" fill="#000"><tspan x="-137.39">A</tspan><tspan x="-123.85">C</tspan><tspan x="-109.17">A</tspan><tspan x="-89.90">v</tspan><tspan x="-79.60">s</tspan><tspan x="-44.06">V</tspan><tspan x="-31.09">I</tspan><tspan x="-25.76">S</tspan><tspan x="-11.84">p</tspan></text>
<path d="M-156.87,-5.27H-138.43M-143.58,-10.09L-138.43,-5.27L-143.58,-0.41M-63.16,-5.27H-44.72M-49.87,-10.09L-44.72,-5.27L-49.87,-0.41" fill="none" stroke="#000" stroke-width="1.13" stroke-linejoin="miter"/>
</g>
<line x1="898.70" y1="510.90" x2="898.70" y2="516.00" stroke="#000" stroke-width="2" stroke-linecap="butt"/>
<g transform="translate(917.70,526.00) rotate(-54.5) scale(1,1.04)">
<text y="0" font-size="20.60" fill="#000"><tspan x="-139.10">M</tspan><tspan x="-121.75">O</tspan><tspan x="-105.55">p</tspan><tspan x="-87.98">v</tspan><tspan x="-77.68">s</tspan><tspan x="-41.77">A</tspan><tspan x="-28.22">C</tspan><tspan x="-13.54">A</tspan></text>
<path d="M-159.16,-5.27H-140.72M-145.87,-10.09L-140.72,-5.27L-145.87,-0.41M-61.24,-5.27H-42.81M-47.96,-10.09L-42.81,-5.27L-47.96,-0.41" fill="none" stroke="#000" stroke-width="1.13" stroke-linejoin="miter"/>
</g>
<line x1="961.80" y1="510.90" x2="961.80" y2="516.00" stroke="#000" stroke-width="2" stroke-linecap="butt"/>
<g transform="translate(980.80,526.00) rotate(-54.5) scale(1,1.04)">
<text y="0" font-size="20.60" fill="#000"><tspan x="-141.02">M</tspan><tspan x="-123.67">O</tspan><tspan x="-107.46">p</tspan><tspan x="-89.90">v</tspan><tspan x="-79.60">s</tspan><tspan x="-44.06">V</tspan><tspan x="-31.09">I</tspan><tspan x="-25.76">S</tspan><tspan x="-11.84">p</tspan></text>
<path d="M-161.07,-5.27H-142.63M-147.78,-10.09L-142.63,-5.27L-147.78,-0.41M-63.16,-5.27H-44.72M-49.87,-10.09L-44.72,-5.27L-49.87,-0.41" fill="none" stroke="#000" stroke-width="1.13" stroke-linejoin="miter"/>
</g>
<line x1="1024.80" y1="510.90" x2="1024.80" y2="516.00" stroke="#000" stroke-width="2" stroke-linecap="butt"/>
<g transform="translate(1043.80,526.00) rotate(-54.5) scale(1,1.04)">
<text y="0" font-size="20.60" fill="#000"><tspan x="-136.44">M</tspan><tspan x="-119.10">O</tspan><tspan x="-102.89">p</tspan><tspan x="-85.33">v</tspan><tspan x="-75.03">s</tspan><tspan x="-39.11">S</tspan><tspan x="-25.76">S</tspan><tspan x="-11.84">p</tspan></text>
<path d="M-156.50,-5.27H-138.06M-143.21,-10.09L-138.06,-5.27L-143.21,-0.41M-58.59,-5.27H-40.15M-45.30,-10.09L-40.15,-5.27L-45.30,-0.41" fill="none" stroke="#000" stroke-width="1.13" stroke-linejoin="miter"/>
</g>
<line x1="1087.70" y1="510.90" x2="1087.70" y2="516.00" stroke="#000" stroke-width="2" stroke-linecap="butt"/>
<g transform="translate(1106.70,526.00) rotate(-54.5) scale(1,1.04)">
<text y="0" font-size="20.60" fill="#000"><tspan x="-132.82">S</tspan><tspan x="-119.47">S</tspan><tspan x="-105.55">p</tspan><tspan x="-87.98">v</tspan><tspan x="-77.68">s</tspan><tspan x="-41.77">A</tspan><tspan x="-28.22">C</tspan><tspan x="-13.54">A</tspan></text>
<path d="M-152.30,-5.27H-133.86M-139.01,-10.09L-133.86,-5.27L-139.01,-0.41M-61.24,-5.27H-42.81M-47.96,-10.09L-42.81,-5.27L-47.96,-0.41" fill="none" stroke="#000" stroke-width="1.13" stroke-linejoin="miter"/>
</g>
<g transform="translate(147.23,546.20) scale(1,1.04)">
<text y="0" font-size="27.09" fill="#000"><tspan x="-0.26">S</tspan><tspan x="17.29">a</tspan><tspan x="32.37">m</tspan><tspan x="54.94">e</tspan><tspan x="77.78">t</tspan><tspan x="85.55">a</tspan><tspan x="100.36">r</tspan><tspan x="109.62">g</tspan><tspan x="124.66">e</tspan><tspan x="139.97">t</tspan><tspan x="156.03">p</tspan><tspan x="171.33">a</tspan><tspan x="186.14">i</tspan><tspan x="192.15">r</tspan><tspan x="209.20">d</tspan><tspan x="224.76">i</tspan><tspan x="231.02">f</tspan><tspan x="239.04">f</tspan><tspan x="246.55">e</tspan><tspan x="261.36">r</tspan><tspan x="270.12">e</tspan><tspan x="284.92">n</tspan><tspan x="300.49">t</tspan><tspan x="316.05">s</tspan><tspan x="329.83">o</tspan><tspan x="345.14">u</tspan><tspan x="360.20">r</tspan><tspan x="369.72">c</tspan><tspan x="383.50">e</tspan><tspan x="398.31">s</tspan></text>
</g>
<line x1="14.30" y1="557.60" x2="686.40" y2="557.60" stroke="#000" stroke-width="2.4" stroke-linecap="butt"/>
<g transform="translate(820.93,692.20) scale(1,1.04)">
<text y="0" font-size="27.07" fill="#000"><tspan x="-0.26">S</tspan><tspan x="17.28">a</tspan><tspan x="32.35">m</tspan><tspan x="54.90">e</tspan><tspan x="77.73">t</tspan><tspan x="85.49">a</tspan><tspan x="100.28">r</tspan><tspan x="109.54">g</tspan><tspan x="124.57">e</tspan><tspan x="139.87">t</tspan><tspan x="155.92">p</tspan><tspan x="171.21">a</tspan><tspan x="186.00">i</tspan><tspan x="192.01">r</tspan><tspan x="209.05">d</tspan><tspan x="224.60">i</tspan><tspan x="230.86">f</tspan><tspan x="238.87">f</tspan><tspan x="246.38">e</tspan><tspan x="261.17">r</tspan><tspan x="269.93">e</tspan><tspan x="284.72">n</tspan><tspan x="300.27">t</tspan><tspan x="315.82">s</tspan><tspan x="329.60">o</tspan><tspan x="344.89">u</tspan><tspan x="359.94">r</tspan><tspan x="369.45">c</tspan><tspan x="383.23">e</tspan><tspan x="398.02">s</tspan><tspan x="419.58">b</tspan><tspan x="435.13">y</tspan><tspan x="456.19">l</tspan><tspan x="461.94">a</tspan><tspan x="476.73">y</tspan><tspan x="490.01">e</tspan><tspan x="504.80">r</tspan><tspan x="513.82">s</tspan></text>
</g>
<line x1="760.00" y1="702.60" x2="1412.70" y2="702.60" stroke="#000" stroke-width="2.6" stroke-linecap="butt"/>
<text transform="translate(0.75,605.85) scale(1.130,1)" font-size="31.19" font-weight="bold" stroke="#000" stroke-width="1.22" stroke-linejoin="round">f</text>
<g transform="translate(112.06,591.70) scale(1,1.04)">
<text y="0" font-size="27.09" fill="#000"><tspan x="26.91">M</tspan><tspan x="49.73">O</tspan><tspan x="71.04">p</tspan><tspan x="94.14">v</tspan><tspan x="107.68">s</tspan><tspan x="154.91">A</tspan><tspan x="172.72">C</tspan><tspan x="192.03">A</tspan></text>
<path d="M0.54,-6.93H24.79M18.01,-13.27L24.79,-6.93L18.01,-0.54M129.30,-6.93H153.54M146.77,-13.27L153.54,-6.93L146.77,-0.54" fill="none" stroke="#000" stroke-width="1.49" stroke-linejoin="miter"/>
</g>
<rect x="130.25" y="627.10" width="17.10" height="88.70" fill="#F5863A"/>
<line x1="138.80" y1="715.80" x2="138.80" y2="721.80" stroke="#000" stroke-width="2" stroke-linecap="butt"/>
<g transform="translate(146.50,734.60) rotate(-60) scale(1,1.04)">
<text y="0" font-size="26.00" fill="#000"><tspan x="-54.64">A</tspan><tspan x="-37.55">U</tspan><tspan x="-18.77">D</tspan></text>
</g>
<rect x="164.07" y="615.20" width="17.10" height="100.60" fill="#EF36E6"/>
<line x1="172.62" y1="715.80" x2="172.62" y2="721.80" stroke="#000" stroke-width="2" stroke-linecap="butt"/>
<g transform="translate(180.32,734.60) rotate(-60) scale(1,1.04)">
<text y="0" font-size="26.00" fill="#000"><tspan x="-40.20">V</tspan><tspan x="-23.83">I</tspan><tspan x="-17.09">S</tspan></text>
</g>
<rect x="197.89" y="620.60" width="17.10" height="95.20" fill="#3DB34A"/>
<line x1="206.44" y1="715.80" x2="206.44" y2="721.80" stroke="#000" stroke-width="2" stroke-linecap="butt"/>
<g transform="translate(214.14,734.60) rotate(-60) scale(1,1.04)">
<text y="0" font-size="26.00" fill="#000"><tspan x="-49.36">S</tspan><tspan x="-32.51">S</tspan><tspan x="-14.94">p</tspan></text>
</g>
<rect x="231.71" y="634.00" width="17.10" height="81.80" fill="#48EEEC"/>
<line x1="240.26" y1="715.80" x2="240.26" y2="721.80" stroke="#000" stroke-width="2" stroke-linecap="butt"/>
<g transform="translate(247.96,734.60) rotate(-60) scale(1,1.04)">
<text y="0" font-size="26.00" fill="#000"><tspan x="-62.14">P</tspan><tspan x="-45.28">T</tspan><tspan x="-29.88">L</tspan><tspan x="-14.94">p</tspan></text>
</g>
<rect x="265.53" y="635.10" width="17.10" height="80.70" fill="#0A80C8"/>
<line x1="274.08" y1="715.80" x2="274.08" y2="721.80" stroke="#000" stroke-width="2" stroke-linecap="butt"/>
<g transform="translate(281.78,734.60) rotate(-60) scale(1,1.04)">
<text y="0" font-size="26.00" fill="#000"><tspan x="-23.83">A</tspan><tspan x="-6.98">I</tspan></text>
</g>
<rect x="299.35" y="636.50" width="17.10" height="79.30" fill="#8D22B3"/>
<line x1="307.90" y1="715.80" x2="307.90" y2="721.80" stroke="#000" stroke-width="2" stroke-linecap="butt"/>
<g transform="translate(315.60,734.60) rotate(-60) scale(1,1.04)">
<text y="0" font-size="26.00" fill="#000"><tspan x="-52.73">R</tspan><tspan x="-34.44">S</tspan><tspan x="-17.34">P</tspan></text>
</g>
<line x1="121.70" y1="611.20" x2="121.70" y2="716.80" stroke="#000" stroke-width="2" stroke-linecap="butt"/>
<line x1="120.70" y1="715.80" x2="326.40" y2="715.80" stroke="#000" stroke-width="2" stroke-linecap="butt"/>
<line x1="115.70" y1="612.60" x2="121.70" y2="612.60" stroke="#000" stroke-width="2" stroke-linecap="butt"/>
<g transform="translate(106.30,621.20) scale(1,1.04)">
<text y="0" font-size="20.50" fill="#000"><tspan x="-28.50">1</tspan><tspan x="-17.10">.</tspan><tspan x="-11.40">0</tspan></text>
</g>
<line x1="115.70" y1="653.90" x2="121.70" y2="653.90" stroke="#000" stroke-width="2" stroke-linecap="butt"/>
<g transform="translate(106.39,662.50) scale(1,1.04)">
<text y="0" font-size="20.50" fill="#000"><tspan x="-28.50">0</tspan><tspan x="-17.10">.</tspan><tspan x="-11.40">8</tspan></text>
</g>
<line x1="115.70" y1="695.30" x2="121.70" y2="695.30" stroke="#000" stroke-width="2" stroke-linecap="butt"/>
<g transform="translate(106.40,703.90) scale(1,1.04)">
<text y="0" font-size="20.50" fill="#000"><tspan x="-28.50">0</tspan><tspan x="-17.10">.</tspan><tspan x="-11.40">6</tspan></text>
</g>
<g transform="translate(173.00,817.80) scale(1,1.04)">
<text y="0" font-size="25.17" fill="#000"><tspan x="-0.24">S</tspan><tspan x="16.54">o</tspan><tspan x="30.76">u</tspan><tspan x="44.76">r</tspan><tspan x="53.61">c</tspan><tspan x="66.42">e</tspan></text>
</g>
<g transform="translate(35.60,727.80) rotate(-90) scale(1,1.04)">
<text y="0" font-size="26.27" fill="#000"><tspan x="-0.25">A</tspan><tspan x="17.02">U</tspan><tspan x="35.76">R</tspan><tspan x="54.24">O</tspan><tspan x="74.43">C</tspan></text>
</g>
<text transform="translate(361.31,594.87) scale(1.162,1)" font-size="30.11" font-weight="bold" stroke="#000" stroke-width="1.20" stroke-linejoin="round">g</text>
<g transform="translate(469.16,588.90) scale(1,1.04)">
<text y="0" font-size="27.08" fill="#000"><tspan x="26.14">S</tspan><tspan x="43.69">S</tspan><tspan x="62.00">p</tspan><tspan x="85.08">v</tspan><tspan x="98.62">s</tspan><tspan x="145.83">A</tspan><tspan x="163.64">C</tspan><tspan x="182.93">A</tspan></text>
<path d="M0.54,-6.93H24.78M18.01,-13.27L24.78,-6.93L18.01,-0.54M120.23,-6.93H144.47M137.70,-13.27L144.47,-6.93L137.70,-0.54" fill="none" stroke="#000" stroke-width="1.49" stroke-linejoin="miter"/>
</g>
<rect x="481.15" y="633.40" width="17.10" height="77.60" fill="#48EEEC"/>
<line x1="489.70" y1="711.00" x2="489.70" y2="717.00" stroke="#000" stroke-width="2" stroke-linecap="butt"/>
<g transform="translate(497.40,729.80) rotate(-60) scale(1,1.04)">
<text y="0" font-size="26.00" fill="#000"><tspan x="-62.14">P</tspan><tspan x="-45.28">T</tspan><tspan x="-29.88">L</tspan><tspan x="-14.94">p</tspan></text>
</g>
<rect x="515.07" y="658.80" width="17.10" height="52.20" fill="#F5863A"/>
<line x1="523.62" y1="711.00" x2="523.62" y2="717.00" stroke="#000" stroke-width="2" stroke-linecap="butt"/>
<g transform="translate(531.32,729.80) rotate(-60) scale(1,1.04)">
<text y="0" font-size="26.00" fill="#000"><tspan x="-54.64">A</tspan><tspan x="-37.55">U</tspan><tspan x="-18.77">D</tspan></text>
</g>
<rect x="548.99" y="644.20" width="17.10" height="66.80" fill="#EF36E6"/>
<line x1="557.54" y1="711.00" x2="557.54" y2="717.00" stroke="#000" stroke-width="2" stroke-linecap="butt"/>
<g transform="translate(565.24,729.80) rotate(-60) scale(1,1.04)">
<text y="0" font-size="26.00" fill="#000"><tspan x="-40.20">V</tspan><tspan x="-23.83">I</tspan><tspan x="-17.09">S</tspan></text>
</g>
<rect x="582.91" y="663.30" width="17.10" height="47.70" fill="#E31C4B"/>
<line x1="591.46" y1="711.00" x2="591.46" y2="717.00" stroke="#000" stroke-width="2" stroke-linecap="butt"/>
<g transform="translate(599.16,729.80) rotate(-60) scale(1,1.04)">
<text y="0" font-size="26.00" fill="#000"><tspan x="-57.29">M</tspan><tspan x="-35.40">O</tspan><tspan x="-14.94">p</tspan></text>
</g>
<rect x="616.83" y="634.00" width="17.10" height="77.00" fill="#0A80C8"/>
<line x1="625.38" y1="711.00" x2="625.38" y2="717.00" stroke="#000" stroke-width="2" stroke-linecap="butt"/>
<g transform="translate(633.08,729.80) rotate(-60) scale(1,1.04)">
<text y="0" font-size="26.00" fill="#000"><tspan x="-23.83">A</tspan><tspan x="-6.98">I</tspan></text>
</g>
<rect x="650.75" y="634.00" width="17.10" height="77.00" fill="#8D22B3"/>
<line x1="659.30" y1="711.00" x2="659.30" y2="717.00" stroke="#000" stroke-width="2" stroke-linecap="butt"/>
<g transform="translate(667.00,729.80) rotate(-60) scale(1,1.04)">
<text y="0" font-size="26.00" fill="#000"><tspan x="-52.73">R</tspan><tspan x="-34.44">S</tspan><tspan x="-17.34">P</tspan></text>
</g>
<line x1="471.70" y1="611.70" x2="471.70" y2="712.00" stroke="#000" stroke-width="2" stroke-linecap="butt"/>
<line x1="470.70" y1="711.00" x2="677.80" y2="711.00" stroke="#000" stroke-width="2" stroke-linecap="butt"/>
<line x1="465.70" y1="612.90" x2="471.70" y2="612.90" stroke="#000" stroke-width="2" stroke-linecap="butt"/>
<g transform="translate(452.80,621.50) scale(1,1.04)">
<text y="0" font-size="20.50" fill="#000"><tspan x="-28.50">1</tspan><tspan x="-17.10">.</tspan><tspan x="-11.40">0</tspan></text>
</g>
<line x1="465.70" y1="652.00" x2="471.70" y2="652.00" stroke="#000" stroke-width="2" stroke-linecap="butt"/>
<g transform="translate(452.89,660.60) scale(1,1.04)">
<text y="0" font-size="20.50" fill="#000"><tspan x="-28.50">0</tspan><tspan x="-17.10">.</tspan><tspan x="-11.40">8</tspan></text>
</g>
<line x1="465.70" y1="691.00" x2="471.70" y2="691.00" stroke="#000" stroke-width="2" stroke-linecap="butt"/>
<g transform="translate(452.90,699.60) scale(1,1.04)">
<text y="0" font-size="20.50" fill="#000"><tspan x="-28.50">0</tspan><tspan x="-17.10">.</tspan><tspan x="-11.40">6</tspan></text>
</g>
<g transform="translate(529.49,813.60) scale(1,1.04)">
<text y="0" font-size="25.37" fill="#000"><tspan x="-0.24">S</tspan><tspan x="16.66">o</tspan><tspan x="31.00">u</tspan><tspan x="45.10">r</tspan><tspan x="54.02">c</tspan><tspan x="66.93">e</tspan></text>
</g>
<text transform="translate(-0.98,867.85) scale(1.123,1)" font-size="31.05" font-weight="bold" stroke="#000" stroke-width="1.22" stroke-linejoin="round">h</text>
<rect x="125.30" y="857.30" width="33.28" height="33.23" fill="#FF4A4A"/>
<rect x="157.58" y="857.30" width="33.28" height="33.23" fill="#FF2A2A"/>
<rect x="189.87" y="857.30" width="33.28" height="33.23" fill="#C8C8FF"/>
<rect x="222.15" y="857.30" width="33.28" height="33.23" fill="#6464FF"/>
<rect x="254.43" y="857.30" width="33.28" height="33.23" fill="#0000FF"/>
<rect x="286.72" y="857.30" width="33.28" height="33.23" fill="#0000FF"/>
<rect x="125.30" y="889.53" width="33.28" height="33.23" fill="#FF7878"/>
<rect x="157.58" y="889.53" width="33.28" height="33.23" fill="#FF1010"/>
<rect x="189.87" y="889.53" width="33.28" height="33.23" fill="#9A9AFF"/>
<rect x="222.15" y="889.53" width="33.28" height="33.23" fill="#1010FF"/>
<rect x="254.43" y="889.53" width="33.28" height="33.23" fill="#0303FF"/>
<rect x="286.72" y="889.53" width="33.28" height="33.23" fill="#0202FF"/>
<rect x="125.30" y="921.77" width="33.28" height="33.23" fill="#FF5E5E"/>
<rect x="157.58" y="921.77" width="33.28" height="33.23" fill="#FF4545"/>
<rect x="189.87" y="921.77" width="33.28" height="33.23" fill="#FF2A2A"/>
<rect x="222.15" y="921.77" width="33.28" height="33.23" fill="#B2B2FF"/>
<rect x="254.43" y="921.77" width="33.28" height="33.23" fill="#FFEEEE"/>
<rect x="286.72" y="921.77" width="33.28" height="33.23" fill="#0808FF"/>
<rect x="125.30" y="954.00" width="33.28" height="33.23" fill="#E6E6FF"/>
<rect x="157.58" y="954.00" width="33.28" height="33.23" fill="#F8F8FF"/>
<rect x="189.87" y="954.00" width="33.28" height="33.23" fill="#B6B6FF"/>
<rect x="222.15" y="954.00" width="33.28" height="33.23" fill="#FF6A6A"/>
<rect x="254.43" y="954.00" width="33.28" height="33.23" fill="#0000FF"/>
<rect x="286.72" y="954.00" width="33.28" height="33.23" fill="#DADAFF"/>
<rect x="125.30" y="986.23" width="33.28" height="33.23" fill="#0000FF"/>
<rect x="157.58" y="986.23" width="33.28" height="33.23" fill="#0000FF"/>
<rect x="189.87" y="986.23" width="33.28" height="33.23" fill="#4848FF"/>
<rect x="222.15" y="986.23" width="33.28" height="33.23" fill="#0000FF"/>
<rect x="254.43" y="986.23" width="33.28" height="33.23" fill="#FF7070"/>
<rect x="286.72" y="986.23" width="33.28" height="33.23" fill="#0000FF"/>
<rect x="125.30" y="1018.47" width="33.28" height="33.23" fill="#0000FF"/>
<rect x="157.58" y="1018.47" width="33.28" height="33.23" fill="#0000FF"/>
<rect x="189.87" y="1018.47" width="33.28" height="33.23" fill="#1414FF"/>
<rect x="222.15" y="1018.47" width="33.28" height="33.23" fill="#D0D0FF"/>
<rect x="254.43" y="1018.47" width="33.28" height="33.23" fill="#0000FF"/>
<rect x="286.72" y="1018.47" width="33.28" height="33.23" fill="#FF7676"/>
<rect x="125.30" y="857.30" width="193.70" height="193.40" fill="none" stroke="#000" stroke-width="2"/>
<line x1="118.30" y1="873.42" x2="125.30" y2="873.42" stroke="#000" stroke-width="2" stroke-linecap="butt"/>
<g transform="translate(113.30,882.62) scale(1,1.04)">
<text y="0" font-size="26.80" fill="#000"><tspan x="-56.32">A</tspan><tspan x="-38.70">U</tspan><tspan x="-19.35">D</tspan></text>
</g>
<line x1="118.30" y1="905.65" x2="125.30" y2="905.65" stroke="#000" stroke-width="2" stroke-linecap="butt"/>
<g transform="translate(113.30,914.85) scale(1,1.04)">
<text y="0" font-size="26.80" fill="#000"><tspan x="-41.43">V</tspan><tspan x="-24.56">I</tspan><tspan x="-17.62">S</tspan></text>
</g>
<line x1="118.30" y1="937.88" x2="125.30" y2="937.88" stroke="#000" stroke-width="2" stroke-linecap="butt"/>
<g transform="translate(113.30,947.08) scale(1,1.04)">
<text y="0" font-size="26.80" fill="#000"><tspan x="-50.88">S</tspan><tspan x="-33.51">S</tspan><tspan x="-15.40">p</tspan></text>
</g>
<line x1="118.30" y1="970.12" x2="125.30" y2="970.12" stroke="#000" stroke-width="2" stroke-linecap="butt"/>
<g transform="translate(113.30,979.32) scale(1,1.04)">
<text y="0" font-size="26.80" fill="#000"><tspan x="-64.05">P</tspan><tspan x="-46.67">T</tspan><tspan x="-30.80">L</tspan><tspan x="-15.40">p</tspan></text>
</g>
<line x1="118.30" y1="1002.35" x2="125.30" y2="1002.35" stroke="#000" stroke-width="2" stroke-linecap="butt"/>
<g transform="translate(113.30,1011.55) scale(1,1.04)">
<text y="0" font-size="26.80" fill="#000"><tspan x="-24.56">A</tspan><tspan x="-7.19">I</tspan></text>
</g>
<line x1="118.30" y1="1034.58" x2="125.30" y2="1034.58" stroke="#000" stroke-width="2" stroke-linecap="butt"/>
<g transform="translate(113.30,1043.78) scale(1,1.04)">
<text y="0" font-size="26.80" fill="#000"><tspan x="-54.35">R</tspan><tspan x="-35.50">S</tspan><tspan x="-17.88">P</tspan></text>
</g>
<line x1="141.44" y1="1050.70" x2="141.44" y2="1057.70" stroke="#000" stroke-width="2" stroke-linecap="butt"/>
<g transform="translate(158.94,1072.30) rotate(-60) scale(1,1.04)">
<text y="0" font-size="26.80" fill="#000"><tspan x="-56.32">A</tspan><tspan x="-38.70">U</tspan><tspan x="-19.35">D</tspan></text>
</g>
<line x1="173.72" y1="1050.70" x2="173.72" y2="1057.70" stroke="#000" stroke-width="2" stroke-linecap="butt"/>
<g transform="translate(191.22,1072.30) rotate(-60) scale(1,1.04)">
<text y="0" font-size="26.80" fill="#000"><tspan x="-41.43">V</tspan><tspan x="-24.56">I</tspan><tspan x="-17.62">S</tspan></text>
</g>
<line x1="206.01" y1="1050.70" x2="206.01" y2="1057.70" stroke="#000" stroke-width="2" stroke-linecap="butt"/>
<g transform="translate(223.51,1072.30) rotate(-60) scale(1,1.04)">
<text y="0" font-size="26.80" fill="#000"><tspan x="-50.88">S</tspan><tspan x="-33.51">S</tspan><tspan x="-15.40">p</tspan></text>
</g>
<line x1="238.29" y1="1050.70" x2="238.29" y2="1057.70" stroke="#000" stroke-width="2" stroke-linecap="butt"/>
<g transform="translate(255.79,1072.30) rotate(-60) scale(1,1.04)">
<text y="0" font-size="26.80" fill="#000"><tspan x="-64.05">P</tspan><tspan x="-46.67">T</tspan><tspan x="-30.80">L</tspan><tspan x="-15.40">p</tspan></text>
</g>
<line x1="270.57" y1="1050.70" x2="270.57" y2="1057.70" stroke="#000" stroke-width="2" stroke-linecap="butt"/>
<g transform="translate(288.07,1072.30) rotate(-60) scale(1,1.04)">
<text y="0" font-size="26.80" fill="#000"><tspan x="-24.56">A</tspan><tspan x="-7.19">I</tspan></text>
</g>
<line x1="302.86" y1="1050.70" x2="302.86" y2="1057.70" stroke="#000" stroke-width="2" stroke-linecap="butt"/>
<g transform="translate(320.36,1072.30) rotate(-60) scale(1,1.04)">
<text y="0" font-size="26.80" fill="#000"><tspan x="-54.35">R</tspan><tspan x="-35.50">S</tspan><tspan x="-17.88">P</tspan></text>
</g>
<g transform="translate(35.40,1034.97) rotate(-90) scale(1,1.04)">
<text y="0" font-size="27.14" fill="#000"><tspan x="-0.26">S</tspan><tspan x="17.83">o</tspan><tspan x="33.16">u</tspan><tspan x="48.25">r</tspan><tspan x="57.78">c</tspan><tspan x="71.59">e</tspan><tspan x="94.47">t</tspan><tspan x="102.52">r</tspan><tspan x="111.29">a</tspan><tspan x="126.12">i</tspan><tspan x="132.15">n</tspan></text>
</g>
<g transform="translate(152.03,1154.30) scale(1,1.04)">
<text y="0" font-size="26.93" fill="#000"><tspan x="-0.26">S</tspan><tspan x="17.69">o</tspan><tspan x="32.91">u</tspan><tspan x="47.89">r</tspan><tspan x="57.35">c</tspan><tspan x="71.06">e</tspan><tspan x="93.77">t</tspan><tspan x="101.49">e</tspan><tspan x="116.21">s</tspan><tspan x="130.18">t</tspan></text>
</g>
<text transform="translate(366.50,869.15) scale(1.231,1)" font-size="30.78" font-weight="bold" stroke="#000" stroke-width="1.17" stroke-linejoin="round">i</text>
<rect x="464.40" y="856.40" width="33.23" height="33.15" fill="#FF6E6E"/>
<rect x="496.63" y="856.40" width="33.23" height="33.15" fill="#BEBEFF"/>
<rect x="528.87" y="856.40" width="33.23" height="33.15" fill="#E8E8FF"/>
<rect x="561.10" y="856.40" width="33.23" height="33.15" fill="#2E2EFF"/>
<rect x="593.33" y="856.40" width="33.23" height="33.15" fill="#0000FF"/>
<rect x="625.57" y="856.40" width="33.23" height="33.15" fill="#FFECEC"/>
<rect x="464.40" y="888.55" width="33.23" height="33.15" fill="#DEDEFF"/>
<rect x="496.63" y="888.55" width="33.23" height="33.15" fill="#FFF0EE"/>
<rect x="528.87" y="888.55" width="33.23" height="33.15" fill="#C4C4FF"/>
<rect x="561.10" y="888.55" width="33.23" height="33.15" fill="#2626FF"/>
<rect x="593.33" y="888.55" width="33.23" height="33.15" fill="#0000FF"/>
<rect x="625.57" y="888.55" width="33.23" height="33.15" fill="#0000FF"/>
<rect x="464.40" y="920.70" width="33.23" height="33.15" fill="#DADAFF"/>
<rect x="496.63" y="920.70" width="33.23" height="33.15" fill="#A4A4FF"/>
<rect x="528.87" y="920.70" width="33.23" height="33.15" fill="#FFA6A6"/>
<rect x="561.10" y="920.70" width="33.23" height="33.15" fill="#0000FF"/>
<rect x="593.33" y="920.70" width="33.23" height="33.15" fill="#0404FF"/>
<rect x="625.57" y="920.70" width="33.23" height="33.15" fill="#7272FF"/>
<rect x="464.40" y="952.85" width="33.23" height="33.15" fill="#0000FF"/>
<rect x="496.63" y="952.85" width="33.23" height="33.15" fill="#8080FF"/>
<rect x="528.87" y="952.85" width="33.23" height="33.15" fill="#0000FF"/>
<rect x="561.10" y="952.85" width="33.23" height="33.15" fill="#F4F4FF"/>
<rect x="593.33" y="952.85" width="33.23" height="33.15" fill="#A8A8FF"/>
<rect x="625.57" y="952.85" width="33.23" height="33.15" fill="#3232FF"/>
<rect x="464.40" y="985.00" width="33.23" height="33.15" fill="#0000FF"/>
<rect x="496.63" y="985.00" width="33.23" height="33.15" fill="#0000FF"/>
<rect x="528.87" y="985.00" width="33.23" height="33.15" fill="#0000FF"/>
<rect x="561.10" y="985.00" width="33.23" height="33.15" fill="#7272FF"/>
<rect x="593.33" y="985.00" width="33.23" height="33.15" fill="#FF7070"/>
<rect x="625.57" y="985.00" width="33.23" height="33.15" fill="#FFC6C6"/>
<rect x="464.40" y="1017.15" width="33.23" height="33.15" fill="#8888FF"/>
<rect x="496.63" y="1017.15" width="33.23" height="33.15" fill="#0000FF"/>
<rect x="528.87" y="1017.15" width="33.23" height="33.15" fill="#1212FF"/>
<rect x="561.10" y="1017.15" width="33.23" height="33.15" fill="#5050FF"/>
<rect x="593.33" y="1017.15" width="33.23" height="33.15" fill="#FFC8C8"/>
<rect x="625.57" y="1017.15" width="33.23" height="33.15" fill="#FF7070"/>
<rect x="464.40" y="856.40" width="193.40" height="192.90" fill="none" stroke="#000" stroke-width="2"/>
<line x1="457.40" y1="872.48" x2="464.40" y2="872.48" stroke="#000" stroke-width="2" stroke-linecap="butt"/>
<g transform="translate(454.60,881.68) scale(1,1.04)">
<text y="0" font-size="26.80" fill="#000"><tspan x="-64.05">P</tspan><tspan x="-46.67">T</tspan><tspan x="-30.80">L</tspan><tspan x="-15.40">p</tspan></text>
</g>
<line x1="457.40" y1="904.62" x2="464.40" y2="904.62" stroke="#000" stroke-width="2" stroke-linecap="butt"/>
<g transform="translate(454.60,913.83) scale(1,1.04)">
<text y="0" font-size="26.80" fill="#000"><tspan x="-56.32">A</tspan><tspan x="-38.70">U</tspan><tspan x="-19.35">D</tspan></text>
</g>
<line x1="457.40" y1="936.77" x2="464.40" y2="936.77" stroke="#000" stroke-width="2" stroke-linecap="butt"/>
<g transform="translate(454.60,945.98) scale(1,1.04)">
<text y="0" font-size="26.80" fill="#000"><tspan x="-41.43">V</tspan><tspan x="-24.56">I</tspan><tspan x="-17.62">S</tspan></text>
</g>
<line x1="457.40" y1="968.92" x2="464.40" y2="968.92" stroke="#000" stroke-width="2" stroke-linecap="butt"/>
<g transform="translate(454.60,978.12) scale(1,1.04)">
<text y="0" font-size="26.80" fill="#000"><tspan x="-59.05">M</tspan><tspan x="-36.49">O</tspan><tspan x="-15.40">p</tspan></text>
</g>
<line x1="457.40" y1="1001.07" x2="464.40" y2="1001.07" stroke="#000" stroke-width="2" stroke-linecap="butt"/>
<g transform="translate(454.60,1010.27) scale(1,1.04)">
<text y="0" font-size="26.80" fill="#000"><tspan x="-24.56">A</tspan><tspan x="-7.19">I</tspan></text>
</g>
<line x1="457.40" y1="1033.22" x2="464.40" y2="1033.22" stroke="#000" stroke-width="2" stroke-linecap="butt"/>
<g transform="translate(454.60,1042.42) scale(1,1.04)">
<text y="0" font-size="26.80" fill="#000"><tspan x="-54.35">R</tspan><tspan x="-35.50">S</tspan><tspan x="-17.88">P</tspan></text>
</g>
<line x1="480.52" y1="1049.30" x2="480.52" y2="1056.30" stroke="#000" stroke-width="2" stroke-linecap="butt"/>
<g transform="translate(498.02,1070.90) rotate(-60) scale(1,1.04)">
<text y="0" font-size="26.80" fill="#000"><tspan x="-64.05">P</tspan><tspan x="-46.67">T</tspan><tspan x="-30.80">L</tspan><tspan x="-15.40">p</tspan></text>
</g>
<line x1="512.75" y1="1049.30" x2="512.75" y2="1056.30" stroke="#000" stroke-width="2" stroke-linecap="butt"/>
<g transform="translate(530.25,1070.90) rotate(-60) scale(1,1.04)">
<text y="0" font-size="26.80" fill="#000"><tspan x="-56.32">A</tspan><tspan x="-38.70">U</tspan><tspan x="-19.35">D</tspan></text>
</g>
<line x1="544.98" y1="1049.30" x2="544.98" y2="1056.30" stroke="#000" stroke-width="2" stroke-linecap="butt"/>
<g transform="translate(562.48,1070.90) rotate(-60) scale(1,1.04)">
<text y="0" font-size="26.80" fill="#000"><tspan x="-41.43">V</tspan><tspan x="-24.56">I</tspan><tspan x="-17.62">S</tspan></text>
</g>
<line x1="577.22" y1="1049.30" x2="577.22" y2="1056.30" stroke="#000" stroke-width="2" stroke-linecap="butt"/>
<g transform="translate(594.72,1070.90) rotate(-60) scale(1,1.04)">
<text y="0" font-size="26.80" fill="#000"><tspan x="-59.05">M</tspan><tspan x="-36.49">O</tspan><tspan x="-15.40">p</tspan></text>
</g>
<line x1="609.45" y1="1049.30" x2="609.45" y2="1056.30" stroke="#000" stroke-width="2" stroke-linecap="butt"/>
<g transform="translate(626.95,1070.90) rotate(-60) scale(1,1.04)">
<text y="0" font-size="26.80" fill="#000"><tspan x="-24.56">A</tspan><tspan x="-7.19">I</tspan></text>
</g>
<line x1="641.68" y1="1049.30" x2="641.68" y2="1056.30" stroke="#000" stroke-width="2" stroke-linecap="butt"/>
<g transform="translate(659.18,1070.90) rotate(-60) scale(1,1.04)">
<text y="0" font-size="26.80" fill="#000"><tspan x="-54.35">R</tspan><tspan x="-35.50">S</tspan><tspan x="-17.88">P</tspan></text>
</g>
<g transform="translate(483.53,1155.70) scale(1,1.04)">
<text y="0" font-size="27.13" fill="#000"><tspan x="-0.26">S</tspan><tspan x="17.82">o</tspan><tspan x="33.15">u</tspan><tspan x="48.24">r</tspan><tspan x="57.77">c</tspan><tspan x="71.58">e</tspan><tspan x="94.46">t</tspan><tspan x="102.24">e</tspan><tspan x="117.07">s</tspan><tspan x="131.14">t</tspan></text>
</g>
<defs><linearGradient id="cb" x1="0" y1="0" x2="0" y2="1"><stop offset="0" stop-color="#E41F26"/><stop offset="0.25" stop-color="#F07A7E"/><stop offset="0.5" stop-color="#FFFFFF"/><stop offset="0.75" stop-color="#A3A8D6"/><stop offset="1" stop-color="#3A4C9F"/></linearGradient></defs>
<rect x="735.4" y="967.2" width="9.4" height="164.7" fill="url(#cb)" stroke="#000" stroke-width="2"/>
<line x1="744.80" y1="967.60" x2="752.20" y2="967.60" stroke="#000" stroke-width="1.8" stroke-linecap="butt"/>
<line x1="744.80" y1="1131.40" x2="752.20" y2="1131.40" stroke="#000" stroke-width="1.8" stroke-linecap="butt"/>
<line x1="752.20" y1="1131.40" x2="760.00" y2="1131.40" stroke="#999" stroke-width="0.8" stroke-linecap="butt"/>
<g transform="translate(759.17,971.60) scale(1,1.04)">
<text y="0" font-size="21.41" fill="#000"><tspan x="-0.00">1</tspan><tspan x="11.91">.</tspan><tspan x="17.86">0</tspan></text>
</g>
<g transform="translate(759.18,1137.90) scale(1,1.04)">
<text y="0" font-size="21.08" fill="#000"><tspan x="-0.00">0</tspan><tspan x="11.72">.</tspan><tspan x="17.58">5</tspan></text>
</g>
<g transform="translate(717.60,1097.50) rotate(-90) scale(1,1.04)">
<text y="0" font-size="26.95" fill="#000"><tspan x="-0.26">A</tspan><tspan x="17.46">U</tspan><tspan x="36.68">R</tspan><tspan x="55.65">O</tspan><tspan x="76.36">C</tspan></text>
</g>
<text transform="translate(778.34,741.14) scale(1.258,1)" font-size="29.93" font-weight="bold" stroke="#000" stroke-width="1.15" stroke-linejoin="round">j</text>
<g transform="translate(876.45,734.00) scale(1,1.04)">
<text y="0" font-size="27.43" fill="#000"><tspan x="26.48">A</tspan><tspan x="44.51">C</tspan><tspan x="64.06">A</tspan><tspan x="89.71">v</tspan><tspan x="103.43">s</tspan><tspan x="150.74">V</tspan><tspan x="168.01">I</tspan><tspan x="175.11">S</tspan><tspan x="193.65">p</tspan></text>
<path d="M0.55,-7.02H25.10M18.24,-13.44L25.10,-7.02L18.24,-0.55M125.31,-7.02H149.86M143.00,-13.44L149.86,-7.02L143.00,-0.55" fill="none" stroke="#000" stroke-width="1.51" stroke-linejoin="miter"/>
</g>
<rect x="882.30" y="792.80" width="48.57" height="49.18" fill="#000000"/>
<rect x="929.88" y="792.80" width="48.57" height="49.18" fill="#000000"/>
<rect x="977.45" y="792.80" width="48.57" height="49.18" fill="#000000"/>
<rect x="1025.02" y="792.80" width="48.57" height="49.18" fill="#FFD0D0"/>
<rect x="882.30" y="840.97" width="48.57" height="49.18" fill="#FF8080"/>
<rect x="929.88" y="840.97" width="48.57" height="49.18" fill="#000000"/>
<rect x="977.45" y="840.97" width="48.57" height="49.18" fill="#FF9898"/>
<rect x="1025.02" y="840.97" width="48.57" height="49.18" fill="#FF4040"/>
<rect x="882.30" y="889.15" width="48.57" height="49.18" fill="#FF7676"/>
<rect x="929.88" y="889.15" width="48.57" height="49.18" fill="#000000"/>
<rect x="977.45" y="889.15" width="48.57" height="49.18" fill="#FF6262"/>
<rect x="1025.02" y="889.15" width="48.57" height="49.18" fill="#FF2C2C"/>
<rect x="882.30" y="937.33" width="48.57" height="49.18" fill="#FF8080"/>
<rect x="929.88" y="937.33" width="48.57" height="49.18" fill="#FF8A8A"/>
<rect x="977.45" y="937.33" width="48.57" height="49.18" fill="#FF8686"/>
<rect x="1025.02" y="937.33" width="48.57" height="49.18" fill="#FF6262"/>
<rect x="882.30" y="792.80" width="190.30" height="192.70" fill="none" stroke="#000" stroke-width="2"/>
<line x1="875.30" y1="816.89" x2="882.30" y2="816.89" stroke="#000" stroke-width="2" stroke-linecap="butt"/>
<g transform="translate(871.70,826.09) scale(1,1.04)">
<text y="0" font-size="27.80" fill="#000"><tspan x="-25.48">A</tspan><tspan x="-7.46">I</tspan></text>
</g>
<line x1="875.30" y1="865.06" x2="882.30" y2="865.06" stroke="#000" stroke-width="2" stroke-linecap="butt"/>
<g transform="translate(871.70,874.26) scale(1,1.04)">
<text y="0" font-size="27.80" fill="#000"><tspan x="-58.42">A</tspan><tspan x="-40.15">U</tspan><tspan x="-20.07">D</tspan></text>
</g>
<line x1="875.30" y1="913.24" x2="882.30" y2="913.24" stroke="#000" stroke-width="2" stroke-linecap="butt"/>
<g transform="translate(871.70,922.44) scale(1,1.04)">
<text y="0" font-size="27.80" fill="#000"><tspan x="-56.38">R</tspan><tspan x="-36.82">S</tspan><tspan x="-18.54">P</tspan></text>
</g>
<line x1="875.30" y1="961.41" x2="882.30" y2="961.41" stroke="#000" stroke-width="2" stroke-linecap="butt"/>
<g transform="translate(871.70,970.61) scale(1,1.04)">
<text y="0" font-size="27.80" fill="#000"><tspan x="-66.44">P</tspan><tspan x="-48.41">T</tspan><tspan x="-31.94">L</tspan><tspan x="-15.97">p</tspan></text>
</g>
<line x1="906.09" y1="985.50" x2="906.09" y2="992.50" stroke="#000" stroke-width="2" stroke-linecap="butt"/>
<g transform="translate(921.99,1008.90) rotate(-60) scale(1,1.04)">
<text y="0" font-size="27.80" fill="#000"><tspan x="-55.63">L</tspan><tspan x="-40.17">2</tspan><tspan x="-23.95">/</tspan><tspan x="-15.46">3</tspan></text>
</g>
<line x1="953.66" y1="985.50" x2="953.66" y2="992.50" stroke="#000" stroke-width="2" stroke-linecap="butt"/>
<g transform="translate(969.56,1008.90) rotate(-60) scale(1,1.04)">
<text y="0" font-size="27.80" fill="#000"><tspan x="-30.92">L</tspan><tspan x="-15.46">4</tspan></text>
</g>
<line x1="1001.24" y1="985.50" x2="1001.24" y2="992.50" stroke="#000" stroke-width="2" stroke-linecap="butt"/>
<g transform="translate(1017.14,1008.90) rotate(-60) scale(1,1.04)">
<text y="0" font-size="27.80" fill="#000"><tspan x="-64.89">L</tspan><tspan x="-49.43">5</tspan><tspan x="-33.19">-</tspan><tspan x="-23.42">I</tspan><tspan x="-16.47">T</tspan></text>
</g>
<line x1="1048.81" y1="985.50" x2="1048.81" y2="992.50" stroke="#000" stroke-width="2" stroke-linecap="butt"/>
<g transform="translate(1064.71,1008.90) rotate(-60) scale(1,1.04)">
<text y="0" font-size="27.80" fill="#000"><tspan x="-64.89">L</tspan><tspan x="-49.43">6</tspan><tspan x="-33.19">-</tspan><tspan x="-23.42">I</tspan><tspan x="-16.47">T</tspan></text>
</g>
<g transform="translate(795.20,942.54) rotate(-90) scale(1,1.04)">
<text y="0" font-size="26.20" fill="#000"><tspan x="-0.25">S</tspan><tspan x="17.21">o</tspan><tspan x="32.02">u</tspan><tspan x="46.59">r</tspan><tspan x="55.80">c</tspan><tspan x="69.13">e</tspan></text>
</g>
<g transform="translate(926.32,1141.60) scale(1,1.04)">
<text y="0" font-size="27.26" fill="#000"><tspan x="-0.26">S</tspan><tspan x="17.66">u</tspan><tspan x="33.32">b</tspan><tspan x="49.49">c</tspan><tspan x="63.62">l</tspan><tspan x="69.41">a</tspan><tspan x="84.31">s</tspan><tspan x="97.94">s</tspan></text>
</g>
<text transform="translate(1117.13,742.15) scale(1.138,1)" font-size="31.74" font-weight="bold" stroke="#000" stroke-width="1.22" stroke-linejoin="round">k</text>
<g transform="translate(1202.16,734.00) scale(1,1.04)">
<text y="0" font-size="26.93" fill="#000"><tspan x="26.00">S</tspan><tspan x="43.45">S</tspan><tspan x="61.66">p</tspan><tspan x="84.62">v</tspan><tspan x="98.08">s</tspan><tspan x="145.03">A</tspan><tspan x="162.74">C</tspan><tspan x="181.93">A</tspan></text>
<path d="M0.54,-6.89H24.64M17.91,-13.20L24.64,-6.89L17.91,-0.54M119.57,-6.89H143.67M136.94,-13.20L143.67,-6.89L136.94,-0.54" fill="none" stroke="#000" stroke-width="1.48" stroke-linejoin="miter"/>
</g>
<rect x="1208.30" y="745.20" width="48.35" height="49.05" fill="#5C5CFF"/>
<rect x="1255.65" y="745.20" width="48.35" height="49.05" fill="#1E1EFF"/>
<rect x="1303.00" y="745.20" width="48.35" height="49.05" fill="#C8C8FF"/>
<rect x="1350.35" y="745.20" width="48.35" height="49.05" fill="#D6D6FF"/>
<rect x="1208.30" y="793.25" width="48.35" height="49.05" fill="#000000"/>
<rect x="1255.65" y="793.25" width="48.35" height="49.05" fill="#000000"/>
<rect x="1303.00" y="793.25" width="48.35" height="49.05" fill="#FFBEBE"/>
<rect x="1350.35" y="793.25" width="48.35" height="49.05" fill="#FFA0A0"/>
<rect x="1208.30" y="841.30" width="48.35" height="49.05" fill="#FF9494"/>
<rect x="1255.65" y="841.30" width="48.35" height="49.05" fill="#000000"/>
<rect x="1303.00" y="841.30" width="48.35" height="49.05" fill="#5050FF"/>
<rect x="1350.35" y="841.30" width="48.35" height="49.05" fill="#A0A0FF"/>
<rect x="1208.30" y="889.35" width="48.35" height="49.05" fill="#000000"/>
<rect x="1255.65" y="889.35" width="48.35" height="49.05" fill="#000000"/>
<rect x="1303.00" y="889.35" width="48.35" height="49.05" fill="#FF9A9A"/>
<rect x="1350.35" y="889.35" width="48.35" height="49.05" fill="#FFB6B6"/>
<rect x="1208.30" y="937.40" width="48.35" height="49.05" fill="#FF5050"/>
<rect x="1255.65" y="937.40" width="48.35" height="49.05" fill="#FF9898"/>
<rect x="1303.00" y="937.40" width="48.35" height="49.05" fill="#FF7070"/>
<rect x="1350.35" y="937.40" width="48.35" height="49.05" fill="#9090FF"/>
<rect x="1208.30" y="985.45" width="48.35" height="49.05" fill="#FF7878"/>
<rect x="1255.65" y="985.45" width="48.35" height="49.05" fill="#000000"/>
<rect x="1303.00" y="985.45" width="48.35" height="49.05" fill="#FFF0F0"/>
<rect x="1350.35" y="985.45" width="48.35" height="49.05" fill="#6464FF"/>
<rect x="1208.30" y="745.20" width="189.40" height="288.30" fill="none" stroke="#000" stroke-width="2"/>
<line x1="1201.30" y1="769.23" x2="1208.30" y2="769.23" stroke="#000" stroke-width="2" stroke-linecap="butt"/>
<g transform="translate(1197.50,778.43) scale(1,1.04)">
<text y="0" font-size="27.80" fill="#000"><tspan x="-61.26">M</tspan><tspan x="-37.85">O</tspan><tspan x="-15.97">p</tspan></text>
</g>
<line x1="1201.30" y1="817.28" x2="1208.30" y2="817.28" stroke="#000" stroke-width="2" stroke-linecap="butt"/>
<g transform="translate(1197.50,826.48) scale(1,1.04)">
<text y="0" font-size="27.80" fill="#000"><tspan x="-25.48">A</tspan><tspan x="-7.46">I</tspan></text>
</g>
<line x1="1201.30" y1="865.33" x2="1208.30" y2="865.33" stroke="#000" stroke-width="2" stroke-linecap="butt"/>
<g transform="translate(1197.50,874.53) scale(1,1.04)">
<text y="0" font-size="27.80" fill="#000"><tspan x="-58.42">A</tspan><tspan x="-40.15">U</tspan><tspan x="-20.07">D</tspan></text>
</g>
<line x1="1201.30" y1="913.38" x2="1208.30" y2="913.38" stroke="#000" stroke-width="2" stroke-linecap="butt"/>
<g transform="translate(1197.50,922.58) scale(1,1.04)">
<text y="0" font-size="27.80" fill="#000"><tspan x="-56.38">R</tspan><tspan x="-36.82">S</tspan><tspan x="-18.54">P</tspan></text>
</g>
<line x1="1201.30" y1="961.42" x2="1208.30" y2="961.42" stroke="#000" stroke-width="2" stroke-linecap="butt"/>
<g transform="translate(1197.50,970.62) scale(1,1.04)">
<text y="0" font-size="27.80" fill="#000"><tspan x="-66.44">P</tspan><tspan x="-48.41">T</tspan><tspan x="-31.94">L</tspan><tspan x="-15.97">p</tspan></text>
</g>
<line x1="1201.30" y1="1009.47" x2="1208.30" y2="1009.47" stroke="#000" stroke-width="2" stroke-linecap="butt"/>
<g transform="translate(1197.50,1018.67) scale(1,1.04)">
<text y="0" font-size="27.80" fill="#000"><tspan x="-42.98">V</tspan><tspan x="-25.48">I</tspan><tspan x="-18.28">S</tspan></text>
</g>
<line x1="1231.97" y1="1033.50" x2="1231.97" y2="1040.50" stroke="#000" stroke-width="2" stroke-linecap="butt"/>
<g transform="translate(1247.88,1056.90) rotate(-60) scale(1,1.04)">
<text y="0" font-size="27.80" fill="#000"><tspan x="-55.63">L</tspan><tspan x="-40.17">2</tspan><tspan x="-23.95">/</tspan><tspan x="-15.46">3</tspan></text>
</g>
<line x1="1279.33" y1="1033.50" x2="1279.33" y2="1040.50" stroke="#000" stroke-width="2" stroke-linecap="butt"/>
<g transform="translate(1295.23,1056.90) rotate(-60) scale(1,1.04)">
<text y="0" font-size="27.80" fill="#000"><tspan x="-30.92">L</tspan><tspan x="-15.46">4</tspan></text>
</g>
<line x1="1326.67" y1="1033.50" x2="1326.67" y2="1040.50" stroke="#000" stroke-width="2" stroke-linecap="butt"/>
<g transform="translate(1342.58,1056.90) rotate(-60) scale(1,1.04)">
<text y="0" font-size="27.80" fill="#000"><tspan x="-64.89">L</tspan><tspan x="-49.43">5</tspan><tspan x="-33.19">-</tspan><tspan x="-23.42">I</tspan><tspan x="-16.47">T</tspan></text>
</g>
<line x1="1374.03" y1="1033.50" x2="1374.03" y2="1040.50" stroke="#000" stroke-width="2" stroke-linecap="butt"/>
<g transform="translate(1389.93,1056.90) rotate(-60) scale(1,1.04)">
<text y="0" font-size="27.80" fill="#000"><tspan x="-64.89">L</tspan><tspan x="-49.43">6</tspan><tspan x="-33.19">-</tspan><tspan x="-23.42">I</tspan><tspan x="-16.47">T</tspan></text>
</g>
<g transform="translate(1251.72,1145.40) scale(1,1.04)">
<text y="0" font-size="27.18" fill="#000"><tspan x="-0.26">S</tspan><tspan x="17.61">u</tspan><tspan x="33.23">b</tspan><tspan x="49.35">c</tspan><tspan x="63.44">l</tspan><tspan x="69.22">a</tspan><tspan x="84.08">s</tspan><tspan x="97.67">s</tspan></text>
</g>
</svg></body></html>
